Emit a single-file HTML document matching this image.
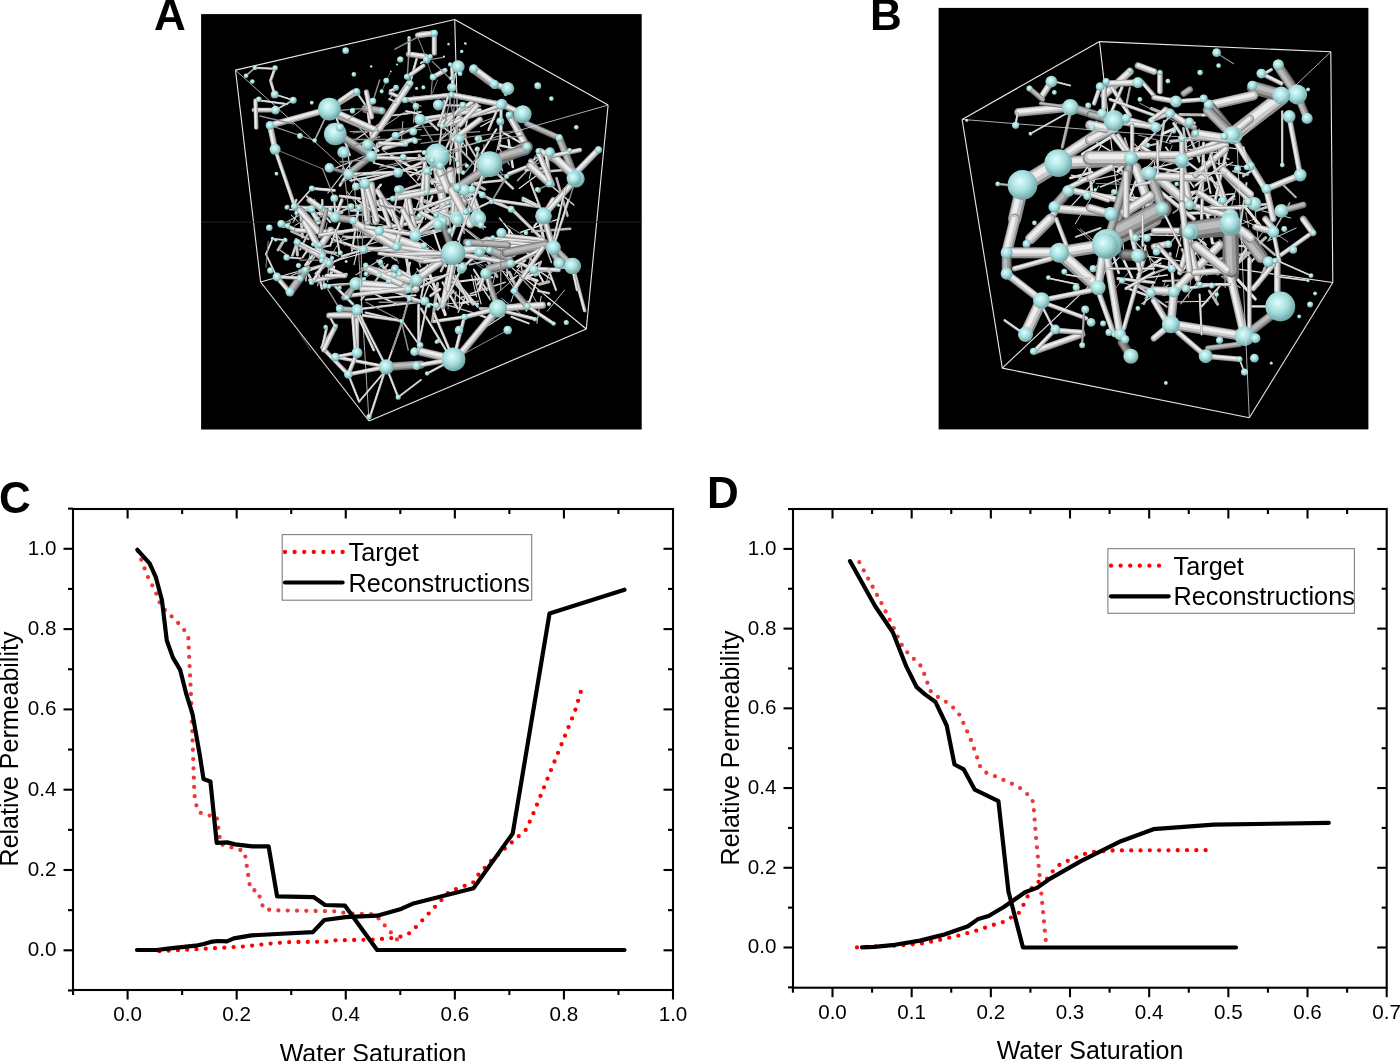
<!DOCTYPE html>
<html><head><meta charset="utf-8"><style>
html,body{margin:0;padding:0;background:#fff;}
svg{display:block;will-change:transform;}
text{font-family:"Liberation Sans", sans-serif;fill:#000;}
</style></head><body>
<svg width="1400" height="1061" viewBox="0 0 1400 1061">
<defs>
<radialGradient id="sg" cx="0.42" cy="0.38" r="0.62"><stop offset="0" stop-color="#dcffff"/><stop offset="0.55" stop-color="#a6dcdc"/><stop offset="1" stop-color="#6fa3a3"/></radialGradient>
<clipPath id="clipA"><rect x="201.1" y="14.1" width="440.6" height="415.4"/></clipPath>
<clipPath id="clipB"><rect x="938.6" y="7.9" width="429.8" height="421.5"/></clipPath>
</defs>
<rect width="1400" height="1061" fill="#fff"/>
<rect x="201.1" y="14.1" width="440.6" height="415.4" fill="#000"/>
<rect x="938.6" y="7.9" width="429.8" height="421.5" fill="#000"/>
<line x1="235.5" y1="70.1" x2="454.7" y2="19.5" stroke="#e8e8e8" stroke-width="1.1"/>
<line x1="454.7" y1="19.5" x2="608.1" y2="105.1" stroke="#e8e8e8" stroke-width="1.1"/>
<line x1="608.1" y1="105.1" x2="586.3" y2="329" stroke="#e8e8e8" stroke-width="1.1"/>
<line x1="586.3" y1="329" x2="369" y2="421" stroke="#e8e8e8" stroke-width="1.1"/>
<line x1="369" y1="421" x2="260.6" y2="282" stroke="#e8e8e8" stroke-width="1.1"/>
<line x1="260.6" y1="282" x2="235.5" y2="70.1" stroke="#e8e8e8" stroke-width="1.1"/>
<line x1="460.5" y1="225.5" x2="454.7" y2="19.5" stroke="#e8e8e8" stroke-width="1.1"/>
<line x1="460.5" y1="225.5" x2="586.3" y2="329" stroke="#e8e8e8" stroke-width="1.1"/>
<line x1="460.5" y1="225.5" x2="260.6" y2="282" stroke="#e8e8e8" stroke-width="1.1"/>
<line x1="962.1" y1="119.4" x2="1099.5" y2="41.6" stroke="#e8e8e8" stroke-width="1.1"/>
<line x1="1099.5" y1="41.6" x2="1330.8" y2="51.8" stroke="#e8e8e8" stroke-width="1.1"/>
<line x1="1330.8" y1="51.8" x2="1332.8" y2="282.5" stroke="#e8e8e8" stroke-width="1.1"/>
<line x1="1332.8" y1="282.5" x2="1249.3" y2="417.7" stroke="#e8e8e8" stroke-width="1.1"/>
<line x1="1249.3" y1="417.7" x2="1002.3" y2="368.1" stroke="#e8e8e8" stroke-width="1.1"/>
<line x1="1002.3" y1="368.1" x2="962.1" y2="119.4" stroke="#e8e8e8" stroke-width="1.1"/>
<line x1="1124" y1="253" x2="1099.5" y2="41.6" stroke="#e8e8e8" stroke-width="1.1"/>
<line x1="1124" y1="253" x2="1332.8" y2="282.5" stroke="#e8e8e8" stroke-width="1.1"/>
<line x1="1124" y1="253" x2="1002.3" y2="368.1" stroke="#e8e8e8" stroke-width="1.1"/>
<g clip-path="url(#clipA)">
<line x1="508.5" y1="140.1" x2="512.8" y2="167.1" stroke="#e2e2e2" stroke-width="2.5" stroke-linecap="round"/>
<line x1="521.2" y1="117.0" x2="511.6" y2="122.4" stroke="#c8c8c8" stroke-width="1.5" stroke-linecap="round"/>
<line x1="500.4" y1="137.7" x2="489.7" y2="174.2" stroke="#b8b8b8" stroke-width="0.8" stroke-linecap="round"/>
<line x1="450.5" y1="289.9" x2="468.6" y2="304.6" stroke="#c8c8c8" stroke-width="1.5" stroke-linecap="round"/>
<line x1="459.9" y1="239.2" x2="452.8" y2="281.5" stroke="#d6d6d6" stroke-width="1.2" stroke-linecap="round"/>
<line x1="511.8" y1="254.8" x2="469.6" y2="264.8" stroke="#c8c8c8" stroke-width="1.5" stroke-linecap="round"/>
<line x1="428.6" y1="248.1" x2="394.4" y2="255.0" stroke="#d6d6d6" stroke-width="1.5" stroke-linecap="round"/>
<line x1="422.9" y1="213.9" x2="386.7" y2="232.9" stroke="#e2e2e2" stroke-width="2.0" stroke-linecap="round"/>
<line x1="477.9" y1="101.8" x2="463.0" y2="112.7" stroke="#d6d6d6" stroke-width="1.5" stroke-linecap="round"/>
<line x1="432.1" y1="271.8" x2="406.8" y2="299.0" stroke="#e2e2e2" stroke-width="0.8" stroke-linecap="round"/>
<line x1="494.6" y1="118.9" x2="480.8" y2="126.5" stroke="#e2e2e2" stroke-width="1.2" stroke-linecap="round"/>
<line x1="409.8" y1="262.9" x2="402.1" y2="293.4" stroke="#d6d6d6" stroke-width="2.5" stroke-linecap="round"/>
<line x1="369.6" y1="144.6" x2="378.0" y2="150.7" stroke="#d6d6d6" stroke-width="3.0" stroke-linecap="round"/>
<line x1="419.2" y1="154.4" x2="436.8" y2="190.0" stroke="#c8c8c8" stroke-width="1.2" stroke-linecap="round"/>
<line x1="444.6" y1="275.8" x2="401.9" y2="284.1" stroke="#d6d6d6" stroke-width="2.0" stroke-linecap="round"/>
<line x1="442.0" y1="215.7" x2="466.6" y2="220.1" stroke="#b8b8b8" stroke-width="3.0" stroke-linecap="round"/>
<line x1="465.4" y1="128.1" x2="466.8" y2="155.8" stroke="#e2e2e2" stroke-width="1.2" stroke-linecap="round"/>
<line x1="420.1" y1="198.2" x2="409.1" y2="228.0" stroke="#c8c8c8" stroke-width="1.5" stroke-linecap="round"/>
<line x1="507.7" y1="225.6" x2="532.4" y2="241.3" stroke="#b8b8b8" stroke-width="0.8" stroke-linecap="round"/>
<line x1="432.6" y1="251.0" x2="445.8" y2="265.8" stroke="#d6d6d6" stroke-width="3.0" stroke-linecap="round"/>
<line x1="414.9" y1="106.8" x2="413.5" y2="122.4" stroke="#b8b8b8" stroke-width="1.0" stroke-linecap="round"/>
<line x1="483.9" y1="144.5" x2="484.3" y2="179.1" stroke="#c8c8c8" stroke-width="0.8" stroke-linecap="round"/>
<line x1="393.7" y1="158.4" x2="419.8" y2="185.8" stroke="#d6d6d6" stroke-width="1.2" stroke-linecap="round"/>
<line x1="540.3" y1="176.3" x2="573.8" y2="205.0" stroke="#d6d6d6" stroke-width="1.5" stroke-linecap="round"/>
<line x1="448.3" y1="200.1" x2="426.7" y2="212.6" stroke="#e2e2e2" stroke-width="2.5" stroke-linecap="round"/>
<line x1="389.1" y1="224.6" x2="383.5" y2="247.8" stroke="#e2e2e2" stroke-width="1.2" stroke-linecap="round"/>
<line x1="368.8" y1="154.3" x2="328.2" y2="171.1" stroke="#c8c8c8" stroke-width="1.2" stroke-linecap="round"/>
<line x1="547.3" y1="149.7" x2="517.6" y2="180.6" stroke="#b8b8b8" stroke-width="1.5" stroke-linecap="round"/>
<line x1="370.6" y1="198.7" x2="359.4" y2="236.8" stroke="#e2e2e2" stroke-width="1.0" stroke-linecap="round"/>
<line x1="387.6" y1="264.6" x2="361.3" y2="299.9" stroke="#c8c8c8" stroke-width="2.0" stroke-linecap="round"/>
<line x1="426.4" y1="165.5" x2="417.5" y2="180.2" stroke="#d6d6d6" stroke-width="1.5" stroke-linecap="round"/>
<line x1="448.4" y1="285.1" x2="448.1" y2="308.8" stroke="#b8b8b8" stroke-width="0.8" stroke-linecap="round"/>
<line x1="467.0" y1="179.8" x2="484.5" y2="189.2" stroke="#b8b8b8" stroke-width="3.0" stroke-linecap="round"/>
<line x1="356.9" y1="187.3" x2="375.3" y2="193.0" stroke="#b8b8b8" stroke-width="1.5" stroke-linecap="round"/>
<line x1="443.9" y1="258.4" x2="471.9" y2="264.2" stroke="#c8c8c8" stroke-width="0.8" stroke-linecap="round"/>
<line x1="356.0" y1="124.2" x2="375.2" y2="145.7" stroke="#b8b8b8" stroke-width="1.2" stroke-linecap="round"/>
<line x1="428.9" y1="167.4" x2="410.4" y2="175.5" stroke="#e2e2e2" stroke-width="2.0" stroke-linecap="round"/>
<line x1="359.4" y1="214.9" x2="372.9" y2="216.6" stroke="#e2e2e2" stroke-width="0.8" stroke-linecap="round"/>
<line x1="524.9" y1="248.4" x2="543.6" y2="282.6" stroke="#e2e2e2" stroke-width="2.0" stroke-linecap="round"/>
<line x1="367.4" y1="213.3" x2="337.9" y2="217.8" stroke="#b8b8b8" stroke-width="1.2" stroke-linecap="round"/>
<line x1="456.4" y1="284.3" x2="473.2" y2="304.2" stroke="#c8c8c8" stroke-width="3.0" stroke-linecap="round"/>
<line x1="495.8" y1="116.8" x2="482.6" y2="121.7" stroke="#d6d6d6" stroke-width="0.8" stroke-linecap="round"/>
<line x1="426.1" y1="118.8" x2="437.6" y2="129.7" stroke="#c8c8c8" stroke-width="2.5" stroke-linecap="round"/>
<line x1="437.6" y1="283.6" x2="432.5" y2="321.5" stroke="#b8b8b8" stroke-width="3.0" stroke-linecap="round"/>
<line x1="453.2" y1="243.1" x2="469.9" y2="255.8" stroke="#c8c8c8" stroke-width="1.2" stroke-linecap="round"/>
<line x1="544.3" y1="242.6" x2="551.4" y2="262.6" stroke="#c8c8c8" stroke-width="1.5" stroke-linecap="round"/>
<line x1="347.6" y1="151.3" x2="351.9" y2="182.0" stroke="#d6d6d6" stroke-width="1.2" stroke-linecap="round"/>
<line x1="534.4" y1="255.0" x2="496.7" y2="271.7" stroke="#b8b8b8" stroke-width="1.5" stroke-linecap="round"/>
<line x1="387.2" y1="206.5" x2="402.0" y2="221.0" stroke="#b8b8b8" stroke-width="0.8" stroke-linecap="round"/>
<line x1="357.1" y1="251.8" x2="354.0" y2="264.6" stroke="#d6d6d6" stroke-width="1.2" stroke-linecap="round"/>
<line x1="419.0" y1="155.4" x2="430.7" y2="173.4" stroke="#b8b8b8" stroke-width="3.0" stroke-linecap="round"/>
<line x1="404.5" y1="112.3" x2="378.6" y2="130.1" stroke="#d6d6d6" stroke-width="0.8" stroke-linecap="round"/>
<line x1="377.6" y1="260.8" x2="393.6" y2="278.7" stroke="#c8c8c8" stroke-width="3.0" stroke-linecap="round"/>
<line x1="398.6" y1="192.2" x2="436.6" y2="204.7" stroke="#b8b8b8" stroke-width="3.0" stroke-linecap="round"/>
<line x1="393.7" y1="251.2" x2="356.0" y2="274.8" stroke="#b8b8b8" stroke-width="1.2" stroke-linecap="round"/>
<line x1="346.8" y1="191.2" x2="372.3" y2="224.8" stroke="#d6d6d6" stroke-width="1.0" stroke-linecap="round"/>
<line x1="476.2" y1="241.8" x2="444.7" y2="261.7" stroke="#d6d6d6" stroke-width="2.0" stroke-linecap="round"/>
<line x1="380.8" y1="184.8" x2="371.1" y2="196.9" stroke="#d6d6d6" stroke-width="2.5" stroke-linecap="round"/>
<line x1="458.4" y1="194.0" x2="464.2" y2="233.4" stroke="#b8b8b8" stroke-width="1.5" stroke-linecap="round"/>
<line x1="392.9" y1="198.0" x2="356.0" y2="206.0" stroke="#c8c8c8" stroke-width="2.0" stroke-linecap="round"/>
<line x1="342.5" y1="171.7" x2="356.2" y2="177.4" stroke="#b8b8b8" stroke-width="1.2" stroke-linecap="round"/>
<line x1="414.8" y1="173.7" x2="438.2" y2="194.8" stroke="#d6d6d6" stroke-width="0.8" stroke-linecap="round"/>
<line x1="453.5" y1="189.1" x2="459.8" y2="221.2" stroke="#d6d6d6" stroke-width="2.5" stroke-linecap="round"/>
<line x1="379.7" y1="195.3" x2="400.0" y2="212.7" stroke="#b8b8b8" stroke-width="1.5" stroke-linecap="round"/>
<line x1="450.2" y1="274.4" x2="477.6" y2="306.5" stroke="#d6d6d6" stroke-width="2.5" stroke-linecap="round"/>
<line x1="458.5" y1="279.0" x2="446.9" y2="289.5" stroke="#b8b8b8" stroke-width="1.0" stroke-linecap="round"/>
<line x1="391.0" y1="155.6" x2="416.4" y2="170.2" stroke="#e2e2e2" stroke-width="2.5" stroke-linecap="round"/>
<line x1="492.3" y1="277.2" x2="451.2" y2="282.4" stroke="#e2e2e2" stroke-width="2.0" stroke-linecap="round"/>
<line x1="377.5" y1="144.0" x2="373.6" y2="161.2" stroke="#c8c8c8" stroke-width="3.0" stroke-linecap="round"/>
<line x1="443.1" y1="167.6" x2="454.6" y2="197.7" stroke="#d6d6d6" stroke-width="3.0" stroke-linecap="round"/>
<line x1="446.6" y1="304.8" x2="473.8" y2="312.8" stroke="#c8c8c8" stroke-width="1.2" stroke-linecap="round"/>
<line x1="376.8" y1="282.5" x2="416.3" y2="300.9" stroke="#c8c8c8" stroke-width="3.0" stroke-linecap="round"/>
<line x1="429.4" y1="273.6" x2="445.3" y2="314.6" stroke="#e2e2e2" stroke-width="3.0" stroke-linecap="round"/>
<line x1="431.1" y1="279.4" x2="421.6" y2="302.9" stroke="#d6d6d6" stroke-width="1.5" stroke-linecap="round"/>
<line x1="351.1" y1="221.7" x2="373.7" y2="230.5" stroke="#b8b8b8" stroke-width="1.2" stroke-linecap="round"/>
<line x1="387.9" y1="254.6" x2="396.3" y2="260.3" stroke="#c8c8c8" stroke-width="1.5" stroke-linecap="round"/>
<line x1="383.5" y1="151.1" x2="397.9" y2="158.3" stroke="#b8b8b8" stroke-width="1.0" stroke-linecap="round"/>
<line x1="403.3" y1="239.8" x2="409.8" y2="278.3" stroke="#d6d6d6" stroke-width="3.0" stroke-linecap="round"/>
<line x1="475.4" y1="189.8" x2="445.5" y2="216.3" stroke="#e2e2e2" stroke-width="2.0" stroke-linecap="round"/>
<line x1="361.3" y1="268.6" x2="402.9" y2="271.8" stroke="#c8c8c8" stroke-width="2.0" stroke-linecap="round"/>
<line x1="478.7" y1="301.1" x2="442.2" y2="304.2" stroke="#c8c8c8" stroke-width="1.0" stroke-linecap="round"/>
<line x1="450.2" y1="209.8" x2="450.0" y2="230.7" stroke="#b8b8b8" stroke-width="1.2" stroke-linecap="round"/>
<line x1="447.7" y1="156.5" x2="429.1" y2="171.6" stroke="#e2e2e2" stroke-width="2.5" stroke-linecap="round"/>
<line x1="432.2" y1="196.5" x2="413.7" y2="237.4" stroke="#d6d6d6" stroke-width="2.5" stroke-linecap="round"/>
<line x1="556.5" y1="178.1" x2="567.5" y2="215.7" stroke="#b8b8b8" stroke-width="2.5" stroke-linecap="round"/>
<line x1="496.4" y1="129.4" x2="481.3" y2="153.5" stroke="#e2e2e2" stroke-width="2.0" stroke-linecap="round"/>
<line x1="574.0" y1="169.3" x2="542.3" y2="171.8" stroke="#c8c8c8" stroke-width="2.5" stroke-linecap="round"/>
<line x1="455.6" y1="242.1" x2="441.0" y2="271.1" stroke="#c8c8c8" stroke-width="2.5" stroke-linecap="round"/>
<line x1="444.4" y1="229.0" x2="412.8" y2="235.3" stroke="#b8b8b8" stroke-width="3.0" stroke-linecap="round"/>
<line x1="535.9" y1="243.0" x2="523.4" y2="279.4" stroke="#b8b8b8" stroke-width="1.2" stroke-linecap="round"/>
<line x1="483.6" y1="154.2" x2="501.5" y2="173.3" stroke="#e2e2e2" stroke-width="1.0" stroke-linecap="round"/>
<line x1="454.3" y1="150.4" x2="450.5" y2="163.3" stroke="#b8b8b8" stroke-width="0.8" stroke-linecap="round"/>
<line x1="355.2" y1="186.7" x2="345.6" y2="199.1" stroke="#c8c8c8" stroke-width="1.0" stroke-linecap="round"/>
<line x1="415.1" y1="235.2" x2="439.8" y2="254.2" stroke="#d6d6d6" stroke-width="1.0" stroke-linecap="round"/>
<line x1="544.2" y1="153.3" x2="533.3" y2="159.7" stroke="#b8b8b8" stroke-width="2.0" stroke-linecap="round"/>
<line x1="439.1" y1="212.4" x2="446.1" y2="221.8" stroke="#b8b8b8" stroke-width="2.5" stroke-linecap="round"/>
<line x1="413.2" y1="244.1" x2="420.5" y2="266.7" stroke="#b8b8b8" stroke-width="1.5" stroke-linecap="round"/>
<line x1="543.2" y1="168.2" x2="525.5" y2="170.2" stroke="#d6d6d6" stroke-width="2.5" stroke-linecap="round"/>
<line x1="539.6" y1="220.4" x2="544.1" y2="241.0" stroke="#d6d6d6" stroke-width="3.0" stroke-linecap="round"/>
<line x1="501.8" y1="131.9" x2="529.5" y2="147.8" stroke="#e2e2e2" stroke-width="2.0" stroke-linecap="round"/>
<line x1="476.2" y1="294.6" x2="461.2" y2="297.2" stroke="#d6d6d6" stroke-width="1.5" stroke-linecap="round"/>
<line x1="486.4" y1="163.4" x2="512.8" y2="188.3" stroke="#d6d6d6" stroke-width="2.5" stroke-linecap="round"/>
<line x1="498.1" y1="157.6" x2="502.4" y2="170.7" stroke="#c8c8c8" stroke-width="1.5" stroke-linecap="round"/>
<line x1="509.3" y1="229.9" x2="506.8" y2="257.1" stroke="#e2e2e2" stroke-width="2.5" stroke-linecap="round"/>
<line x1="417.8" y1="270.1" x2="409.7" y2="281.8" stroke="#d6d6d6" stroke-width="0.8" stroke-linecap="round"/>
<line x1="416.9" y1="198.1" x2="437.0" y2="209.8" stroke="#d6d6d6" stroke-width="1.0" stroke-linecap="round"/>
<line x1="459.5" y1="129.4" x2="477.3" y2="159.6" stroke="#c8c8c8" stroke-width="2.0" stroke-linecap="round"/>
<line x1="535.2" y1="155.8" x2="529.3" y2="178.4" stroke="#e2e2e2" stroke-width="1.0" stroke-linecap="round"/>
<line x1="384.8" y1="263.2" x2="358.8" y2="282.9" stroke="#c8c8c8" stroke-width="0.8" stroke-linecap="round"/>
<line x1="427.0" y1="269.8" x2="421.1" y2="298.2" stroke="#d6d6d6" stroke-width="1.2" stroke-linecap="round"/>
<line x1="343.0" y1="236.5" x2="363.6" y2="237.4" stroke="#c8c8c8" stroke-width="2.0" stroke-linecap="round"/>
<line x1="472.2" y1="113.5" x2="439.3" y2="140.6" stroke="#c8c8c8" stroke-width="1.5" stroke-linecap="round"/>
<line x1="374.1" y1="199.3" x2="383.4" y2="210.5" stroke="#d6d6d6" stroke-width="3.0" stroke-linecap="round"/>
<line x1="503.5" y1="180.3" x2="471.5" y2="183.4" stroke="#d6d6d6" stroke-width="2.5" stroke-linecap="round"/>
<line x1="375.4" y1="213.6" x2="407.5" y2="233.3" stroke="#c8c8c8" stroke-width="1.5" stroke-linecap="round"/>
<line x1="552.1" y1="203.5" x2="534.3" y2="226.2" stroke="#e2e2e2" stroke-width="2.0" stroke-linecap="round"/>
<line x1="375.0" y1="223.3" x2="417.9" y2="233.2" stroke="#c8c8c8" stroke-width="1.0" stroke-linecap="round"/>
<line x1="525.9" y1="277.3" x2="537.2" y2="280.6" stroke="#e2e2e2" stroke-width="3.0" stroke-linecap="round"/>
<line x1="440.6" y1="116.8" x2="459.9" y2="124.9" stroke="#e2e2e2" stroke-width="0.8" stroke-linecap="round"/>
<line x1="505.2" y1="282.3" x2="470.3" y2="293.8" stroke="#c8c8c8" stroke-width="1.5" stroke-linecap="round"/>
<line x1="499.5" y1="148.7" x2="509.3" y2="164.7" stroke="#c8c8c8" stroke-width="1.2" stroke-linecap="round"/>
<line x1="391.5" y1="245.5" x2="398.5" y2="263.3" stroke="#b8b8b8" stroke-width="0.8" stroke-linecap="round"/>
<line x1="451.2" y1="122.0" x2="450.0" y2="164.3" stroke="#e2e2e2" stroke-width="1.5" stroke-linecap="round"/>
<line x1="371.9" y1="236.6" x2="346.2" y2="237.5" stroke="#c8c8c8" stroke-width="2.5" stroke-linecap="round"/>
<line x1="402.8" y1="121.5" x2="401.2" y2="144.4" stroke="#e2e2e2" stroke-width="0.8" stroke-linecap="round"/>
<line x1="419.3" y1="217.6" x2="409.6" y2="223.9" stroke="#b8b8b8" stroke-width="2.5" stroke-linecap="round"/>
<line x1="437.9" y1="160.0" x2="424.2" y2="173.9" stroke="#c8c8c8" stroke-width="2.0" stroke-linecap="round"/>
<line x1="445.1" y1="113.3" x2="467.0" y2="149.2" stroke="#c8c8c8" stroke-width="1.2" stroke-linecap="round"/>
<line x1="433.6" y1="146.9" x2="444.3" y2="170.5" stroke="#e2e2e2" stroke-width="2.5" stroke-linecap="round"/>
<line x1="381.0" y1="209.6" x2="350.9" y2="210.3" stroke="#d6d6d6" stroke-width="3.0" stroke-linecap="round"/>
<line x1="507.8" y1="254.8" x2="485.5" y2="258.8" stroke="#b8b8b8" stroke-width="2.5" stroke-linecap="round"/>
<line x1="429.8" y1="175.5" x2="425.4" y2="219.6" stroke="#c8c8c8" stroke-width="1.0" stroke-linecap="round"/>
<line x1="383.3" y1="240.0" x2="354.9" y2="248.6" stroke="#e2e2e2" stroke-width="1.0" stroke-linecap="round"/>
<line x1="570.2" y1="228.8" x2="531.9" y2="231.4" stroke="#b8b8b8" stroke-width="2.5" stroke-linecap="round"/>
<line x1="500.7" y1="136.9" x2="498.0" y2="148.9" stroke="#c8c8c8" stroke-width="2.5" stroke-linecap="round"/>
<line x1="539.4" y1="262.5" x2="524.0" y2="271.1" stroke="#e2e2e2" stroke-width="2.0" stroke-linecap="round"/>
<line x1="352.2" y1="161.6" x2="327.9" y2="193.0" stroke="#d6d6d6" stroke-width="1.2" stroke-linecap="round"/>
<line x1="559.0" y1="218.9" x2="521.0" y2="232.3" stroke="#e2e2e2" stroke-width="1.5" stroke-linecap="round"/>
<line x1="486.4" y1="254.7" x2="517.5" y2="287.2" stroke="#c8c8c8" stroke-width="1.0" stroke-linecap="round"/>
<line x1="506.2" y1="247.8" x2="507.3" y2="275.8" stroke="#e2e2e2" stroke-width="1.5" stroke-linecap="round"/>
<line x1="446.2" y1="131.4" x2="434.7" y2="148.3" stroke="#c8c8c8" stroke-width="0.8" stroke-linecap="round"/>
<line x1="499.5" y1="218.1" x2="527.7" y2="252.8" stroke="#e2e2e2" stroke-width="1.5" stroke-linecap="round"/>
<line x1="461.8" y1="216.9" x2="485.5" y2="227.2" stroke="#d6d6d6" stroke-width="1.5" stroke-linecap="round"/>
<line x1="464.8" y1="297.9" x2="458.2" y2="312.2" stroke="#c8c8c8" stroke-width="1.5" stroke-linecap="round"/>
<line x1="440.0" y1="177.5" x2="399.5" y2="191.4" stroke="#c8c8c8" stroke-width="2.5" stroke-linecap="round"/>
<line x1="540.2" y1="172.7" x2="519.1" y2="188.4" stroke="#e2e2e2" stroke-width="1.2" stroke-linecap="round"/>
<line x1="387.0" y1="118.8" x2="349.6" y2="143.5" stroke="#d6d6d6" stroke-width="1.2" stroke-linecap="round"/>
<line x1="455.1" y1="144.0" x2="486.1" y2="176.6" stroke="#b8b8b8" stroke-width="2.0" stroke-linecap="round"/>
<line x1="514.7" y1="237.1" x2="495.5" y2="253.3" stroke="#d6d6d6" stroke-width="1.5" stroke-linecap="round"/>
<line x1="453.1" y1="290.8" x2="437.6" y2="309.1" stroke="#c8c8c8" stroke-width="3.0" stroke-linecap="round"/>
<line x1="359.0" y1="206.3" x2="352.0" y2="250.7" stroke="#e2e2e2" stroke-width="2.0" stroke-linecap="round"/>
<line x1="393.9" y1="291.7" x2="435.6" y2="305.7" stroke="#e2e2e2" stroke-width="2.0" stroke-linecap="round"/>
<line x1="539.3" y1="236.9" x2="514.7" y2="274.4" stroke="#e2e2e2" stroke-width="1.0" stroke-linecap="round"/>
<line x1="515.6" y1="244.2" x2="524.7" y2="251.5" stroke="#c8c8c8" stroke-width="2.5" stroke-linecap="round"/>
<line x1="433.4" y1="230.3" x2="442.4" y2="256.2" stroke="#e2e2e2" stroke-width="2.0" stroke-linecap="round"/>
<line x1="342.5" y1="168.8" x2="376.2" y2="193.5" stroke="#b8b8b8" stroke-width="2.0" stroke-linecap="round"/>
<line x1="417.0" y1="268.9" x2="444.6" y2="304.1" stroke="#d6d6d6" stroke-width="1.5" stroke-linecap="round"/>
<line x1="519.6" y1="249.2" x2="498.9" y2="257.1" stroke="#b8b8b8" stroke-width="2.5" stroke-linecap="round"/>
<line x1="357.8" y1="228.3" x2="338.2" y2="234.4" stroke="#d6d6d6" stroke-width="0.8" stroke-linecap="round"/>
<line x1="443.5" y1="152.6" x2="460.2" y2="161.0" stroke="#d6d6d6" stroke-width="1.2" stroke-linecap="round"/>
</g>
<g clip-path="url(#clipB)">
<line x1="1249.3" y1="238.4" x2="1268.3" y2="266.0" stroke="#d6d6d6" stroke-width="2.0" stroke-linecap="round"/>
<line x1="1206.8" y1="213.7" x2="1210.2" y2="228.8" stroke="#b8b8b8" stroke-width="1.5" stroke-linecap="round"/>
<line x1="1185.1" y1="192.9" x2="1204.4" y2="195.1" stroke="#b8b8b8" stroke-width="0.8" stroke-linecap="round"/>
<line x1="1188.3" y1="164.8" x2="1166.3" y2="172.6" stroke="#d6d6d6" stroke-width="2.0" stroke-linecap="round"/>
<line x1="1195.5" y1="147.6" x2="1201.1" y2="156.8" stroke="#b8b8b8" stroke-width="1.0" stroke-linecap="round"/>
<line x1="1265.6" y1="237.7" x2="1234.9" y2="266.0" stroke="#b8b8b8" stroke-width="3.0" stroke-linecap="round"/>
<line x1="1167.3" y1="275.0" x2="1141.9" y2="278.6" stroke="#e2e2e2" stroke-width="1.5" stroke-linecap="round"/>
<line x1="1219.0" y1="145.1" x2="1219.1" y2="164.9" stroke="#b8b8b8" stroke-width="2.0" stroke-linecap="round"/>
<line x1="1211.2" y1="177.4" x2="1230.0" y2="214.5" stroke="#e2e2e2" stroke-width="2.5" stroke-linecap="round"/>
<line x1="1188.3" y1="140.7" x2="1175.8" y2="158.0" stroke="#b8b8b8" stroke-width="1.0" stroke-linecap="round"/>
<line x1="1145.5" y1="245.7" x2="1137.9" y2="284.0" stroke="#e2e2e2" stroke-width="2.0" stroke-linecap="round"/>
<line x1="1157.3" y1="143.7" x2="1129.9" y2="149.4" stroke="#c8c8c8" stroke-width="2.0" stroke-linecap="round"/>
<line x1="1251.8" y1="170.5" x2="1243.2" y2="176.1" stroke="#c8c8c8" stroke-width="2.5" stroke-linecap="round"/>
<line x1="1080.5" y1="229.2" x2="1095.3" y2="242.0" stroke="#d6d6d6" stroke-width="0.8" stroke-linecap="round"/>
<line x1="1129.1" y1="271.5" x2="1113.5" y2="290.7" stroke="#c8c8c8" stroke-width="0.8" stroke-linecap="round"/>
<line x1="1138.5" y1="135.1" x2="1170.9" y2="143.7" stroke="#c8c8c8" stroke-width="0.8" stroke-linecap="round"/>
<line x1="1171.5" y1="114.7" x2="1142.7" y2="146.4" stroke="#c8c8c8" stroke-width="2.0" stroke-linecap="round"/>
<line x1="1140.0" y1="103.4" x2="1179.7" y2="123.9" stroke="#c8c8c8" stroke-width="0.8" stroke-linecap="round"/>
<line x1="1133.9" y1="221.8" x2="1167.6" y2="234.3" stroke="#e2e2e2" stroke-width="1.2" stroke-linecap="round"/>
<line x1="1094.4" y1="181.3" x2="1069.2" y2="208.1" stroke="#e2e2e2" stroke-width="1.2" stroke-linecap="round"/>
<line x1="1254.7" y1="237.4" x2="1274.8" y2="254.7" stroke="#b8b8b8" stroke-width="2.5" stroke-linecap="round"/>
<line x1="1182.1" y1="249.6" x2="1196.0" y2="272.8" stroke="#b8b8b8" stroke-width="3.0" stroke-linecap="round"/>
<line x1="1119.7" y1="225.5" x2="1144.3" y2="226.9" stroke="#d6d6d6" stroke-width="2.0" stroke-linecap="round"/>
<line x1="1216.2" y1="151.9" x2="1228.8" y2="159.3" stroke="#d6d6d6" stroke-width="1.5" stroke-linecap="round"/>
<line x1="1208.2" y1="301.3" x2="1165.5" y2="302.1" stroke="#e2e2e2" stroke-width="1.0" stroke-linecap="round"/>
<line x1="1118.4" y1="248.9" x2="1132.0" y2="277.7" stroke="#e2e2e2" stroke-width="2.5" stroke-linecap="round"/>
<line x1="1133.6" y1="248.0" x2="1139.0" y2="262.3" stroke="#c8c8c8" stroke-width="1.0" stroke-linecap="round"/>
<line x1="1180.9" y1="122.1" x2="1194.4" y2="123.0" stroke="#d6d6d6" stroke-width="3.0" stroke-linecap="round"/>
<line x1="1217.0" y1="182.4" x2="1227.6" y2="209.1" stroke="#d6d6d6" stroke-width="2.5" stroke-linecap="round"/>
<line x1="1238.9" y1="178.2" x2="1231.8" y2="205.2" stroke="#e2e2e2" stroke-width="0.8" stroke-linecap="round"/>
<line x1="1289.7" y1="202.9" x2="1269.0" y2="239.7" stroke="#b8b8b8" stroke-width="1.5" stroke-linecap="round"/>
<line x1="1117.8" y1="174.7" x2="1084.4" y2="181.9" stroke="#c8c8c8" stroke-width="1.2" stroke-linecap="round"/>
<line x1="1113.9" y1="135.0" x2="1082.3" y2="154.4" stroke="#e2e2e2" stroke-width="3.0" stroke-linecap="round"/>
<line x1="1100.5" y1="228.0" x2="1075.9" y2="236.9" stroke="#c8c8c8" stroke-width="2.0" stroke-linecap="round"/>
<line x1="1142.0" y1="240.9" x2="1142.5" y2="258.5" stroke="#b8b8b8" stroke-width="0.8" stroke-linecap="round"/>
<line x1="1155.3" y1="180.4" x2="1167.1" y2="214.9" stroke="#b8b8b8" stroke-width="0.8" stroke-linecap="round"/>
<line x1="1274.4" y1="215.3" x2="1249.6" y2="251.1" stroke="#e2e2e2" stroke-width="0.8" stroke-linecap="round"/>
<line x1="1240.1" y1="237.3" x2="1251.9" y2="262.1" stroke="#d6d6d6" stroke-width="1.5" stroke-linecap="round"/>
<line x1="1208.5" y1="188.0" x2="1173.1" y2="213.0" stroke="#b8b8b8" stroke-width="1.5" stroke-linecap="round"/>
<line x1="1164.2" y1="121.0" x2="1159.5" y2="151.5" stroke="#c8c8c8" stroke-width="2.5" stroke-linecap="round"/>
<line x1="1201.0" y1="262.6" x2="1206.8" y2="274.6" stroke="#d6d6d6" stroke-width="2.0" stroke-linecap="round"/>
<line x1="1230.5" y1="266.5" x2="1219.3" y2="267.4" stroke="#d6d6d6" stroke-width="1.5" stroke-linecap="round"/>
<line x1="1221.6" y1="276.5" x2="1240.1" y2="287.6" stroke="#c8c8c8" stroke-width="1.2" stroke-linecap="round"/>
<line x1="1280.5" y1="182.2" x2="1295.8" y2="197.3" stroke="#b8b8b8" stroke-width="2.0" stroke-linecap="round"/>
<line x1="1096.3" y1="122.0" x2="1128.3" y2="151.0" stroke="#b8b8b8" stroke-width="3.0" stroke-linecap="round"/>
<line x1="1245.8" y1="212.3" x2="1248.6" y2="227.1" stroke="#e2e2e2" stroke-width="0.8" stroke-linecap="round"/>
<line x1="1194.7" y1="192.0" x2="1179.8" y2="211.0" stroke="#e2e2e2" stroke-width="1.5" stroke-linecap="round"/>
<line x1="1171.0" y1="209.7" x2="1137.4" y2="219.3" stroke="#d6d6d6" stroke-width="0.8" stroke-linecap="round"/>
<line x1="1185.3" y1="124.6" x2="1199.2" y2="160.6" stroke="#c8c8c8" stroke-width="2.5" stroke-linecap="round"/>
<line x1="1141.6" y1="189.0" x2="1146.1" y2="230.5" stroke="#c8c8c8" stroke-width="1.0" stroke-linecap="round"/>
<line x1="1255.0" y1="218.9" x2="1216.0" y2="233.7" stroke="#e2e2e2" stroke-width="0.8" stroke-linecap="round"/>
<line x1="1260.3" y1="252.3" x2="1248.5" y2="264.5" stroke="#d6d6d6" stroke-width="2.0" stroke-linecap="round"/>
<line x1="1185.5" y1="223.0" x2="1180.0" y2="231.7" stroke="#b8b8b8" stroke-width="1.5" stroke-linecap="round"/>
<line x1="1205.4" y1="138.2" x2="1170.6" y2="141.2" stroke="#c8c8c8" stroke-width="3.0" stroke-linecap="round"/>
<line x1="1159.3" y1="273.8" x2="1144.8" y2="298.5" stroke="#e2e2e2" stroke-width="0.8" stroke-linecap="round"/>
<line x1="1189.1" y1="280.0" x2="1163.0" y2="281.0" stroke="#b8b8b8" stroke-width="2.0" stroke-linecap="round"/>
<line x1="1107.7" y1="237.2" x2="1118.7" y2="272.9" stroke="#d6d6d6" stroke-width="2.5" stroke-linecap="round"/>
<line x1="1098.6" y1="185.9" x2="1075.2" y2="223.9" stroke="#c8c8c8" stroke-width="1.0" stroke-linecap="round"/>
<line x1="1132.2" y1="197.9" x2="1142.2" y2="199.0" stroke="#e2e2e2" stroke-width="3.0" stroke-linecap="round"/>
<line x1="1199.1" y1="129.0" x2="1199.2" y2="162.7" stroke="#e2e2e2" stroke-width="1.0" stroke-linecap="round"/>
<line x1="1219.6" y1="239.8" x2="1233.8" y2="254.7" stroke="#b8b8b8" stroke-width="1.2" stroke-linecap="round"/>
<line x1="1153.0" y1="285.3" x2="1143.9" y2="304.1" stroke="#c8c8c8" stroke-width="2.0" stroke-linecap="round"/>
<line x1="1200.6" y1="140.0" x2="1173.2" y2="154.2" stroke="#c8c8c8" stroke-width="1.0" stroke-linecap="round"/>
<line x1="1133.1" y1="142.9" x2="1152.5" y2="160.2" stroke="#c8c8c8" stroke-width="1.2" stroke-linecap="round"/>
<line x1="1154.4" y1="162.4" x2="1156.1" y2="175.0" stroke="#e2e2e2" stroke-width="1.0" stroke-linecap="round"/>
<line x1="1192.3" y1="158.4" x2="1152.2" y2="168.4" stroke="#d6d6d6" stroke-width="1.5" stroke-linecap="round"/>
<line x1="1101.3" y1="145.5" x2="1092.5" y2="159.6" stroke="#d6d6d6" stroke-width="1.2" stroke-linecap="round"/>
<line x1="1160.8" y1="258.9" x2="1145.9" y2="269.2" stroke="#e2e2e2" stroke-width="2.5" stroke-linecap="round"/>
<line x1="1173.3" y1="265.6" x2="1152.9" y2="273.8" stroke="#b8b8b8" stroke-width="2.0" stroke-linecap="round"/>
<line x1="1258.2" y1="251.1" x2="1218.6" y2="259.3" stroke="#b8b8b8" stroke-width="3.0" stroke-linecap="round"/>
<line x1="1188.5" y1="227.2" x2="1195.6" y2="237.6" stroke="#d6d6d6" stroke-width="1.5" stroke-linecap="round"/>
<line x1="1119.5" y1="281.8" x2="1144.0" y2="288.7" stroke="#b8b8b8" stroke-width="1.0" stroke-linecap="round"/>
<line x1="1092.1" y1="172.3" x2="1070.3" y2="178.0" stroke="#e2e2e2" stroke-width="2.5" stroke-linecap="round"/>
<line x1="1255.1" y1="209.5" x2="1257.9" y2="238.3" stroke="#b8b8b8" stroke-width="1.0" stroke-linecap="round"/>
<line x1="1138.6" y1="287.4" x2="1150.6" y2="293.1" stroke="#b8b8b8" stroke-width="1.0" stroke-linecap="round"/>
<line x1="1125.8" y1="180.8" x2="1134.7" y2="197.3" stroke="#d6d6d6" stroke-width="1.0" stroke-linecap="round"/>
<line x1="1296.1" y1="228.0" x2="1267.6" y2="241.2" stroke="#c8c8c8" stroke-width="1.0" stroke-linecap="round"/>
<line x1="1170.1" y1="253.5" x2="1169.0" y2="268.1" stroke="#c8c8c8" stroke-width="3.0" stroke-linecap="round"/>
<line x1="1144.3" y1="243.8" x2="1154.5" y2="273.5" stroke="#e2e2e2" stroke-width="0.8" stroke-linecap="round"/>
<line x1="1246.5" y1="182.9" x2="1240.8" y2="223.0" stroke="#c8c8c8" stroke-width="2.0" stroke-linecap="round"/>
<line x1="1226.6" y1="211.9" x2="1182.1" y2="213.5" stroke="#e2e2e2" stroke-width="3.0" stroke-linecap="round"/>
<line x1="1124.3" y1="177.4" x2="1100.3" y2="187.0" stroke="#d6d6d6" stroke-width="1.5" stroke-linecap="round"/>
<line x1="1183.4" y1="128.3" x2="1186.6" y2="151.8" stroke="#c8c8c8" stroke-width="2.5" stroke-linecap="round"/>
<line x1="1121.8" y1="238.0" x2="1139.5" y2="239.4" stroke="#c8c8c8" stroke-width="1.5" stroke-linecap="round"/>
<line x1="1160.8" y1="263.3" x2="1137.1" y2="274.6" stroke="#d6d6d6" stroke-width="1.5" stroke-linecap="round"/>
<line x1="1179.7" y1="114.4" x2="1208.8" y2="115.0" stroke="#b8b8b8" stroke-width="3.0" stroke-linecap="round"/>
<line x1="1224.8" y1="272.7" x2="1225.2" y2="287.5" stroke="#c8c8c8" stroke-width="1.0" stroke-linecap="round"/>
<line x1="1136.0" y1="180.6" x2="1122.5" y2="216.0" stroke="#e2e2e2" stroke-width="2.5" stroke-linecap="round"/>
<line x1="1160.7" y1="232.1" x2="1137.4" y2="236.9" stroke="#d6d6d6" stroke-width="2.0" stroke-linecap="round"/>
<line x1="1195.0" y1="270.6" x2="1179.8" y2="272.7" stroke="#e2e2e2" stroke-width="1.0" stroke-linecap="round"/>
<line x1="1112.5" y1="170.1" x2="1126.3" y2="176.1" stroke="#b8b8b8" stroke-width="1.2" stroke-linecap="round"/>
<line x1="1245.2" y1="207.1" x2="1261.8" y2="227.8" stroke="#e2e2e2" stroke-width="3.0" stroke-linecap="round"/>
<line x1="1213.2" y1="243.2" x2="1246.1" y2="246.4" stroke="#d6d6d6" stroke-width="2.0" stroke-linecap="round"/>
<line x1="1116.6" y1="180.9" x2="1126.9" y2="185.7" stroke="#b8b8b8" stroke-width="0.8" stroke-linecap="round"/>
<line x1="1234.0" y1="196.2" x2="1225.2" y2="203.9" stroke="#d6d6d6" stroke-width="3.0" stroke-linecap="round"/>
<line x1="1254.2" y1="221.3" x2="1263.4" y2="227.9" stroke="#d6d6d6" stroke-width="0.8" stroke-linecap="round"/>
<line x1="1223.1" y1="212.7" x2="1206.7" y2="215.0" stroke="#e2e2e2" stroke-width="2.5" stroke-linecap="round"/>
<line x1="1209.4" y1="291.0" x2="1217.6" y2="304.2" stroke="#b8b8b8" stroke-width="3.0" stroke-linecap="round"/>
<line x1="1267.8" y1="206.7" x2="1256.1" y2="210.6" stroke="#c8c8c8" stroke-width="2.5" stroke-linecap="round"/>
<line x1="1179.4" y1="231.1" x2="1170.9" y2="242.6" stroke="#c8c8c8" stroke-width="1.2" stroke-linecap="round"/>
<line x1="1117.4" y1="158.0" x2="1126.9" y2="185.2" stroke="#d6d6d6" stroke-width="2.0" stroke-linecap="round"/>
<line x1="1176.9" y1="127.7" x2="1162.2" y2="133.8" stroke="#e2e2e2" stroke-width="3.0" stroke-linecap="round"/>
<line x1="1207.2" y1="213.1" x2="1212.4" y2="243.0" stroke="#e2e2e2" stroke-width="3.0" stroke-linecap="round"/>
<line x1="1089.1" y1="163.0" x2="1092.0" y2="194.8" stroke="#d6d6d6" stroke-width="3.0" stroke-linecap="round"/>
<line x1="1232.6" y1="162.3" x2="1217.6" y2="170.8" stroke="#c8c8c8" stroke-width="1.2" stroke-linecap="round"/>
<line x1="1111.2" y1="160.0" x2="1125.9" y2="175.2" stroke="#b8b8b8" stroke-width="2.5" stroke-linecap="round"/>
<line x1="1180.8" y1="237.7" x2="1176.2" y2="257.0" stroke="#d6d6d6" stroke-width="1.0" stroke-linecap="round"/>
<line x1="1117.9" y1="243.1" x2="1103.5" y2="275.3" stroke="#b8b8b8" stroke-width="1.5" stroke-linecap="round"/>
<line x1="1235.3" y1="199.1" x2="1198.6" y2="209.1" stroke="#b8b8b8" stroke-width="1.0" stroke-linecap="round"/>
<line x1="1265.0" y1="267.9" x2="1258.5" y2="284.6" stroke="#b8b8b8" stroke-width="3.0" stroke-linecap="round"/>
<line x1="1194.6" y1="235.9" x2="1215.6" y2="255.0" stroke="#c8c8c8" stroke-width="1.0" stroke-linecap="round"/>
<line x1="1146.9" y1="138.8" x2="1118.2" y2="170.9" stroke="#e2e2e2" stroke-width="3.0" stroke-linecap="round"/>
<line x1="1113.1" y1="194.7" x2="1089.4" y2="197.6" stroke="#d6d6d6" stroke-width="1.2" stroke-linecap="round"/>
<line x1="1192.6" y1="266.8" x2="1188.4" y2="297.6" stroke="#c8c8c8" stroke-width="0.8" stroke-linecap="round"/>
<line x1="1154.3" y1="184.3" x2="1166.1" y2="198.0" stroke="#b8b8b8" stroke-width="1.2" stroke-linecap="round"/>
<line x1="1198.5" y1="249.4" x2="1180.3" y2="273.6" stroke="#d6d6d6" stroke-width="2.5" stroke-linecap="round"/>
<line x1="1077.9" y1="228.9" x2="1090.4" y2="240.7" stroke="#d6d6d6" stroke-width="0.8" stroke-linecap="round"/>
<line x1="1218.4" y1="286.9" x2="1216.0" y2="300.2" stroke="#d6d6d6" stroke-width="0.8" stroke-linecap="round"/>
<line x1="1176.3" y1="123.9" x2="1166.2" y2="142.2" stroke="#c8c8c8" stroke-width="1.5" stroke-linecap="round"/>
<line x1="1135.1" y1="284.4" x2="1164.5" y2="294.7" stroke="#b8b8b8" stroke-width="3.0" stroke-linecap="round"/>
<line x1="1168.1" y1="285.2" x2="1141.8" y2="303.8" stroke="#d6d6d6" stroke-width="1.2" stroke-linecap="round"/>
<line x1="1233.2" y1="271.1" x2="1231.6" y2="283.7" stroke="#e2e2e2" stroke-width="2.0" stroke-linecap="round"/>
<line x1="1172.2" y1="145.3" x2="1166.4" y2="160.6" stroke="#b8b8b8" stroke-width="0.8" stroke-linecap="round"/>
<line x1="1202.4" y1="161.3" x2="1243.8" y2="166.6" stroke="#d6d6d6" stroke-width="1.0" stroke-linecap="round"/>
<line x1="1165.7" y1="280.2" x2="1161.5" y2="293.5" stroke="#d6d6d6" stroke-width="0.8" stroke-linecap="round"/>
<line x1="1124.8" y1="138.1" x2="1127.8" y2="147.9" stroke="#b8b8b8" stroke-width="2.0" stroke-linecap="round"/>
<line x1="1217.2" y1="149.1" x2="1188.8" y2="149.4" stroke="#e2e2e2" stroke-width="1.5" stroke-linecap="round"/>
<line x1="1180.4" y1="196.0" x2="1157.4" y2="197.9" stroke="#d6d6d6" stroke-width="2.0" stroke-linecap="round"/>
<line x1="1201.1" y1="191.1" x2="1176.1" y2="194.9" stroke="#e2e2e2" stroke-width="3.0" stroke-linecap="round"/>
<line x1="1107.5" y1="217.4" x2="1114.0" y2="230.4" stroke="#b8b8b8" stroke-width="0.8" stroke-linecap="round"/>
<line x1="1213.6" y1="209.7" x2="1217.0" y2="228.2" stroke="#d6d6d6" stroke-width="1.5" stroke-linecap="round"/>
<line x1="1174.3" y1="152.6" x2="1161.8" y2="165.1" stroke="#e2e2e2" stroke-width="0.8" stroke-linecap="round"/>
<line x1="1220.8" y1="105.6" x2="1202.7" y2="115.5" stroke="#e2e2e2" stroke-width="2.0" stroke-linecap="round"/>
<line x1="1205.9" y1="234.9" x2="1194.4" y2="249.6" stroke="#e2e2e2" stroke-width="1.2" stroke-linecap="round"/>
<line x1="1127.7" y1="288.4" x2="1149.0" y2="296.0" stroke="#d6d6d6" stroke-width="2.5" stroke-linecap="round"/>
<line x1="1219.0" y1="227.8" x2="1259.7" y2="243.5" stroke="#e2e2e2" stroke-width="2.0" stroke-linecap="round"/>
<line x1="1234.1" y1="193.7" x2="1190.6" y2="198.2" stroke="#e2e2e2" stroke-width="1.5" stroke-linecap="round"/>
<line x1="1203.4" y1="242.5" x2="1217.8" y2="273.8" stroke="#b8b8b8" stroke-width="3.0" stroke-linecap="round"/>
<line x1="1093.8" y1="140.9" x2="1129.1" y2="162.4" stroke="#e2e2e2" stroke-width="1.5" stroke-linecap="round"/>
<line x1="1225.4" y1="243.5" x2="1236.2" y2="255.3" stroke="#e2e2e2" stroke-width="1.2" stroke-linecap="round"/>
<line x1="1126.0" y1="231.6" x2="1155.6" y2="264.1" stroke="#c8c8c8" stroke-width="1.2" stroke-linecap="round"/>
<line x1="1151.1" y1="108.5" x2="1175.3" y2="117.6" stroke="#b8b8b8" stroke-width="3.0" stroke-linecap="round"/>
<line x1="1154.5" y1="159.7" x2="1137.5" y2="177.0" stroke="#c8c8c8" stroke-width="1.2" stroke-linecap="round"/>
<line x1="1179.2" y1="190.4" x2="1202.6" y2="211.7" stroke="#c8c8c8" stroke-width="0.8" stroke-linecap="round"/>
<line x1="1155.3" y1="159.7" x2="1146.3" y2="171.5" stroke="#b8b8b8" stroke-width="0.8" stroke-linecap="round"/>
<line x1="1148.5" y1="235.0" x2="1180.0" y2="235.5" stroke="#d6d6d6" stroke-width="1.5" stroke-linecap="round"/>
<line x1="1119.5" y1="221.0" x2="1128.6" y2="233.9" stroke="#e2e2e2" stroke-width="3.0" stroke-linecap="round"/>
<line x1="1191.6" y1="240.1" x2="1208.4" y2="260.4" stroke="#d6d6d6" stroke-width="2.0" stroke-linecap="round"/>
<line x1="1220.9" y1="152.2" x2="1181.3" y2="154.5" stroke="#d6d6d6" stroke-width="1.0" stroke-linecap="round"/>
<line x1="1181.0" y1="225.0" x2="1206.2" y2="244.5" stroke="#d6d6d6" stroke-width="1.5" stroke-linecap="round"/>
<line x1="1170.3" y1="154.6" x2="1154.8" y2="161.7" stroke="#e2e2e2" stroke-width="0.8" stroke-linecap="round"/>
<line x1="1252.4" y1="239.0" x2="1235.1" y2="266.8" stroke="#d6d6d6" stroke-width="2.5" stroke-linecap="round"/>
<line x1="1243.5" y1="220.4" x2="1277.9" y2="235.7" stroke="#d6d6d6" stroke-width="1.0" stroke-linecap="round"/>
<line x1="1096.0" y1="183.4" x2="1135.3" y2="184.7" stroke="#b8b8b8" stroke-width="0.8" stroke-linecap="round"/>
<line x1="1071.5" y1="175.2" x2="1094.2" y2="180.8" stroke="#d6d6d6" stroke-width="1.5" stroke-linecap="round"/>
<line x1="1233.6" y1="275.0" x2="1255.3" y2="299.1" stroke="#e2e2e2" stroke-width="3.0" stroke-linecap="round"/>
<line x1="1205.9" y1="270.9" x2="1180.8" y2="303.8" stroke="#b8b8b8" stroke-width="1.2" stroke-linecap="round"/>
<line x1="1262.1" y1="210.8" x2="1290.8" y2="218.0" stroke="#d6d6d6" stroke-width="1.0" stroke-linecap="round"/>
<line x1="1195.7" y1="196.7" x2="1212.5" y2="198.8" stroke="#e2e2e2" stroke-width="1.2" stroke-linecap="round"/>
<line x1="1138.4" y1="219.4" x2="1112.1" y2="238.0" stroke="#c8c8c8" stroke-width="2.5" stroke-linecap="round"/>
<line x1="1266.6" y1="204.3" x2="1224.4" y2="207.6" stroke="#d6d6d6" stroke-width="2.5" stroke-linecap="round"/>
<line x1="1137.7" y1="286.1" x2="1166.8" y2="306.7" stroke="#c8c8c8" stroke-width="2.0" stroke-linecap="round"/>
<line x1="1233.1" y1="171.3" x2="1247.9" y2="174.8" stroke="#c8c8c8" stroke-width="2.0" stroke-linecap="round"/>
<line x1="1116.8" y1="233.8" x2="1093.4" y2="271.4" stroke="#b8b8b8" stroke-width="1.5" stroke-linecap="round"/>
<line x1="1145.6" y1="277.5" x2="1135.1" y2="288.7" stroke="#c8c8c8" stroke-width="0.8" stroke-linecap="round"/>
<line x1="1143.4" y1="198.0" x2="1138.9" y2="238.6" stroke="#d6d6d6" stroke-width="0.8" stroke-linecap="round"/>
<line x1="1196.3" y1="252.9" x2="1205.2" y2="268.6" stroke="#d6d6d6" stroke-width="0.8" stroke-linecap="round"/>
<line x1="1205.6" y1="145.1" x2="1238.1" y2="148.9" stroke="#e2e2e2" stroke-width="1.2" stroke-linecap="round"/>
<line x1="1269.4" y1="229.6" x2="1287.8" y2="241.7" stroke="#c8c8c8" stroke-width="0.8" stroke-linecap="round"/>
<line x1="1114.2" y1="241.8" x2="1099.6" y2="274.5" stroke="#c8c8c8" stroke-width="2.0" stroke-linecap="round"/>
</g>
<g clip-path="url(#clipA)">
<line x1="297.1" y1="241.6" x2="292.4" y2="255.5" stroke="#c8c8c8" stroke-width="2.5" stroke-linecap="round"/>
<line x1="320.3" y1="269.6" x2="317.7" y2="285.8" stroke="#e2e2e2" stroke-width="1.0" stroke-linecap="round"/>
<line x1="321.6" y1="245.8" x2="307.8" y2="252.2" stroke="#d6d6d6" stroke-width="1.0" stroke-linecap="round"/>
<line x1="341.8" y1="237.7" x2="330.8" y2="256.0" stroke="#d6d6d6" stroke-width="0.8" stroke-linecap="round"/>
<line x1="322.4" y1="251.6" x2="335.7" y2="252.9" stroke="#b8b8b8" stroke-width="3.0" stroke-linecap="round"/>
<line x1="317.6" y1="253.2" x2="302.8" y2="271.8" stroke="#e2e2e2" stroke-width="1.5" stroke-linecap="round"/>
<line x1="315.5" y1="246.0" x2="338.6" y2="256.3" stroke="#c8c8c8" stroke-width="1.2" stroke-linecap="round"/>
<line x1="284.6" y1="239.2" x2="278.1" y2="250.0" stroke="#b8b8b8" stroke-width="3.0" stroke-linecap="round"/>
<line x1="307.8" y1="262.6" x2="305.8" y2="280.8" stroke="#d6d6d6" stroke-width="1.5" stroke-linecap="round"/>
<line x1="349.8" y1="254.2" x2="327.6" y2="264.9" stroke="#d6d6d6" stroke-width="2.0" stroke-linecap="round"/>
<line x1="327.1" y1="222.5" x2="323.1" y2="239.8" stroke="#d6d6d6" stroke-width="0.8" stroke-linecap="round"/>
<line x1="300.1" y1="207.4" x2="293.1" y2="222.5" stroke="#c8c8c8" stroke-width="1.5" stroke-linecap="round"/>
<line x1="289.7" y1="209.6" x2="313.8" y2="211.1" stroke="#e2e2e2" stroke-width="1.5" stroke-linecap="round"/>
<line x1="314.3" y1="199.6" x2="324.9" y2="217.6" stroke="#d6d6d6" stroke-width="1.2" stroke-linecap="round"/>
<line x1="280.6" y1="250.5" x2="287.6" y2="255.5" stroke="#b8b8b8" stroke-width="1.5" stroke-linecap="round"/>
<line x1="323.3" y1="215.7" x2="315.3" y2="219.3" stroke="#b8b8b8" stroke-width="1.2" stroke-linecap="round"/>
<line x1="307.7" y1="234.0" x2="300.1" y2="249.6" stroke="#c8c8c8" stroke-width="2.0" stroke-linecap="round"/>
<line x1="318.1" y1="271.9" x2="321.8" y2="288.6" stroke="#d6d6d6" stroke-width="2.5" stroke-linecap="round"/>
<line x1="337.1" y1="234.8" x2="344.5" y2="245.1" stroke="#c8c8c8" stroke-width="1.2" stroke-linecap="round"/>
<line x1="291.3" y1="231.3" x2="308.3" y2="238.9" stroke="#b8b8b8" stroke-width="2.5" stroke-linecap="round"/>
<line x1="314.1" y1="253.6" x2="305.4" y2="265.1" stroke="#e2e2e2" stroke-width="2.5" stroke-linecap="round"/>
<line x1="322.8" y1="275.9" x2="324.5" y2="288.3" stroke="#b8b8b8" stroke-width="2.0" stroke-linecap="round"/>
<line x1="300.3" y1="214.7" x2="281.2" y2="224.9" stroke="#b8b8b8" stroke-width="1.2" stroke-linecap="round"/>
<line x1="342.2" y1="212.4" x2="319.7" y2="214.4" stroke="#d6d6d6" stroke-width="2.5" stroke-linecap="round"/>
<line x1="291.2" y1="215.1" x2="307.7" y2="230.5" stroke="#e2e2e2" stroke-width="1.0" stroke-linecap="round"/>
<line x1="331.2" y1="211.3" x2="312.6" y2="214.3" stroke="#d6d6d6" stroke-width="2.5" stroke-linecap="round"/>
<line x1="305.2" y1="268.6" x2="310.6" y2="278.3" stroke="#d6d6d6" stroke-width="2.5" stroke-linecap="round"/>
<line x1="331.8" y1="238.9" x2="343.0" y2="243.3" stroke="#d6d6d6" stroke-width="2.0" stroke-linecap="round"/>
<line x1="308.1" y1="268.1" x2="291.5" y2="275.7" stroke="#c8c8c8" stroke-width="1.2" stroke-linecap="round"/>
<line x1="329.1" y1="228.5" x2="335.4" y2="236.7" stroke="#b8b8b8" stroke-width="3.0" stroke-linecap="round"/>
<line x1="311.1" y1="249.3" x2="308.3" y2="262.2" stroke="#e2e2e2" stroke-width="0.8" stroke-linecap="round"/>
<line x1="356.4" y1="236.9" x2="331.9" y2="242.6" stroke="#c8c8c8" stroke-width="1.0" stroke-linecap="round"/>
<line x1="328.8" y1="262.0" x2="327.6" y2="281.9" stroke="#b8b8b8" stroke-width="1.2" stroke-linecap="round"/>
<line x1="290.4" y1="222.1" x2="283.4" y2="227.1" stroke="#d6d6d6" stroke-width="2.0" stroke-linecap="round"/>
<line x1="307.9" y1="200.5" x2="326.3" y2="211.6" stroke="#d6d6d6" stroke-width="1.2" stroke-linecap="round"/>
<line x1="330.3" y1="245.5" x2="315.2" y2="248.5" stroke="#c8c8c8" stroke-width="2.0" stroke-linecap="round"/>
<line x1="300.7" y1="213.5" x2="302.4" y2="236.9" stroke="#c8c8c8" stroke-width="3.0" stroke-linecap="round"/>
<line x1="309.6" y1="216.0" x2="294.8" y2="225.6" stroke="#d6d6d6" stroke-width="1.0" stroke-linecap="round"/>
<line x1="333.8" y1="267.1" x2="330.6" y2="274.6" stroke="#e2e2e2" stroke-width="3.0" stroke-linecap="round"/>
<line x1="296.1" y1="239.4" x2="297.4" y2="255.0" stroke="#c8c8c8" stroke-width="3.0" stroke-linecap="round"/>
</g>
<g clip-path="url(#clipA)">
<line x1="468.6" y1="258.3" x2="483.4" y2="266.1" stroke="#c8c8c8" stroke-width="0.8" stroke-linecap="round"/>
<line x1="503.7" y1="310.6" x2="484.7" y2="327.9" stroke="#b8b8b8" stroke-width="1.0" stroke-linecap="round"/>
<line x1="476.4" y1="263.9" x2="484.5" y2="270.3" stroke="#b8b8b8" stroke-width="0.8" stroke-linecap="round"/>
<line x1="540.9" y1="261.7" x2="535.2" y2="275.4" stroke="#b8b8b8" stroke-width="2.5" stroke-linecap="round"/>
<line x1="459.8" y1="286.0" x2="459.3" y2="308.8" stroke="#d6d6d6" stroke-width="1.0" stroke-linecap="round"/>
<line x1="515.1" y1="255.4" x2="489.1" y2="267.1" stroke="#b8b8b8" stroke-width="2.0" stroke-linecap="round"/>
<line x1="517.4" y1="269.7" x2="537.7" y2="284.0" stroke="#b8b8b8" stroke-width="1.5" stroke-linecap="round"/>
<line x1="503.5" y1="262.2" x2="491.3" y2="270.4" stroke="#c8c8c8" stroke-width="0.8" stroke-linecap="round"/>
<line x1="455.9" y1="291.8" x2="454.3" y2="305.9" stroke="#b8b8b8" stroke-width="1.5" stroke-linecap="round"/>
<line x1="470.5" y1="300.9" x2="461.4" y2="303.4" stroke="#e2e2e2" stroke-width="2.5" stroke-linecap="round"/>
<line x1="473.9" y1="269.6" x2="486.9" y2="290.2" stroke="#d6d6d6" stroke-width="2.0" stroke-linecap="round"/>
<line x1="530.8" y1="292.4" x2="537.5" y2="303.8" stroke="#b8b8b8" stroke-width="1.0" stroke-linecap="round"/>
<line x1="511.5" y1="254.2" x2="489.4" y2="261.7" stroke="#b8b8b8" stroke-width="1.2" stroke-linecap="round"/>
<line x1="504.2" y1="315.2" x2="486.0" y2="326.9" stroke="#d6d6d6" stroke-width="1.2" stroke-linecap="round"/>
<line x1="550.4" y1="269.0" x2="546.3" y2="281.9" stroke="#b8b8b8" stroke-width="1.0" stroke-linecap="round"/>
<line x1="509.3" y1="272.2" x2="516.7" y2="288.6" stroke="#b8b8b8" stroke-width="3.0" stroke-linecap="round"/>
<line x1="485.1" y1="264.6" x2="511.5" y2="274.4" stroke="#c8c8c8" stroke-width="0.8" stroke-linecap="round"/>
<line x1="535.9" y1="282.8" x2="526.3" y2="310.6" stroke="#e2e2e2" stroke-width="2.0" stroke-linecap="round"/>
<line x1="517.9" y1="275.3" x2="510.3" y2="279.7" stroke="#e2e2e2" stroke-width="1.2" stroke-linecap="round"/>
<line x1="520.5" y1="262.9" x2="522.9" y2="275.1" stroke="#c8c8c8" stroke-width="1.5" stroke-linecap="round"/>
<line x1="471.6" y1="275.2" x2="476.6" y2="296.9" stroke="#e2e2e2" stroke-width="1.0" stroke-linecap="round"/>
<line x1="474.7" y1="279.7" x2="481.1" y2="303.9" stroke="#d6d6d6" stroke-width="1.2" stroke-linecap="round"/>
<line x1="478.8" y1="314.7" x2="492.7" y2="320.0" stroke="#e2e2e2" stroke-width="2.0" stroke-linecap="round"/>
<line x1="564.5" y1="290.2" x2="547.3" y2="311.2" stroke="#e2e2e2" stroke-width="0.8" stroke-linecap="round"/>
<line x1="495.8" y1="271.2" x2="489.4" y2="299.0" stroke="#b8b8b8" stroke-width="1.0" stroke-linecap="round"/>
<line x1="474.9" y1="276.4" x2="490.2" y2="299.6" stroke="#d6d6d6" stroke-width="1.5" stroke-linecap="round"/>
<line x1="528.8" y1="301.3" x2="515.3" y2="304.7" stroke="#c8c8c8" stroke-width="1.5" stroke-linecap="round"/>
<line x1="535.5" y1="268.4" x2="553.4" y2="280.8" stroke="#d6d6d6" stroke-width="1.5" stroke-linecap="round"/>
<line x1="546.7" y1="268.5" x2="522.0" y2="279.2" stroke="#e2e2e2" stroke-width="2.5" stroke-linecap="round"/>
<line x1="501.6" y1="298.3" x2="523.6" y2="316.3" stroke="#d6d6d6" stroke-width="0.8" stroke-linecap="round"/>
<line x1="541.2" y1="296.3" x2="536.9" y2="323.3" stroke="#d6d6d6" stroke-width="1.0" stroke-linecap="round"/>
<line x1="534.3" y1="269.1" x2="513.4" y2="287.2" stroke="#e2e2e2" stroke-width="1.5" stroke-linecap="round"/>
<line x1="519.9" y1="276.5" x2="510.9" y2="302.0" stroke="#c8c8c8" stroke-width="1.0" stroke-linecap="round"/>
<line x1="480.1" y1="308.4" x2="499.6" y2="309.1" stroke="#b8b8b8" stroke-width="3.0" stroke-linecap="round"/>
<line x1="502.7" y1="271.2" x2="516.8" y2="292.2" stroke="#e2e2e2" stroke-width="1.0" stroke-linecap="round"/>
<line x1="548.8" y1="281.7" x2="539.4" y2="284.3" stroke="#b8b8b8" stroke-width="3.0" stroke-linecap="round"/>
<line x1="516.6" y1="276.7" x2="496.1" y2="294.1" stroke="#d6d6d6" stroke-width="0.8" stroke-linecap="round"/>
<line x1="511.4" y1="316.7" x2="528.7" y2="323.4" stroke="#d6d6d6" stroke-width="2.0" stroke-linecap="round"/>
<line x1="484.8" y1="256.3" x2="497.0" y2="276.5" stroke="#b8b8b8" stroke-width="3.0" stroke-linecap="round"/>
<line x1="525.4" y1="260.2" x2="517.2" y2="266.7" stroke="#e2e2e2" stroke-width="2.0" stroke-linecap="round"/>
</g>
<line x1="201" y1="222.1" x2="642" y2="222.1" stroke="#262626" stroke-width="1"/>
<g clip-path="url(#clipA)">
<line x1="270.0" y1="125.4" x2="329.4" y2="109.1" stroke="#8e8e8e" stroke-width="6.47" stroke-linecap="round"/>
<line x1="269.9" y1="125.0" x2="329.3" y2="108.7" stroke="#c6c6c6" stroke-width="4.79" stroke-linecap="round"/>
<line x1="269.8" y1="124.6" x2="329.2" y2="108.3" stroke="#ededed" stroke-width="2.33" stroke-linecap="round"/>
<line x1="329.4" y1="109.1" x2="356.9" y2="92.4" stroke="#8e8e8e" stroke-width="4.75" stroke-linecap="round"/>
<line x1="329.3" y1="108.9" x2="356.7" y2="92.2" stroke="#c6c6c6" stroke-width="3.51" stroke-linecap="round"/>
<line x1="329.1" y1="108.6" x2="356.6" y2="91.9" stroke="#ededed" stroke-width="1.71" stroke-linecap="round"/>
<line x1="338.3" y1="116.0" x2="375.5" y2="131.6" stroke="#8e8e8e" stroke-width="6.47" stroke-linecap="round"/>
<line x1="338.4" y1="115.6" x2="375.7" y2="131.3" stroke="#c6c6c6" stroke-width="4.79" stroke-linecap="round"/>
<line x1="338.6" y1="115.2" x2="375.8" y2="130.9" stroke="#ededed" stroke-width="2.33" stroke-linecap="round"/>
<line x1="335.3" y1="134.0" x2="371.6" y2="156.2" stroke="#4e4e4e" stroke-width="8.20" stroke-linecap="round"/>
<line x1="335.6" y1="133.6" x2="371.8" y2="155.7" stroke="#767676" stroke-width="6.07" stroke-linecap="round"/>
<line x1="335.8" y1="133.2" x2="372.1" y2="155.3" stroke="#949494" stroke-width="2.95" stroke-linecap="round"/>
<line x1="371.6" y1="156.2" x2="349.0" y2="173.8" stroke="#6a6a6a" stroke-width="6.47" stroke-linecap="round"/>
<line x1="371.3" y1="155.9" x2="348.8" y2="173.5" stroke="#9c9c9c" stroke-width="4.79" stroke-linecap="round"/>
<line x1="371.1" y1="155.5" x2="348.6" y2="173.2" stroke="#bdbdbd" stroke-width="2.33" stroke-linecap="round"/>
<line x1="270.0" y1="125.4" x2="275.1" y2="149.3" stroke="#8e8e8e" stroke-width="6.04" stroke-linecap="round"/>
<line x1="269.7" y1="125.4" x2="274.8" y2="149.4" stroke="#c6c6c6" stroke-width="4.47" stroke-linecap="round"/>
<line x1="269.3" y1="125.5" x2="274.4" y2="149.4" stroke="#ededed" stroke-width="2.17" stroke-linecap="round"/>
<line x1="275.1" y1="149.3" x2="295.1" y2="207.1" stroke="#8e8e8e" stroke-width="3.88" stroke-linecap="round"/>
<line x1="274.9" y1="149.4" x2="294.9" y2="207.2" stroke="#c6c6c6" stroke-width="2.87" stroke-linecap="round"/>
<line x1="274.7" y1="149.4" x2="294.7" y2="207.3" stroke="#ededed" stroke-width="1.40" stroke-linecap="round"/>
<line x1="253.9" y1="110.1" x2="275.5" y2="110.1" stroke="#8e8e8e" stroke-width="4.75" stroke-linecap="round"/>
<line x1="253.9" y1="109.8" x2="275.5" y2="109.8" stroke="#c6c6c6" stroke-width="3.51" stroke-linecap="round"/>
<line x1="253.9" y1="109.5" x2="275.5" y2="109.5" stroke="#ededed" stroke-width="1.71" stroke-linecap="round"/>
<line x1="255.5" y1="100.3" x2="256.3" y2="127.7" stroke="#8e8e8e" stroke-width="4.31" stroke-linecap="round"/>
<line x1="255.3" y1="100.3" x2="256.0" y2="127.7" stroke="#c6c6c6" stroke-width="3.19" stroke-linecap="round"/>
<line x1="255.0" y1="100.3" x2="255.8" y2="127.7" stroke="#ededed" stroke-width="1.55" stroke-linecap="round"/>
<line x1="257.9" y1="100.3" x2="287.3" y2="104.2" stroke="#8e8e8e" stroke-width="2.16" stroke-linecap="round"/>
<line x1="257.9" y1="100.1" x2="287.3" y2="104.1" stroke="#c6c6c6" stroke-width="1.60" stroke-linecap="round"/>
<line x1="257.9" y1="100.0" x2="287.3" y2="103.9" stroke="#ededed" stroke-width="0.78" stroke-linecap="round"/>
<line x1="274.7" y1="94.4" x2="270.6" y2="80.7" stroke="#8e8e8e" stroke-width="3.02" stroke-linecap="round"/>
<line x1="274.6" y1="94.4" x2="270.4" y2="80.7" stroke="#c6c6c6" stroke-width="2.23" stroke-linecap="round"/>
<line x1="274.4" y1="94.5" x2="270.3" y2="80.8" stroke="#ededed" stroke-width="1.09" stroke-linecap="round"/>
<line x1="270.6" y1="80.7" x2="275.1" y2="67.9" stroke="#8e8e8e" stroke-width="3.02" stroke-linecap="round"/>
<line x1="270.4" y1="80.6" x2="274.9" y2="67.9" stroke="#c6c6c6" stroke-width="2.23" stroke-linecap="round"/>
<line x1="270.3" y1="80.5" x2="274.8" y2="67.8" stroke="#ededed" stroke-width="1.09" stroke-linecap="round"/>
<line x1="254.9" y1="67.9" x2="275.1" y2="68.9" stroke="#8e8e8e" stroke-width="2.16" stroke-linecap="round"/>
<line x1="254.9" y1="67.8" x2="275.1" y2="68.8" stroke="#c6c6c6" stroke-width="1.60" stroke-linecap="round"/>
<line x1="254.9" y1="67.7" x2="275.1" y2="68.6" stroke="#ededed" stroke-width="0.78" stroke-linecap="round"/>
<line x1="246.1" y1="75.8" x2="254.9" y2="67.9" stroke="#6a6a6a" stroke-width="1.73" stroke-linecap="round"/>
<line x1="246.0" y1="75.7" x2="254.9" y2="67.8" stroke="#9c9c9c" stroke-width="1.28" stroke-linecap="round"/>
<line x1="246.0" y1="75.6" x2="254.8" y2="67.8" stroke="#bdbdbd" stroke-width="0.62" stroke-linecap="round"/>
<line x1="371.6" y1="139.5" x2="409.8" y2="83.6" stroke="#8e8e8e" stroke-width="5.39" stroke-linecap="round"/>
<line x1="371.3" y1="139.3" x2="409.6" y2="83.4" stroke="#c6c6c6" stroke-width="3.99" stroke-linecap="round"/>
<line x1="371.1" y1="139.1" x2="409.3" y2="83.2" stroke="#ededed" stroke-width="1.94" stroke-linecap="round"/>
<line x1="365.7" y1="110.1" x2="381.4" y2="110.1" stroke="#6a6a6a" stroke-width="6.47" stroke-linecap="round"/>
<line x1="365.7" y1="109.7" x2="381.4" y2="109.7" stroke="#9c9c9c" stroke-width="4.79" stroke-linecap="round"/>
<line x1="365.7" y1="109.3" x2="381.4" y2="109.3" stroke="#bdbdbd" stroke-width="2.33" stroke-linecap="round"/>
<line x1="350.0" y1="131.6" x2="421.0" y2="129.7" stroke="#8e8e8e" stroke-width="1.29" stroke-linecap="round"/>
<line x1="350.0" y1="139.5" x2="421.0" y2="139.5" stroke="#8e8e8e" stroke-width="1.29" stroke-linecap="round"/>
<line x1="275.5" y1="149.3" x2="322.6" y2="168.9" stroke="#8e8e8e" stroke-width="0.86" stroke-linecap="round"/>
<line x1="355.9" y1="174.8" x2="397.1" y2="172.8" stroke="#8e8e8e" stroke-width="2.59" stroke-linecap="round"/>
<line x1="355.9" y1="174.6" x2="397.1" y2="172.7" stroke="#c6c6c6" stroke-width="1.92" stroke-linecap="round"/>
<line x1="355.9" y1="174.5" x2="397.1" y2="172.5" stroke="#ededed" stroke-width="0.93" stroke-linecap="round"/>
<line x1="364.7" y1="183.6" x2="367.7" y2="222.0" stroke="#8e8e8e" stroke-width="6.47" stroke-linecap="round"/>
<line x1="364.3" y1="183.6" x2="367.3" y2="222.1" stroke="#c6c6c6" stroke-width="4.79" stroke-linecap="round"/>
<line x1="364.0" y1="183.7" x2="366.9" y2="222.1" stroke="#ededed" stroke-width="2.33" stroke-linecap="round"/>
<line x1="371.6" y1="184.6" x2="375.5" y2="222.0" stroke="#8e8e8e" stroke-width="6.47" stroke-linecap="round"/>
<line x1="371.2" y1="184.6" x2="375.1" y2="222.1" stroke="#c6c6c6" stroke-width="4.79" stroke-linecap="round"/>
<line x1="370.8" y1="184.7" x2="374.7" y2="222.1" stroke="#ededed" stroke-width="2.33" stroke-linecap="round"/>
<line x1="377.5" y1="190.5" x2="397.1" y2="222.0" stroke="#8e8e8e" stroke-width="5.39" stroke-linecap="round"/>
<line x1="377.2" y1="190.6" x2="396.8" y2="222.2" stroke="#c6c6c6" stroke-width="3.99" stroke-linecap="round"/>
<line x1="376.9" y1="190.8" x2="396.5" y2="222.4" stroke="#ededed" stroke-width="1.94" stroke-linecap="round"/>
<line x1="397.1" y1="194.4" x2="421.0" y2="190.5" stroke="#8e8e8e" stroke-width="4.31" stroke-linecap="round"/>
<line x1="397.0" y1="194.1" x2="421.0" y2="190.2" stroke="#c6c6c6" stroke-width="3.19" stroke-linecap="round"/>
<line x1="397.0" y1="193.9" x2="420.9" y2="190.0" stroke="#ededed" stroke-width="1.55" stroke-linecap="round"/>
<line x1="310.8" y1="188.5" x2="334.3" y2="190.5" stroke="#8e8e8e" stroke-width="3.24" stroke-linecap="round"/>
<line x1="310.8" y1="188.3" x2="334.3" y2="190.3" stroke="#c6c6c6" stroke-width="2.39" stroke-linecap="round"/>
<line x1="310.8" y1="188.1" x2="334.4" y2="190.1" stroke="#ededed" stroke-width="1.16" stroke-linecap="round"/>
<line x1="295.1" y1="207.1" x2="352.0" y2="207.1" stroke="#8e8e8e" stroke-width="2.59" stroke-linecap="round"/>
<line x1="295.1" y1="207.0" x2="352.0" y2="207.0" stroke="#c6c6c6" stroke-width="1.92" stroke-linecap="round"/>
<line x1="295.1" y1="206.8" x2="352.0" y2="206.8" stroke="#ededed" stroke-width="0.93" stroke-linecap="round"/>
<line x1="311.8" y1="210.1" x2="318.6" y2="222.0" stroke="#8e8e8e" stroke-width="5.39" stroke-linecap="round"/>
<line x1="311.5" y1="210.2" x2="318.4" y2="222.2" stroke="#c6c6c6" stroke-width="3.99" stroke-linecap="round"/>
<line x1="311.2" y1="210.4" x2="318.1" y2="222.4" stroke="#ededed" stroke-width="1.94" stroke-linecap="round"/>
<line x1="329.4" y1="167.9" x2="349.0" y2="173.8" stroke="#4e4e4e" stroke-width="3.88" stroke-linecap="round"/>
<line x1="329.5" y1="167.7" x2="349.1" y2="173.6" stroke="#767676" stroke-width="2.87" stroke-linecap="round"/>
<line x1="329.6" y1="167.5" x2="349.2" y2="173.4" stroke="#949494" stroke-width="1.40" stroke-linecap="round"/>
<line x1="356.9" y1="92.4" x2="367.7" y2="108.1" stroke="#8e8e8e" stroke-width="2.16" stroke-linecap="round"/>
<line x1="356.8" y1="92.5" x2="367.6" y2="108.2" stroke="#c6c6c6" stroke-width="1.60" stroke-linecap="round"/>
<line x1="356.7" y1="92.6" x2="367.5" y2="108.3" stroke="#ededed" stroke-width="0.78" stroke-linecap="round"/>
<line x1="367.7" y1="108.1" x2="371.6" y2="139.5" stroke="#8e8e8e" stroke-width="3.02" stroke-linecap="round"/>
<line x1="367.5" y1="108.1" x2="371.4" y2="139.5" stroke="#c6c6c6" stroke-width="2.23" stroke-linecap="round"/>
<line x1="367.3" y1="108.2" x2="371.2" y2="139.5" stroke="#ededed" stroke-width="1.09" stroke-linecap="round"/>
<line x1="404.9" y1="100.3" x2="421.0" y2="98.3" stroke="#8e8e8e" stroke-width="2.59" stroke-linecap="round"/>
<line x1="404.9" y1="100.1" x2="421.0" y2="98.2" stroke="#c6c6c6" stroke-width="1.92" stroke-linecap="round"/>
<line x1="404.9" y1="100.0" x2="421.0" y2="98.0" stroke="#ededed" stroke-width="0.93" stroke-linecap="round"/>
<line x1="409.8" y1="83.6" x2="416.7" y2="59.1" stroke="#8e8e8e" stroke-width="2.59" stroke-linecap="round"/>
<line x1="409.7" y1="83.6" x2="416.5" y2="59.1" stroke="#c6c6c6" stroke-width="1.92" stroke-linecap="round"/>
<line x1="409.5" y1="83.5" x2="416.4" y2="59.0" stroke="#ededed" stroke-width="0.93" stroke-linecap="round"/>
<line x1="398.1" y1="172.8" x2="421.0" y2="163.0" stroke="#8e8e8e" stroke-width="3.02" stroke-linecap="round"/>
<line x1="398.0" y1="172.7" x2="420.9" y2="162.9" stroke="#c6c6c6" stroke-width="2.23" stroke-linecap="round"/>
<line x1="397.9" y1="172.5" x2="420.9" y2="162.7" stroke="#ededed" stroke-width="1.09" stroke-linecap="round"/>
<line x1="270.0" y1="125.4" x2="314.7" y2="140.5" stroke="#8e8e8e" stroke-width="1.29" stroke-linecap="round"/>
<line x1="329.4" y1="109.1" x2="314.7" y2="140.5" stroke="#6a6a6a" stroke-width="1.73" stroke-linecap="round"/>
<line x1="329.3" y1="109.1" x2="314.6" y2="140.4" stroke="#9c9c9c" stroke-width="1.28" stroke-linecap="round"/>
<line x1="329.2" y1="109.0" x2="314.5" y2="140.4" stroke="#bdbdbd" stroke-width="0.62" stroke-linecap="round"/>
<line x1="334.3" y1="112.0" x2="350.0" y2="155.2" stroke="#8e8e8e" stroke-width="2.16" stroke-linecap="round"/>
<line x1="334.2" y1="112.1" x2="349.9" y2="155.2" stroke="#c6c6c6" stroke-width="1.60" stroke-linecap="round"/>
<line x1="334.1" y1="112.1" x2="349.8" y2="155.3" stroke="#ededed" stroke-width="0.78" stroke-linecap="round"/>
<line x1="342.2" y1="155.2" x2="350.0" y2="222.0" stroke="#8e8e8e" stroke-width="1.29" stroke-linecap="round"/>
<line x1="322.6" y1="168.9" x2="334.3" y2="198.3" stroke="#8e8e8e" stroke-width="1.29" stroke-linecap="round"/>
<line x1="334.3" y1="198.3" x2="335.3" y2="216.0" stroke="#8e8e8e" stroke-width="2.16" stroke-linecap="round"/>
<line x1="334.2" y1="198.3" x2="335.2" y2="216.0" stroke="#c6c6c6" stroke-width="1.60" stroke-linecap="round"/>
<line x1="334.1" y1="198.3" x2="335.1" y2="216.0" stroke="#ededed" stroke-width="0.78" stroke-linecap="round"/>
<line x1="311.8" y1="188.5" x2="295.1" y2="207.1" stroke="#8e8e8e" stroke-width="1.73" stroke-linecap="round"/>
<line x1="311.7" y1="188.4" x2="295.0" y2="207.1" stroke="#c6c6c6" stroke-width="1.28" stroke-linecap="round"/>
<line x1="311.6" y1="188.4" x2="295.0" y2="207.0" stroke="#ededed" stroke-width="0.62" stroke-linecap="round"/>
<line x1="306.9" y1="196.4" x2="330.4" y2="222.0" stroke="#8e8e8e" stroke-width="2.16" stroke-linecap="round"/>
<line x1="306.8" y1="196.4" x2="330.3" y2="222.1" stroke="#c6c6c6" stroke-width="1.60" stroke-linecap="round"/>
<line x1="306.7" y1="196.5" x2="330.2" y2="222.2" stroke="#ededed" stroke-width="0.78" stroke-linecap="round"/>
<line x1="350.0" y1="180.7" x2="421.0" y2="166.9" stroke="#8e8e8e" stroke-width="1.73" stroke-linecap="round"/>
<line x1="350.0" y1="180.6" x2="421.0" y2="166.8" stroke="#c6c6c6" stroke-width="1.28" stroke-linecap="round"/>
<line x1="350.0" y1="180.5" x2="421.0" y2="166.7" stroke="#ededed" stroke-width="0.62" stroke-linecap="round"/>
<line x1="375.5" y1="155.2" x2="421.0" y2="151.3" stroke="#8e8e8e" stroke-width="2.16" stroke-linecap="round"/>
<line x1="375.5" y1="155.0" x2="421.0" y2="151.1" stroke="#c6c6c6" stroke-width="1.60" stroke-linecap="round"/>
<line x1="375.5" y1="154.9" x2="421.0" y2="151.0" stroke="#ededed" stroke-width="0.78" stroke-linecap="round"/>
<line x1="373.5" y1="163.0" x2="421.0" y2="174.8" stroke="#8e8e8e" stroke-width="1.73" stroke-linecap="round"/>
<line x1="373.6" y1="162.9" x2="421.0" y2="174.7" stroke="#c6c6c6" stroke-width="1.28" stroke-linecap="round"/>
<line x1="373.6" y1="162.8" x2="421.0" y2="174.6" stroke="#ededed" stroke-width="0.62" stroke-linecap="round"/>
<line x1="389.2" y1="116.0" x2="421.0" y2="112.0" stroke="#8e8e8e" stroke-width="1.73" stroke-linecap="round"/>
<line x1="389.2" y1="115.9" x2="421.0" y2="111.9" stroke="#c6c6c6" stroke-width="1.28" stroke-linecap="round"/>
<line x1="389.2" y1="115.8" x2="421.0" y2="111.8" stroke="#ededed" stroke-width="0.62" stroke-linecap="round"/>
<line x1="293.2" y1="100.3" x2="275.5" y2="110.1" stroke="#8e8e8e" stroke-width="1.73" stroke-linecap="round"/>
<line x1="293.1" y1="100.2" x2="275.5" y2="110.0" stroke="#c6c6c6" stroke-width="1.28" stroke-linecap="round"/>
<line x1="293.1" y1="100.1" x2="275.4" y2="109.9" stroke="#ededed" stroke-width="0.62" stroke-linecap="round"/>
<line x1="274.7" y1="94.4" x2="293.2" y2="100.3" stroke="#8e8e8e" stroke-width="1.73" stroke-linecap="round"/>
<line x1="274.8" y1="94.3" x2="293.2" y2="100.2" stroke="#c6c6c6" stroke-width="1.28" stroke-linecap="round"/>
<line x1="274.8" y1="94.2" x2="293.2" y2="100.1" stroke="#ededed" stroke-width="0.62" stroke-linecap="round"/>
<line x1="259.8" y1="116.0" x2="293.2" y2="123.8" stroke="#8e8e8e" stroke-width="1.29" stroke-linecap="round"/>
<line x1="377.5" y1="147.3" x2="421.0" y2="123.8" stroke="#8e8e8e" stroke-width="2.16" stroke-linecap="round"/>
<line x1="377.4" y1="147.2" x2="420.9" y2="123.7" stroke="#c6c6c6" stroke-width="1.60" stroke-linecap="round"/>
<line x1="377.3" y1="147.1" x2="420.9" y2="123.6" stroke="#ededed" stroke-width="0.78" stroke-linecap="round"/>
<line x1="387.3" y1="206.2" x2="421.0" y2="210.1" stroke="#8e8e8e" stroke-width="2.59" stroke-linecap="round"/>
<line x1="387.3" y1="206.0" x2="421.0" y2="209.9" stroke="#c6c6c6" stroke-width="1.92" stroke-linecap="round"/>
<line x1="387.3" y1="205.8" x2="421.0" y2="209.8" stroke="#ededed" stroke-width="0.93" stroke-linecap="round"/>
<line x1="357.9" y1="200.3" x2="387.3" y2="222.0" stroke="#8e8e8e" stroke-width="2.16" stroke-linecap="round"/>
<line x1="357.9" y1="200.2" x2="387.4" y2="221.9" stroke="#c6c6c6" stroke-width="1.60" stroke-linecap="round"/>
<line x1="358.0" y1="200.1" x2="387.4" y2="221.8" stroke="#ededed" stroke-width="0.78" stroke-linecap="round"/>
<line x1="386.3" y1="80.7" x2="381.4" y2="92.4" stroke="#8e8e8e" stroke-width="0.86" stroke-linecap="round"/>
<line x1="396.1" y1="87.5" x2="389.2" y2="100.3" stroke="#8e8e8e" stroke-width="1.29" stroke-linecap="round"/>
<line x1="397.1" y1="96.4" x2="421.0" y2="106.2" stroke="#8e8e8e" stroke-width="1.29" stroke-linecap="round"/>
<line x1="473.5" y1="69.3" x2="494.5" y2="84.6" stroke="#8e8e8e" stroke-width="8.20" stroke-linecap="round"/>
<line x1="473.8" y1="68.9" x2="494.8" y2="84.2" stroke="#c6c6c6" stroke-width="6.07" stroke-linecap="round"/>
<line x1="474.1" y1="68.5" x2="495.1" y2="83.8" stroke="#ededed" stroke-width="2.95" stroke-linecap="round"/>
<line x1="494.5" y1="84.6" x2="507.3" y2="88.5" stroke="#6a6a6a" stroke-width="6.47" stroke-linecap="round"/>
<line x1="494.6" y1="84.2" x2="507.4" y2="88.1" stroke="#9c9c9c" stroke-width="4.79" stroke-linecap="round"/>
<line x1="494.8" y1="83.8" x2="507.5" y2="87.8" stroke="#bdbdbd" stroke-width="2.33" stroke-linecap="round"/>
<line x1="421.0" y1="34.6" x2="434.3" y2="33.6" stroke="#8e8e8e" stroke-width="6.04" stroke-linecap="round"/>
<line x1="421.0" y1="34.2" x2="434.3" y2="33.2" stroke="#c6c6c6" stroke-width="4.47" stroke-linecap="round"/>
<line x1="420.9" y1="33.9" x2="434.3" y2="32.9" stroke="#ededed" stroke-width="2.17" stroke-linecap="round"/>
<line x1="434.3" y1="33.6" x2="434.3" y2="53.2" stroke="#8e8e8e" stroke-width="4.75" stroke-linecap="round"/>
<line x1="434.0" y1="33.6" x2="434.0" y2="53.2" stroke="#c6c6c6" stroke-width="3.51" stroke-linecap="round"/>
<line x1="433.8" y1="33.6" x2="433.8" y2="53.2" stroke="#ededed" stroke-width="1.71" stroke-linecap="round"/>
<line x1="432.8" y1="77.1" x2="444.5" y2="70.9" stroke="#8e8e8e" stroke-width="4.31" stroke-linecap="round"/>
<line x1="432.6" y1="76.9" x2="444.4" y2="70.6" stroke="#c6c6c6" stroke-width="3.19" stroke-linecap="round"/>
<line x1="432.5" y1="76.7" x2="444.3" y2="70.4" stroke="#ededed" stroke-width="1.55" stroke-linecap="round"/>
<line x1="451.4" y1="94.4" x2="501.8" y2="104.2" stroke="#8e8e8e" stroke-width="4.75" stroke-linecap="round"/>
<line x1="451.4" y1="94.1" x2="501.8" y2="103.9" stroke="#c6c6c6" stroke-width="3.51" stroke-linecap="round"/>
<line x1="451.5" y1="93.8" x2="501.9" y2="103.6" stroke="#ededed" stroke-width="1.71" stroke-linecap="round"/>
<line x1="421.0" y1="98.3" x2="451.4" y2="94.4" stroke="#8e8e8e" stroke-width="3.02" stroke-linecap="round"/>
<line x1="421.0" y1="98.1" x2="451.4" y2="94.2" stroke="#c6c6c6" stroke-width="2.23" stroke-linecap="round"/>
<line x1="421.0" y1="98.0" x2="451.3" y2="94.0" stroke="#ededed" stroke-width="1.09" stroke-linecap="round"/>
<line x1="501.8" y1="104.2" x2="522.6" y2="114.4" stroke="#8e8e8e" stroke-width="6.47" stroke-linecap="round"/>
<line x1="502.0" y1="103.8" x2="522.7" y2="114.0" stroke="#c6c6c6" stroke-width="4.79" stroke-linecap="round"/>
<line x1="502.1" y1="103.5" x2="522.9" y2="113.7" stroke="#ededed" stroke-width="2.33" stroke-linecap="round"/>
<line x1="509.6" y1="115.6" x2="526.9" y2="146.9" stroke="#8e8e8e" stroke-width="7.55" stroke-linecap="round"/>
<line x1="509.2" y1="115.8" x2="526.5" y2="147.2" stroke="#c6c6c6" stroke-width="5.59" stroke-linecap="round"/>
<line x1="508.8" y1="116.0" x2="526.1" y2="147.4" stroke="#ededed" stroke-width="2.72" stroke-linecap="round"/>
<line x1="489.6" y1="164.0" x2="526.9" y2="146.9" stroke="#6a6a6a" stroke-width="11.86" stroke-linecap="round"/>
<line x1="489.3" y1="163.4" x2="526.6" y2="146.3" stroke="#9c9c9c" stroke-width="8.78" stroke-linecap="round"/>
<line x1="489.0" y1="162.7" x2="526.3" y2="145.6" stroke="#bdbdbd" stroke-width="4.27" stroke-linecap="round"/>
<line x1="489.6" y1="164.0" x2="457.3" y2="188.1" stroke="#6a6a6a" stroke-width="7.55" stroke-linecap="round"/>
<line x1="489.4" y1="163.6" x2="457.0" y2="187.8" stroke="#9c9c9c" stroke-width="5.59" stroke-linecap="round"/>
<line x1="489.1" y1="163.3" x2="456.7" y2="187.4" stroke="#bdbdbd" stroke-width="2.72" stroke-linecap="round"/>
<line x1="421.0" y1="191.5" x2="457.3" y2="188.1" stroke="#8e8e8e" stroke-width="4.75" stroke-linecap="round"/>
<line x1="421.0" y1="191.2" x2="457.2" y2="187.8" stroke="#c6c6c6" stroke-width="3.51" stroke-linecap="round"/>
<line x1="420.9" y1="190.9" x2="457.2" y2="187.6" stroke="#ededed" stroke-width="1.71" stroke-linecap="round"/>
<line x1="526.9" y1="123.8" x2="559.2" y2="137.9" stroke="#6a6a6a" stroke-width="6.04" stroke-linecap="round"/>
<line x1="527.0" y1="123.5" x2="559.4" y2="137.6" stroke="#9c9c9c" stroke-width="4.47" stroke-linecap="round"/>
<line x1="527.2" y1="123.1" x2="559.5" y2="137.3" stroke="#bdbdbd" stroke-width="2.17" stroke-linecap="round"/>
<line x1="559.2" y1="137.9" x2="575.9" y2="178.7" stroke="#6a6a6a" stroke-width="7.55" stroke-linecap="round"/>
<line x1="558.8" y1="138.1" x2="575.5" y2="178.9" stroke="#9c9c9c" stroke-width="5.59" stroke-linecap="round"/>
<line x1="558.4" y1="138.3" x2="575.1" y2="179.0" stroke="#bdbdbd" stroke-width="2.72" stroke-linecap="round"/>
<line x1="540.6" y1="151.3" x2="575.9" y2="172.8" stroke="#8e8e8e" stroke-width="6.47" stroke-linecap="round"/>
<line x1="540.8" y1="150.9" x2="576.1" y2="172.5" stroke="#c6c6c6" stroke-width="4.79" stroke-linecap="round"/>
<line x1="541.0" y1="150.6" x2="576.3" y2="172.2" stroke="#ededed" stroke-width="2.33" stroke-linecap="round"/>
<line x1="575.9" y1="172.8" x2="598.5" y2="149.7" stroke="#8e8e8e" stroke-width="6.47" stroke-linecap="round"/>
<line x1="575.6" y1="172.6" x2="598.2" y2="149.4" stroke="#c6c6c6" stroke-width="4.79" stroke-linecap="round"/>
<line x1="575.3" y1="172.3" x2="597.9" y2="149.1" stroke="#ededed" stroke-width="2.33" stroke-linecap="round"/>
<line x1="575.9" y1="178.7" x2="543.5" y2="215.0" stroke="#8e8e8e" stroke-width="6.04" stroke-linecap="round"/>
<line x1="575.6" y1="178.5" x2="543.3" y2="214.7" stroke="#c6c6c6" stroke-width="4.47" stroke-linecap="round"/>
<line x1="575.4" y1="178.2" x2="543.0" y2="214.5" stroke="#ededed" stroke-width="2.17" stroke-linecap="round"/>
<line x1="575.9" y1="178.7" x2="562.2" y2="222.0" stroke="#8e8e8e" stroke-width="1.29" stroke-linecap="round"/>
<line x1="530.8" y1="161.1" x2="548.5" y2="184.6" stroke="#8e8e8e" stroke-width="5.39" stroke-linecap="round"/>
<line x1="530.5" y1="161.3" x2="548.2" y2="184.8" stroke="#c6c6c6" stroke-width="3.99" stroke-linecap="round"/>
<line x1="530.3" y1="161.4" x2="547.9" y2="185.0" stroke="#ededed" stroke-width="1.94" stroke-linecap="round"/>
<line x1="546.5" y1="155.2" x2="550.4" y2="184.6" stroke="#8e8e8e" stroke-width="3.88" stroke-linecap="round"/>
<line x1="546.3" y1="155.2" x2="550.2" y2="184.6" stroke="#c6c6c6" stroke-width="2.87" stroke-linecap="round"/>
<line x1="546.0" y1="155.2" x2="549.9" y2="184.6" stroke="#ededed" stroke-width="1.40" stroke-linecap="round"/>
<line x1="438.6" y1="105.2" x2="479.8" y2="106.2" stroke="#8e8e8e" stroke-width="2.16" stroke-linecap="round"/>
<line x1="438.7" y1="105.0" x2="479.8" y2="106.0" stroke="#c6c6c6" stroke-width="1.60" stroke-linecap="round"/>
<line x1="438.7" y1="104.9" x2="479.8" y2="105.9" stroke="#ededed" stroke-width="0.78" stroke-linecap="round"/>
<line x1="438.6" y1="123.8" x2="499.4" y2="110.1" stroke="#8e8e8e" stroke-width="3.02" stroke-linecap="round"/>
<line x1="438.6" y1="123.6" x2="499.4" y2="109.9" stroke="#c6c6c6" stroke-width="2.23" stroke-linecap="round"/>
<line x1="438.6" y1="123.5" x2="499.4" y2="109.7" stroke="#ededed" stroke-width="1.09" stroke-linecap="round"/>
<line x1="450.4" y1="170.9" x2="456.3" y2="222.0" stroke="#8e8e8e" stroke-width="8.63" stroke-linecap="round"/>
<line x1="449.9" y1="170.9" x2="455.8" y2="222.1" stroke="#c6c6c6" stroke-width="6.38" stroke-linecap="round"/>
<line x1="449.4" y1="171.0" x2="455.3" y2="222.2" stroke="#ededed" stroke-width="3.11" stroke-linecap="round"/>
<line x1="436.7" y1="166.9" x2="446.5" y2="222.0" stroke="#8e8e8e" stroke-width="8.63" stroke-linecap="round"/>
<line x1="436.2" y1="167.0" x2="446.0" y2="222.1" stroke="#c6c6c6" stroke-width="6.38" stroke-linecap="round"/>
<line x1="435.7" y1="167.1" x2="445.5" y2="222.2" stroke="#ededed" stroke-width="3.11" stroke-linecap="round"/>
<line x1="426.9" y1="170.9" x2="426.9" y2="191.5" stroke="#8e8e8e" stroke-width="5.39" stroke-linecap="round"/>
<line x1="426.6" y1="170.9" x2="426.6" y2="191.5" stroke="#c6c6c6" stroke-width="3.99" stroke-linecap="round"/>
<line x1="426.2" y1="170.9" x2="426.2" y2="191.5" stroke="#ededed" stroke-width="1.94" stroke-linecap="round"/>
<line x1="482.8" y1="195.4" x2="511.2" y2="209.1" stroke="#8e8e8e" stroke-width="2.59" stroke-linecap="round"/>
<line x1="482.8" y1="195.2" x2="511.3" y2="209.0" stroke="#c6c6c6" stroke-width="1.92" stroke-linecap="round"/>
<line x1="482.9" y1="195.1" x2="511.3" y2="208.8" stroke="#ededed" stroke-width="0.93" stroke-linecap="round"/>
<line x1="479.8" y1="174.8" x2="507.3" y2="174.8" stroke="#8e8e8e" stroke-width="1.29" stroke-linecap="round"/>
<line x1="491.6" y1="201.8" x2="507.3" y2="176.7" stroke="#8e8e8e" stroke-width="1.29" stroke-linecap="round"/>
<line x1="506.9" y1="176.4" x2="538.6" y2="163.0" stroke="#8e8e8e" stroke-width="1.29" stroke-linecap="round"/>
<line x1="523.0" y1="198.3" x2="538.6" y2="206.2" stroke="#8e8e8e" stroke-width="3.24" stroke-linecap="round"/>
<line x1="523.0" y1="198.1" x2="538.7" y2="206.0" stroke="#c6c6c6" stroke-width="2.39" stroke-linecap="round"/>
<line x1="523.1" y1="198.0" x2="538.8" y2="205.8" stroke="#ededed" stroke-width="1.16" stroke-linecap="round"/>
<line x1="530.8" y1="182.6" x2="540.6" y2="208.1" stroke="#8e8e8e" stroke-width="2.16" stroke-linecap="round"/>
<line x1="530.7" y1="182.7" x2="540.5" y2="208.2" stroke="#c6c6c6" stroke-width="1.60" stroke-linecap="round"/>
<line x1="530.6" y1="182.7" x2="540.4" y2="208.2" stroke="#ededed" stroke-width="0.78" stroke-linecap="round"/>
<line x1="421.0" y1="135.6" x2="479.8" y2="131.6" stroke="#8e8e8e" stroke-width="1.08" stroke-linecap="round"/>
<line x1="421.0" y1="143.4" x2="523.0" y2="129.7" stroke="#8e8e8e" stroke-width="1.08" stroke-linecap="round"/>
<line x1="454.3" y1="123.8" x2="466.1" y2="106.2" stroke="#8e8e8e" stroke-width="4.31" stroke-linecap="round"/>
<line x1="454.1" y1="123.7" x2="465.9" y2="106.0" stroke="#c6c6c6" stroke-width="3.19" stroke-linecap="round"/>
<line x1="453.9" y1="123.5" x2="465.7" y2="105.9" stroke="#ededed" stroke-width="1.55" stroke-linecap="round"/>
<line x1="460.2" y1="119.9" x2="438.6" y2="163.0" stroke="#8e8e8e" stroke-width="2.16" stroke-linecap="round"/>
<line x1="460.1" y1="119.8" x2="438.5" y2="163.0" stroke="#c6c6c6" stroke-width="1.60" stroke-linecap="round"/>
<line x1="460.0" y1="119.8" x2="438.4" y2="162.9" stroke="#ededed" stroke-width="0.78" stroke-linecap="round"/>
<line x1="460.2" y1="116.0" x2="450.4" y2="151.3" stroke="#8e8e8e" stroke-width="1.73" stroke-linecap="round"/>
<line x1="460.1" y1="115.9" x2="450.3" y2="151.2" stroke="#c6c6c6" stroke-width="1.28" stroke-linecap="round"/>
<line x1="460.0" y1="115.9" x2="450.2" y2="151.2" stroke="#ededed" stroke-width="0.62" stroke-linecap="round"/>
<line x1="421.0" y1="123.8" x2="472.0" y2="108.1" stroke="#8e8e8e" stroke-width="2.59" stroke-linecap="round"/>
<line x1="421.0" y1="123.7" x2="471.9" y2="108.0" stroke="#c6c6c6" stroke-width="1.92" stroke-linecap="round"/>
<line x1="420.9" y1="123.5" x2="471.9" y2="107.8" stroke="#ededed" stroke-width="0.93" stroke-linecap="round"/>
<line x1="451.4" y1="94.4" x2="451.4" y2="87.5" stroke="#8e8e8e" stroke-width="2.16" stroke-linecap="round"/>
<line x1="451.3" y1="94.4" x2="451.3" y2="87.5" stroke="#c6c6c6" stroke-width="1.60" stroke-linecap="round"/>
<line x1="451.1" y1="94.4" x2="451.1" y2="87.5" stroke="#ededed" stroke-width="0.78" stroke-linecap="round"/>
<line x1="451.4" y1="87.5" x2="457.9" y2="66.5" stroke="#8e8e8e" stroke-width="2.16" stroke-linecap="round"/>
<line x1="451.3" y1="87.5" x2="457.7" y2="66.5" stroke="#c6c6c6" stroke-width="1.60" stroke-linecap="round"/>
<line x1="451.1" y1="87.5" x2="457.6" y2="66.5" stroke="#ededed" stroke-width="0.78" stroke-linecap="round"/>
<line x1="426.9" y1="60.1" x2="444.5" y2="57.1" stroke="#8e8e8e" stroke-width="1.29" stroke-linecap="round"/>
<line x1="421.0" y1="63.0" x2="426.9" y2="60.1" stroke="#8e8e8e" stroke-width="2.16" stroke-linecap="round"/>
<line x1="420.9" y1="62.9" x2="426.8" y2="60.0" stroke="#c6c6c6" stroke-width="1.60" stroke-linecap="round"/>
<line x1="420.9" y1="62.8" x2="426.8" y2="59.8" stroke="#ededed" stroke-width="0.78" stroke-linecap="round"/>
<line x1="442.6" y1="126.7" x2="458.3" y2="138.5" stroke="#8e8e8e" stroke-width="1.73" stroke-linecap="round"/>
<line x1="442.6" y1="126.7" x2="458.3" y2="138.4" stroke="#c6c6c6" stroke-width="1.28" stroke-linecap="round"/>
<line x1="442.7" y1="126.6" x2="458.4" y2="138.3" stroke="#ededed" stroke-width="0.62" stroke-linecap="round"/>
<line x1="458.3" y1="138.5" x2="460.2" y2="170.9" stroke="#8e8e8e" stroke-width="4.75" stroke-linecap="round"/>
<line x1="458.0" y1="138.5" x2="459.9" y2="170.9" stroke="#c6c6c6" stroke-width="3.51" stroke-linecap="round"/>
<line x1="457.7" y1="138.5" x2="459.6" y2="170.9" stroke="#ededed" stroke-width="1.71" stroke-linecap="round"/>
<line x1="444.5" y1="100.3" x2="438.6" y2="155.2" stroke="#8e8e8e" stroke-width="1.73" stroke-linecap="round"/>
<line x1="444.4" y1="100.3" x2="438.5" y2="155.2" stroke="#c6c6c6" stroke-width="1.28" stroke-linecap="round"/>
<line x1="444.3" y1="100.3" x2="438.4" y2="155.2" stroke="#ededed" stroke-width="0.62" stroke-linecap="round"/>
<line x1="470.0" y1="108.1" x2="444.5" y2="222.0" stroke="#8e8e8e" stroke-width="1.73" stroke-linecap="round"/>
<line x1="469.9" y1="108.1" x2="444.4" y2="222.0" stroke="#c6c6c6" stroke-width="1.28" stroke-linecap="round"/>
<line x1="469.8" y1="108.1" x2="444.3" y2="222.0" stroke="#ededed" stroke-width="0.62" stroke-linecap="round"/>
<line x1="477.9" y1="151.3" x2="466.1" y2="222.0" stroke="#8e8e8e" stroke-width="2.16" stroke-linecap="round"/>
<line x1="477.7" y1="151.2" x2="466.0" y2="222.0" stroke="#c6c6c6" stroke-width="1.60" stroke-linecap="round"/>
<line x1="477.6" y1="151.2" x2="465.8" y2="222.0" stroke="#ededed" stroke-width="0.78" stroke-linecap="round"/>
<line x1="479.8" y1="141.5" x2="523.0" y2="135.6" stroke="#8e8e8e" stroke-width="1.29" stroke-linecap="round"/>
<line x1="483.7" y1="174.8" x2="464.1" y2="222.0" stroke="#8e8e8e" stroke-width="3.02" stroke-linecap="round"/>
<line x1="483.6" y1="174.7" x2="464.0" y2="222.0" stroke="#c6c6c6" stroke-width="2.23" stroke-linecap="round"/>
<line x1="483.4" y1="174.6" x2="463.8" y2="221.9" stroke="#ededed" stroke-width="1.09" stroke-linecap="round"/>
<line x1="421.0" y1="208.1" x2="456.3" y2="217.9" stroke="#8e8e8e" stroke-width="2.59" stroke-linecap="round"/>
<line x1="421.0" y1="208.0" x2="456.3" y2="217.8" stroke="#c6c6c6" stroke-width="1.92" stroke-linecap="round"/>
<line x1="421.1" y1="207.8" x2="456.4" y2="217.6" stroke="#ededed" stroke-width="0.93" stroke-linecap="round"/>
<line x1="500.4" y1="121.5" x2="500.4" y2="141.5" stroke="#8e8e8e" stroke-width="1.73" stroke-linecap="round"/>
<line x1="500.3" y1="121.5" x2="500.3" y2="141.5" stroke="#c6c6c6" stroke-width="1.28" stroke-linecap="round"/>
<line x1="500.2" y1="121.5" x2="500.2" y2="141.5" stroke="#ededed" stroke-width="0.62" stroke-linecap="round"/>
<line x1="499.4" y1="145.4" x2="526.9" y2="151.3" stroke="#8e8e8e" stroke-width="2.59" stroke-linecap="round"/>
<line x1="499.5" y1="145.2" x2="526.9" y2="151.1" stroke="#c6c6c6" stroke-width="1.92" stroke-linecap="round"/>
<line x1="499.5" y1="145.1" x2="526.9" y2="151.0" stroke="#ededed" stroke-width="0.93" stroke-linecap="round"/>
<line x1="424.9" y1="163.0" x2="421.0" y2="210.1" stroke="#8e8e8e" stroke-width="4.31" stroke-linecap="round"/>
<line x1="424.7" y1="163.0" x2="420.7" y2="210.1" stroke="#c6c6c6" stroke-width="3.19" stroke-linecap="round"/>
<line x1="424.4" y1="163.0" x2="420.5" y2="210.0" stroke="#ededed" stroke-width="1.55" stroke-linecap="round"/>
<line x1="386.3" y1="366.9" x2="421.0" y2="364.7" stroke="#6a6a6a" stroke-width="8.34" stroke-linecap="round"/>
<line x1="386.3" y1="366.4" x2="421.0" y2="364.2" stroke="#9c9c9c" stroke-width="6.17" stroke-linecap="round"/>
<line x1="386.2" y1="365.9" x2="420.9" y2="363.7" stroke="#bdbdbd" stroke-width="3.00" stroke-linecap="round"/>
<line x1="348.4" y1="374.5" x2="386.3" y2="366.9" stroke="#8e8e8e" stroke-width="4.29" stroke-linecap="round"/>
<line x1="348.3" y1="374.2" x2="386.3" y2="366.6" stroke="#c6c6c6" stroke-width="3.18" stroke-linecap="round"/>
<line x1="348.3" y1="374.0" x2="386.2" y2="366.4" stroke="#ededed" stroke-width="1.54" stroke-linecap="round"/>
<line x1="335.4" y1="357.1" x2="386.3" y2="366.9" stroke="#8e8e8e" stroke-width="3.58" stroke-linecap="round"/>
<line x1="335.4" y1="356.9" x2="386.3" y2="366.7" stroke="#c6c6c6" stroke-width="2.65" stroke-linecap="round"/>
<line x1="335.5" y1="356.7" x2="386.4" y2="366.5" stroke="#ededed" stroke-width="1.29" stroke-linecap="round"/>
<line x1="357.0" y1="352.8" x2="335.4" y2="357.1" stroke="#8e8e8e" stroke-width="3.58" stroke-linecap="round"/>
<line x1="357.0" y1="352.6" x2="335.3" y2="356.9" stroke="#c6c6c6" stroke-width="2.65" stroke-linecap="round"/>
<line x1="357.0" y1="352.4" x2="335.3" y2="356.7" stroke="#ededed" stroke-width="1.29" stroke-linecap="round"/>
<line x1="322.4" y1="347.4" x2="335.4" y2="326.8" stroke="#8e8e8e" stroke-width="4.29" stroke-linecap="round"/>
<line x1="322.2" y1="347.2" x2="335.2" y2="326.7" stroke="#c6c6c6" stroke-width="3.18" stroke-linecap="round"/>
<line x1="321.9" y1="347.1" x2="334.9" y2="326.5" stroke="#ededed" stroke-width="1.54" stroke-linecap="round"/>
<line x1="322.4" y1="347.4" x2="348.4" y2="374.5" stroke="#8e8e8e" stroke-width="4.29" stroke-linecap="round"/>
<line x1="322.2" y1="347.6" x2="348.2" y2="374.6" stroke="#c6c6c6" stroke-width="3.18" stroke-linecap="round"/>
<line x1="322.0" y1="347.7" x2="348.0" y2="374.8" stroke="#ededed" stroke-width="1.54" stroke-linecap="round"/>
<line x1="357.0" y1="352.8" x2="348.4" y2="374.5" stroke="#8e8e8e" stroke-width="4.29" stroke-linecap="round"/>
<line x1="356.8" y1="352.7" x2="348.1" y2="374.4" stroke="#c6c6c6" stroke-width="3.18" stroke-linecap="round"/>
<line x1="356.6" y1="352.6" x2="347.9" y2="374.3" stroke="#ededed" stroke-width="1.54" stroke-linecap="round"/>
<line x1="357.0" y1="309.4" x2="357.0" y2="352.8" stroke="#8e8e8e" stroke-width="4.29" stroke-linecap="round"/>
<line x1="356.8" y1="309.4" x2="356.8" y2="352.8" stroke="#c6c6c6" stroke-width="3.18" stroke-linecap="round"/>
<line x1="356.5" y1="309.4" x2="356.5" y2="352.8" stroke="#ededed" stroke-width="1.54" stroke-linecap="round"/>
<line x1="357.0" y1="309.4" x2="386.3" y2="366.9" stroke="#8e8e8e" stroke-width="2.38" stroke-linecap="round"/>
<line x1="356.9" y1="309.5" x2="386.2" y2="366.9" stroke="#c6c6c6" stroke-width="1.76" stroke-linecap="round"/>
<line x1="356.8" y1="309.6" x2="386.1" y2="367.0" stroke="#ededed" stroke-width="0.86" stroke-linecap="round"/>
<line x1="335.4" y1="326.8" x2="328.9" y2="314.9" stroke="#8e8e8e" stroke-width="2.38" stroke-linecap="round"/>
<line x1="335.2" y1="326.9" x2="328.7" y2="314.9" stroke="#c6c6c6" stroke-width="1.76" stroke-linecap="round"/>
<line x1="335.1" y1="326.9" x2="328.6" y2="315.0" stroke="#ededed" stroke-width="0.86" stroke-linecap="round"/>
<line x1="331.0" y1="314.9" x2="357.0" y2="312.7" stroke="#8e8e8e" stroke-width="4.29" stroke-linecap="round"/>
<line x1="331.0" y1="314.6" x2="357.0" y2="312.4" stroke="#c6c6c6" stroke-width="3.18" stroke-linecap="round"/>
<line x1="331.0" y1="314.4" x2="357.0" y2="312.2" stroke="#ededed" stroke-width="1.54" stroke-linecap="round"/>
<line x1="357.0" y1="309.4" x2="421.0" y2="301.9" stroke="#8e8e8e" stroke-width="2.38" stroke-linecap="round"/>
<line x1="357.0" y1="309.3" x2="421.0" y2="301.7" stroke="#c6c6c6" stroke-width="1.76" stroke-linecap="round"/>
<line x1="357.0" y1="309.2" x2="420.9" y2="301.6" stroke="#ededed" stroke-width="0.86" stroke-linecap="round"/>
<line x1="356.0" y1="283.4" x2="415.6" y2="288.9" stroke="#8e8e8e" stroke-width="8.34" stroke-linecap="round"/>
<line x1="356.0" y1="282.9" x2="415.6" y2="288.4" stroke="#c6c6c6" stroke-width="6.17" stroke-linecap="round"/>
<line x1="356.1" y1="282.4" x2="415.7" y2="287.9" stroke="#ededed" stroke-width="3.00" stroke-linecap="round"/>
<line x1="344.0" y1="297.5" x2="357.0" y2="283.4" stroke="#6a6a6a" stroke-width="5.96" stroke-linecap="round"/>
<line x1="343.8" y1="297.3" x2="356.8" y2="283.2" stroke="#9c9c9c" stroke-width="4.41" stroke-linecap="round"/>
<line x1="343.5" y1="297.0" x2="356.5" y2="283.0" stroke="#bdbdbd" stroke-width="2.15" stroke-linecap="round"/>
<line x1="386.3" y1="366.9" x2="398.2" y2="397.2" stroke="#8e8e8e" stroke-width="2.38" stroke-linecap="round"/>
<line x1="386.2" y1="366.9" x2="398.1" y2="397.3" stroke="#c6c6c6" stroke-width="1.76" stroke-linecap="round"/>
<line x1="386.0" y1="367.0" x2="398.0" y2="397.3" stroke="#ededed" stroke-width="0.86" stroke-linecap="round"/>
<line x1="386.3" y1="366.9" x2="370.1" y2="416.7" stroke="#8e8e8e" stroke-width="2.38" stroke-linecap="round"/>
<line x1="386.2" y1="366.8" x2="369.9" y2="416.7" stroke="#c6c6c6" stroke-width="1.76" stroke-linecap="round"/>
<line x1="386.0" y1="366.8" x2="369.8" y2="416.6" stroke="#ededed" stroke-width="0.86" stroke-linecap="round"/>
<line x1="348.4" y1="374.5" x2="359.2" y2="401.6" stroke="#8e8e8e" stroke-width="2.38" stroke-linecap="round"/>
<line x1="348.2" y1="374.5" x2="359.1" y2="401.6" stroke="#c6c6c6" stroke-width="1.76" stroke-linecap="round"/>
<line x1="348.1" y1="374.6" x2="358.9" y2="401.7" stroke="#ededed" stroke-width="0.86" stroke-linecap="round"/>
<line x1="359.2" y1="401.6" x2="385.2" y2="371.2" stroke="#8e8e8e" stroke-width="1.91" stroke-linecap="round"/>
<line x1="359.1" y1="401.5" x2="385.1" y2="371.1" stroke="#c6c6c6" stroke-width="1.41" stroke-linecap="round"/>
<line x1="359.0" y1="401.4" x2="385.0" y2="371.1" stroke="#ededed" stroke-width="0.69" stroke-linecap="round"/>
<line x1="398.2" y1="397.2" x2="421.0" y2="379.9" stroke="#8e8e8e" stroke-width="1.91" stroke-linecap="round"/>
<line x1="398.2" y1="397.1" x2="420.9" y2="379.8" stroke="#c6c6c6" stroke-width="1.41" stroke-linecap="round"/>
<line x1="398.1" y1="397.0" x2="420.8" y2="379.7" stroke="#ededed" stroke-width="0.69" stroke-linecap="round"/>
<line x1="386.3" y1="366.9" x2="402.6" y2="321.4" stroke="#8e8e8e" stroke-width="1.91" stroke-linecap="round"/>
<line x1="386.2" y1="366.8" x2="402.5" y2="321.3" stroke="#c6c6c6" stroke-width="1.41" stroke-linecap="round"/>
<line x1="386.1" y1="366.8" x2="402.3" y2="321.3" stroke="#ededed" stroke-width="0.69" stroke-linecap="round"/>
<line x1="402.6" y1="321.4" x2="421.0" y2="347.4" stroke="#8e8e8e" stroke-width="1.91" stroke-linecap="round"/>
<line x1="402.5" y1="321.4" x2="420.9" y2="347.4" stroke="#c6c6c6" stroke-width="1.41" stroke-linecap="round"/>
<line x1="402.4" y1="321.5" x2="420.8" y2="347.5" stroke="#ededed" stroke-width="0.69" stroke-linecap="round"/>
<line x1="402.6" y1="321.4" x2="409.1" y2="297.5" stroke="#8e8e8e" stroke-width="1.91" stroke-linecap="round"/>
<line x1="402.5" y1="321.3" x2="409.0" y2="297.5" stroke="#c6c6c6" stroke-width="1.41" stroke-linecap="round"/>
<line x1="402.3" y1="321.3" x2="408.8" y2="297.5" stroke="#ededed" stroke-width="0.69" stroke-linecap="round"/>
<line x1="289.9" y1="292.1" x2="305.0" y2="271.5" stroke="#6a6a6a" stroke-width="8.34" stroke-linecap="round"/>
<line x1="289.5" y1="291.8" x2="304.6" y2="271.2" stroke="#9c9c9c" stroke-width="6.17" stroke-linecap="round"/>
<line x1="289.1" y1="291.5" x2="304.2" y2="270.9" stroke="#bdbdbd" stroke-width="3.00" stroke-linecap="round"/>
<line x1="276.9" y1="276.9" x2="289.9" y2="292.1" stroke="#8e8e8e" stroke-width="4.77" stroke-linecap="round"/>
<line x1="276.6" y1="277.1" x2="289.6" y2="292.3" stroke="#c6c6c6" stroke-width="3.53" stroke-linecap="round"/>
<line x1="276.4" y1="277.3" x2="289.4" y2="292.5" stroke="#ededed" stroke-width="1.72" stroke-linecap="round"/>
<line x1="276.9" y1="276.9" x2="296.4" y2="278.0" stroke="#8e8e8e" stroke-width="3.58" stroke-linecap="round"/>
<line x1="276.9" y1="276.7" x2="296.4" y2="277.8" stroke="#c6c6c6" stroke-width="2.65" stroke-linecap="round"/>
<line x1="276.9" y1="276.5" x2="296.4" y2="277.6" stroke="#ededed" stroke-width="1.29" stroke-linecap="round"/>
<line x1="266.0" y1="254.2" x2="276.9" y2="276.9" stroke="#8e8e8e" stroke-width="1.91" stroke-linecap="round"/>
<line x1="265.9" y1="254.2" x2="276.8" y2="277.0" stroke="#c6c6c6" stroke-width="1.41" stroke-linecap="round"/>
<line x1="265.8" y1="254.3" x2="276.6" y2="277.0" stroke="#ededed" stroke-width="0.69" stroke-linecap="round"/>
<line x1="266.0" y1="254.2" x2="272.5" y2="239.0" stroke="#8e8e8e" stroke-width="1.91" stroke-linecap="round"/>
<line x1="265.9" y1="254.1" x2="272.4" y2="239.0" stroke="#c6c6c6" stroke-width="1.41" stroke-linecap="round"/>
<line x1="265.8" y1="254.1" x2="272.3" y2="238.9" stroke="#ededed" stroke-width="0.69" stroke-linecap="round"/>
<line x1="272.5" y1="239.0" x2="285.5" y2="240.1" stroke="#8e8e8e" stroke-width="1.91" stroke-linecap="round"/>
<line x1="272.5" y1="238.9" x2="285.5" y2="240.0" stroke="#c6c6c6" stroke-width="1.41" stroke-linecap="round"/>
<line x1="272.5" y1="238.8" x2="285.5" y2="239.9" stroke="#ededed" stroke-width="0.69" stroke-linecap="round"/>
<line x1="281.2" y1="223.8" x2="296.4" y2="230.3" stroke="#8e8e8e" stroke-width="4.29" stroke-linecap="round"/>
<line x1="281.3" y1="223.6" x2="296.5" y2="230.1" stroke="#c6c6c6" stroke-width="3.18" stroke-linecap="round"/>
<line x1="281.4" y1="223.4" x2="296.6" y2="229.9" stroke="#ededed" stroke-width="1.54" stroke-linecap="round"/>
<line x1="296.4" y1="230.3" x2="341.9" y2="232.5" stroke="#8e8e8e" stroke-width="4.77" stroke-linecap="round"/>
<line x1="296.4" y1="230.1" x2="341.9" y2="232.2" stroke="#c6c6c6" stroke-width="3.53" stroke-linecap="round"/>
<line x1="296.4" y1="229.8" x2="341.9" y2="231.9" stroke="#ededed" stroke-width="1.72" stroke-linecap="round"/>
<line x1="296.4" y1="242.3" x2="331.0" y2="262.9" stroke="#8e8e8e" stroke-width="5.96" stroke-linecap="round"/>
<line x1="296.5" y1="242.0" x2="331.2" y2="262.5" stroke="#c6c6c6" stroke-width="4.41" stroke-linecap="round"/>
<line x1="296.7" y1="241.6" x2="331.4" y2="262.2" stroke="#ededed" stroke-width="2.15" stroke-linecap="round"/>
<line x1="305.0" y1="221.7" x2="322.4" y2="254.2" stroke="#8e8e8e" stroke-width="7.15" stroke-linecap="round"/>
<line x1="304.7" y1="221.9" x2="322.0" y2="254.4" stroke="#c6c6c6" stroke-width="5.29" stroke-linecap="round"/>
<line x1="304.3" y1="222.1" x2="321.6" y2="254.6" stroke="#ededed" stroke-width="2.57" stroke-linecap="round"/>
<line x1="331.0" y1="230.3" x2="322.4" y2="243.3" stroke="#8e8e8e" stroke-width="7.15" stroke-linecap="round"/>
<line x1="330.7" y1="230.1" x2="322.0" y2="243.1" stroke="#c6c6c6" stroke-width="5.29" stroke-linecap="round"/>
<line x1="330.3" y1="229.9" x2="321.7" y2="242.9" stroke="#ededed" stroke-width="2.57" stroke-linecap="round"/>
<line x1="357.0" y1="226.0" x2="421.0" y2="247.7" stroke="#8e8e8e" stroke-width="9.54" stroke-linecap="round"/>
<line x1="357.2" y1="225.5" x2="421.2" y2="247.1" stroke="#c6c6c6" stroke-width="7.06" stroke-linecap="round"/>
<line x1="357.4" y1="224.9" x2="421.4" y2="246.6" stroke="#ededed" stroke-width="3.43" stroke-linecap="round"/>
<line x1="365.7" y1="232.5" x2="421.0" y2="260.7" stroke="#8e8e8e" stroke-width="5.96" stroke-linecap="round"/>
<line x1="365.9" y1="232.2" x2="421.1" y2="260.4" stroke="#c6c6c6" stroke-width="4.41" stroke-linecap="round"/>
<line x1="366.0" y1="231.9" x2="421.3" y2="260.0" stroke="#ededed" stroke-width="2.15" stroke-linecap="round"/>
<line x1="380.9" y1="228.2" x2="421.0" y2="221.7" stroke="#8e8e8e" stroke-width="3.58" stroke-linecap="round"/>
<line x1="380.9" y1="228.0" x2="420.9" y2="221.5" stroke="#c6c6c6" stroke-width="2.65" stroke-linecap="round"/>
<line x1="380.8" y1="227.8" x2="420.9" y2="221.2" stroke="#ededed" stroke-width="1.29" stroke-linecap="round"/>
<line x1="352.7" y1="247.7" x2="421.0" y2="252.0" stroke="#8e8e8e" stroke-width="4.77" stroke-linecap="round"/>
<line x1="352.7" y1="247.4" x2="421.0" y2="251.7" stroke="#c6c6c6" stroke-width="3.53" stroke-linecap="round"/>
<line x1="352.7" y1="247.1" x2="421.0" y2="251.4" stroke="#ededed" stroke-width="1.72" stroke-linecap="round"/>
<line x1="367.9" y1="269.4" x2="417.7" y2="282.4" stroke="#8e8e8e" stroke-width="8.34" stroke-linecap="round"/>
<line x1="368.0" y1="268.9" x2="417.9" y2="281.9" stroke="#c6c6c6" stroke-width="6.17" stroke-linecap="round"/>
<line x1="368.1" y1="268.4" x2="418.0" y2="281.4" stroke="#ededed" stroke-width="3.00" stroke-linecap="round"/>
<line x1="361.4" y1="249.8" x2="361.4" y2="308.4" stroke="#8e8e8e" stroke-width="1.19" stroke-linecap="round"/>
<line x1="362.5" y1="200.0" x2="362.5" y2="249.8" stroke="#8e8e8e" stroke-width="1.19" stroke-linecap="round"/>
<line x1="309.4" y1="200.0" x2="331.0" y2="215.2" stroke="#8e8e8e" stroke-width="5.96" stroke-linecap="round"/>
<line x1="309.6" y1="199.7" x2="331.2" y2="214.9" stroke="#c6c6c6" stroke-width="4.41" stroke-linecap="round"/>
<line x1="309.8" y1="199.4" x2="331.4" y2="214.6" stroke="#ededed" stroke-width="2.15" stroke-linecap="round"/>
<line x1="294.2" y1="206.5" x2="311.5" y2="209.1" stroke="#8e8e8e" stroke-width="3.58" stroke-linecap="round"/>
<line x1="294.2" y1="206.3" x2="311.6" y2="208.9" stroke="#c6c6c6" stroke-width="2.65" stroke-linecap="round"/>
<line x1="294.3" y1="206.1" x2="311.6" y2="208.7" stroke="#ededed" stroke-width="1.29" stroke-linecap="round"/>
<line x1="335.4" y1="217.3" x2="352.7" y2="220.6" stroke="#6a6a6a" stroke-width="5.96" stroke-linecap="round"/>
<line x1="335.4" y1="217.0" x2="352.8" y2="220.2" stroke="#9c9c9c" stroke-width="4.41" stroke-linecap="round"/>
<line x1="335.5" y1="216.6" x2="352.8" y2="219.9" stroke="#bdbdbd" stroke-width="2.15" stroke-linecap="round"/>
<line x1="296.4" y1="200.0" x2="294.2" y2="206.5" stroke="#8e8e8e" stroke-width="2.38" stroke-linecap="round"/>
<line x1="296.2" y1="200.0" x2="294.1" y2="206.5" stroke="#c6c6c6" stroke-width="1.76" stroke-linecap="round"/>
<line x1="296.1" y1="199.9" x2="293.9" y2="206.4" stroke="#ededed" stroke-width="0.86" stroke-linecap="round"/>
<line x1="322.4" y1="200.0" x2="322.4" y2="208.7" stroke="#8e8e8e" stroke-width="2.38" stroke-linecap="round"/>
<line x1="322.2" y1="200.0" x2="322.2" y2="208.7" stroke="#c6c6c6" stroke-width="1.76" stroke-linecap="round"/>
<line x1="322.1" y1="200.0" x2="322.1" y2="208.7" stroke="#ededed" stroke-width="0.86" stroke-linecap="round"/>
<line x1="331.0" y1="269.4" x2="345.1" y2="275.9" stroke="#8e8e8e" stroke-width="4.29" stroke-linecap="round"/>
<line x1="331.1" y1="269.1" x2="345.2" y2="275.6" stroke="#c6c6c6" stroke-width="3.18" stroke-linecap="round"/>
<line x1="331.3" y1="268.9" x2="345.3" y2="275.4" stroke="#ededed" stroke-width="1.54" stroke-linecap="round"/>
<line x1="315.9" y1="273.7" x2="331.0" y2="260.7" stroke="#8e8e8e" stroke-width="2.86" stroke-linecap="round"/>
<line x1="315.8" y1="273.6" x2="330.9" y2="260.6" stroke="#c6c6c6" stroke-width="2.12" stroke-linecap="round"/>
<line x1="315.6" y1="273.4" x2="330.8" y2="260.4" stroke="#ededed" stroke-width="1.03" stroke-linecap="round"/>
<line x1="305.0" y1="271.5" x2="328.9" y2="263.9" stroke="#8e8e8e" stroke-width="2.86" stroke-linecap="round"/>
<line x1="305.0" y1="271.4" x2="328.8" y2="263.8" stroke="#c6c6c6" stroke-width="2.12" stroke-linecap="round"/>
<line x1="304.9" y1="271.2" x2="328.8" y2="263.6" stroke="#ededed" stroke-width="1.03" stroke-linecap="round"/>
<line x1="309.4" y1="280.2" x2="339.7" y2="275.9" stroke="#8e8e8e" stroke-width="2.86" stroke-linecap="round"/>
<line x1="309.3" y1="280.0" x2="339.7" y2="275.7" stroke="#c6c6c6" stroke-width="2.12" stroke-linecap="round"/>
<line x1="309.3" y1="279.9" x2="339.7" y2="275.5" stroke="#ededed" stroke-width="1.03" stroke-linecap="round"/>
<line x1="335.4" y1="286.7" x2="352.7" y2="304.0" stroke="#8e8e8e" stroke-width="2.86" stroke-linecap="round"/>
<line x1="335.5" y1="286.6" x2="352.8" y2="303.9" stroke="#c6c6c6" stroke-width="2.12" stroke-linecap="round"/>
<line x1="335.6" y1="286.4" x2="353.0" y2="303.8" stroke="#ededed" stroke-width="1.03" stroke-linecap="round"/>
<line x1="396.1" y1="247.7" x2="406.9" y2="200.0" stroke="#8e8e8e" stroke-width="4.77" stroke-linecap="round"/>
<line x1="395.8" y1="247.6" x2="406.6" y2="199.9" stroke="#c6c6c6" stroke-width="3.53" stroke-linecap="round"/>
<line x1="395.5" y1="247.6" x2="406.3" y2="199.9" stroke="#ededed" stroke-width="1.72" stroke-linecap="round"/>
<line x1="380.9" y1="200.0" x2="389.6" y2="226.0" stroke="#8e8e8e" stroke-width="4.77" stroke-linecap="round"/>
<line x1="380.6" y1="200.1" x2="389.3" y2="226.1" stroke="#c6c6c6" stroke-width="3.53" stroke-linecap="round"/>
<line x1="380.3" y1="200.2" x2="389.0" y2="226.2" stroke="#ededed" stroke-width="1.72" stroke-linecap="round"/>
<line x1="409.1" y1="200.0" x2="415.6" y2="230.3" stroke="#8e8e8e" stroke-width="4.77" stroke-linecap="round"/>
<line x1="408.8" y1="200.1" x2="415.3" y2="230.4" stroke="#c6c6c6" stroke-width="3.53" stroke-linecap="round"/>
<line x1="408.5" y1="200.1" x2="415.0" y2="230.5" stroke="#ededed" stroke-width="1.72" stroke-linecap="round"/>
<line x1="341.9" y1="200.0" x2="335.4" y2="217.3" stroke="#8e8e8e" stroke-width="3.58" stroke-linecap="round"/>
<line x1="341.7" y1="199.9" x2="335.2" y2="217.3" stroke="#c6c6c6" stroke-width="2.65" stroke-linecap="round"/>
<line x1="341.5" y1="199.8" x2="335.0" y2="217.2" stroke="#ededed" stroke-width="1.29" stroke-linecap="round"/>
<line x1="286.6" y1="257.4" x2="300.7" y2="258.5" stroke="#8e8e8e" stroke-width="1.91" stroke-linecap="round"/>
<line x1="286.6" y1="257.3" x2="300.7" y2="258.4" stroke="#c6c6c6" stroke-width="1.41" stroke-linecap="round"/>
<line x1="286.6" y1="257.2" x2="300.7" y2="258.3" stroke="#ededed" stroke-width="0.69" stroke-linecap="round"/>
<line x1="319.1" y1="245.5" x2="322.4" y2="255.3" stroke="#8e8e8e" stroke-width="2.38" stroke-linecap="round"/>
<line x1="319.0" y1="245.6" x2="322.2" y2="255.3" stroke="#c6c6c6" stroke-width="1.76" stroke-linecap="round"/>
<line x1="318.8" y1="245.6" x2="322.1" y2="255.4" stroke="#ededed" stroke-width="0.86" stroke-linecap="round"/>
<line x1="268.2" y1="241.2" x2="266.0" y2="267.2" stroke="#8e8e8e" stroke-width="0.95" stroke-linecap="round"/>
<line x1="365.7" y1="312.7" x2="402.6" y2="321.4" stroke="#8e8e8e" stroke-width="2.38" stroke-linecap="round"/>
<line x1="365.7" y1="312.6" x2="402.6" y2="321.2" stroke="#c6c6c6" stroke-width="1.76" stroke-linecap="round"/>
<line x1="365.8" y1="312.4" x2="402.6" y2="321.1" stroke="#ededed" stroke-width="0.86" stroke-linecap="round"/>
<line x1="326.7" y1="327.9" x2="322.4" y2="347.4" stroke="#8e8e8e" stroke-width="2.86" stroke-linecap="round"/>
<line x1="326.5" y1="327.8" x2="322.2" y2="347.3" stroke="#c6c6c6" stroke-width="2.12" stroke-linecap="round"/>
<line x1="326.4" y1="327.8" x2="322.0" y2="347.3" stroke="#ededed" stroke-width="1.03" stroke-linecap="round"/>
<line x1="363.5" y1="249.8" x2="397.1" y2="246.6" stroke="#8e8e8e" stroke-width="2.86" stroke-linecap="round"/>
<line x1="363.5" y1="249.7" x2="397.1" y2="246.4" stroke="#c6c6c6" stroke-width="2.12" stroke-linecap="round"/>
<line x1="363.5" y1="249.5" x2="397.1" y2="246.3" stroke="#ededed" stroke-width="1.03" stroke-linecap="round"/>
<line x1="395.0" y1="268.3" x2="415.6" y2="280.2" stroke="#8e8e8e" stroke-width="3.58" stroke-linecap="round"/>
<line x1="395.1" y1="268.1" x2="415.7" y2="280.0" stroke="#c6c6c6" stroke-width="2.65" stroke-linecap="round"/>
<line x1="395.2" y1="267.9" x2="415.8" y2="279.8" stroke="#ededed" stroke-width="1.29" stroke-linecap="round"/>
<line x1="341.9" y1="256.4" x2="363.5" y2="249.8" stroke="#8e8e8e" stroke-width="2.38" stroke-linecap="round"/>
<line x1="341.8" y1="256.2" x2="363.5" y2="249.7" stroke="#c6c6c6" stroke-width="1.76" stroke-linecap="round"/>
<line x1="341.8" y1="256.1" x2="363.5" y2="249.6" stroke="#ededed" stroke-width="0.86" stroke-linecap="round"/>
<line x1="378.7" y1="274.8" x2="395.0" y2="268.3" stroke="#8e8e8e" stroke-width="2.38" stroke-linecap="round"/>
<line x1="378.7" y1="274.6" x2="394.9" y2="268.1" stroke="#c6c6c6" stroke-width="1.76" stroke-linecap="round"/>
<line x1="378.6" y1="274.5" x2="394.9" y2="268.0" stroke="#ededed" stroke-width="0.86" stroke-linecap="round"/>
<line x1="339.7" y1="308.4" x2="357.0" y2="309.4" stroke="#8e8e8e" stroke-width="3.34" stroke-linecap="round"/>
<line x1="339.7" y1="308.2" x2="357.1" y2="309.2" stroke="#c6c6c6" stroke-width="2.47" stroke-linecap="round"/>
<line x1="339.7" y1="308.0" x2="357.1" y2="309.0" stroke="#ededed" stroke-width="1.20" stroke-linecap="round"/>
<line x1="324.5" y1="285.6" x2="356.0" y2="283.4" stroke="#8e8e8e" stroke-width="2.38" stroke-linecap="round"/>
<line x1="324.5" y1="285.5" x2="356.0" y2="283.3" stroke="#c6c6c6" stroke-width="1.76" stroke-linecap="round"/>
<line x1="324.5" y1="285.3" x2="355.9" y2="283.2" stroke="#ededed" stroke-width="0.86" stroke-linecap="round"/>
<line x1="367.9" y1="291.0" x2="396.1" y2="304.0" stroke="#8e8e8e" stroke-width="1.91" stroke-linecap="round"/>
<line x1="367.9" y1="290.9" x2="396.1" y2="303.9" stroke="#c6c6c6" stroke-width="1.41" stroke-linecap="round"/>
<line x1="368.0" y1="290.8" x2="396.2" y2="303.8" stroke="#ededed" stroke-width="0.69" stroke-linecap="round"/>
<line x1="365.7" y1="299.7" x2="415.6" y2="295.4" stroke="#8e8e8e" stroke-width="1.91" stroke-linecap="round"/>
<line x1="365.7" y1="299.6" x2="415.6" y2="295.2" stroke="#c6c6c6" stroke-width="1.41" stroke-linecap="round"/>
<line x1="365.7" y1="299.5" x2="415.5" y2="295.1" stroke="#ededed" stroke-width="0.69" stroke-linecap="round"/>
<line x1="421.0" y1="256.4" x2="453.1" y2="253.1" stroke="#8e8e8e" stroke-width="7.16" stroke-linecap="round"/>
<line x1="421.0" y1="256.0" x2="453.1" y2="252.7" stroke="#c6c6c6" stroke-width="5.30" stroke-linecap="round"/>
<line x1="420.9" y1="255.5" x2="453.0" y2="252.3" stroke="#ededed" stroke-width="2.58" stroke-linecap="round"/>
<line x1="453.1" y1="253.1" x2="511.0" y2="263.3" stroke="#8e8e8e" stroke-width="5.25" stroke-linecap="round"/>
<line x1="453.2" y1="252.8" x2="511.1" y2="263.0" stroke="#c6c6c6" stroke-width="3.88" stroke-linecap="round"/>
<line x1="453.2" y1="252.5" x2="511.1" y2="262.7" stroke="#ededed" stroke-width="1.89" stroke-linecap="round"/>
<line x1="465.5" y1="249.9" x2="544.6" y2="243.4" stroke="#8e8e8e" stroke-width="8.35" stroke-linecap="round"/>
<line x1="465.4" y1="249.4" x2="544.6" y2="242.9" stroke="#c6c6c6" stroke-width="6.18" stroke-linecap="round"/>
<line x1="465.4" y1="248.9" x2="544.5" y2="242.4" stroke="#ededed" stroke-width="3.01" stroke-linecap="round"/>
<line x1="486.1" y1="239.0" x2="544.6" y2="241.2" stroke="#8e8e8e" stroke-width="4.77" stroke-linecap="round"/>
<line x1="486.1" y1="238.8" x2="544.6" y2="240.9" stroke="#c6c6c6" stroke-width="3.53" stroke-linecap="round"/>
<line x1="486.1" y1="238.5" x2="544.6" y2="240.6" stroke="#ededed" stroke-width="1.72" stroke-linecap="round"/>
<line x1="543.5" y1="216.3" x2="553.3" y2="247.7" stroke="#8e8e8e" stroke-width="5.96" stroke-linecap="round"/>
<line x1="543.2" y1="216.4" x2="553.0" y2="247.8" stroke="#c6c6c6" stroke-width="4.41" stroke-linecap="round"/>
<line x1="542.8" y1="216.5" x2="552.6" y2="247.9" stroke="#ededed" stroke-width="2.15" stroke-linecap="round"/>
<line x1="553.3" y1="247.7" x2="572.8" y2="266.1" stroke="#6a6a6a" stroke-width="5.96" stroke-linecap="round"/>
<line x1="553.5" y1="247.5" x2="573.1" y2="265.9" stroke="#9c9c9c" stroke-width="4.41" stroke-linecap="round"/>
<line x1="553.8" y1="247.2" x2="573.3" y2="265.6" stroke="#bdbdbd" stroke-width="2.15" stroke-linecap="round"/>
<line x1="553.3" y1="200.0" x2="543.5" y2="216.3" stroke="#8e8e8e" stroke-width="5.96" stroke-linecap="round"/>
<line x1="553.0" y1="199.8" x2="543.2" y2="216.1" stroke="#c6c6c6" stroke-width="4.41" stroke-linecap="round"/>
<line x1="552.7" y1="199.6" x2="542.9" y2="215.9" stroke="#ededed" stroke-width="2.15" stroke-linecap="round"/>
<line x1="492.6" y1="200.0" x2="538.1" y2="206.5" stroke="#8e8e8e" stroke-width="3.58" stroke-linecap="round"/>
<line x1="492.6" y1="199.8" x2="538.1" y2="206.3" stroke="#c6c6c6" stroke-width="2.65" stroke-linecap="round"/>
<line x1="492.6" y1="199.6" x2="538.2" y2="206.1" stroke="#ededed" stroke-width="1.29" stroke-linecap="round"/>
<line x1="512.1" y1="209.1" x2="542.4" y2="239.0" stroke="#8e8e8e" stroke-width="2.86" stroke-linecap="round"/>
<line x1="512.2" y1="209.0" x2="542.6" y2="238.9" stroke="#c6c6c6" stroke-width="2.12" stroke-linecap="round"/>
<line x1="512.3" y1="208.9" x2="542.7" y2="238.8" stroke="#ededed" stroke-width="1.03" stroke-linecap="round"/>
<line x1="572.8" y1="266.1" x2="584.7" y2="310.6" stroke="#8e8e8e" stroke-width="3.58" stroke-linecap="round"/>
<line x1="572.6" y1="266.2" x2="584.5" y2="310.7" stroke="#c6c6c6" stroke-width="2.65" stroke-linecap="round"/>
<line x1="572.4" y1="266.3" x2="584.3" y2="310.7" stroke="#ededed" stroke-width="1.29" stroke-linecap="round"/>
<line x1="553.3" y1="247.7" x2="568.5" y2="200.0" stroke="#8e8e8e" stroke-width="2.39" stroke-linecap="round"/>
<line x1="553.2" y1="247.7" x2="568.3" y2="200.0" stroke="#c6c6c6" stroke-width="1.77" stroke-linecap="round"/>
<line x1="553.0" y1="247.6" x2="568.2" y2="199.9" stroke="#ededed" stroke-width="0.86" stroke-linecap="round"/>
<line x1="453.1" y1="253.1" x2="442.7" y2="306.3" stroke="#8e8e8e" stroke-width="5.96" stroke-linecap="round"/>
<line x1="452.7" y1="253.1" x2="442.3" y2="306.2" stroke="#c6c6c6" stroke-width="4.41" stroke-linecap="round"/>
<line x1="452.4" y1="253.0" x2="442.0" y2="306.1" stroke="#ededed" stroke-width="2.15" stroke-linecap="round"/>
<line x1="453.1" y1="253.1" x2="421.0" y2="271.6" stroke="#8e8e8e" stroke-width="4.77" stroke-linecap="round"/>
<line x1="453.0" y1="252.9" x2="420.9" y2="271.3" stroke="#c6c6c6" stroke-width="3.53" stroke-linecap="round"/>
<line x1="452.8" y1="252.6" x2="420.7" y2="271.1" stroke="#ededed" stroke-width="1.72" stroke-linecap="round"/>
<line x1="486.1" y1="273.7" x2="498.0" y2="308.4" stroke="#6a6a6a" stroke-width="5.96" stroke-linecap="round"/>
<line x1="485.7" y1="273.9" x2="497.7" y2="308.6" stroke="#9c9c9c" stroke-width="4.41" stroke-linecap="round"/>
<line x1="485.4" y1="274.0" x2="497.3" y2="308.7" stroke="#bdbdbd" stroke-width="2.15" stroke-linecap="round"/>
<line x1="498.0" y1="308.4" x2="542.4" y2="305.2" stroke="#8e8e8e" stroke-width="7.16" stroke-linecap="round"/>
<line x1="498.0" y1="308.0" x2="542.4" y2="304.8" stroke="#c6c6c6" stroke-width="5.30" stroke-linecap="round"/>
<line x1="497.9" y1="307.6" x2="542.4" y2="304.3" stroke="#ededed" stroke-width="2.58" stroke-linecap="round"/>
<line x1="498.0" y1="308.4" x2="462.2" y2="351.8" stroke="#8e8e8e" stroke-width="7.16" stroke-linecap="round"/>
<line x1="497.7" y1="308.2" x2="461.9" y2="351.5" stroke="#c6c6c6" stroke-width="5.30" stroke-linecap="round"/>
<line x1="497.3" y1="307.9" x2="461.5" y2="351.3" stroke="#ededed" stroke-width="2.58" stroke-linecap="round"/>
<line x1="453.5" y1="359.4" x2="421.0" y2="351.8" stroke="#8e8e8e" stroke-width="8.35" stroke-linecap="round"/>
<line x1="453.6" y1="358.9" x2="421.1" y2="351.3" stroke="#c6c6c6" stroke-width="6.18" stroke-linecap="round"/>
<line x1="453.8" y1="358.4" x2="421.2" y2="350.8" stroke="#ededed" stroke-width="3.01" stroke-linecap="round"/>
<line x1="453.5" y1="359.4" x2="421.0" y2="364.8" stroke="#8e8e8e" stroke-width="4.77" stroke-linecap="round"/>
<line x1="453.5" y1="359.1" x2="421.0" y2="364.5" stroke="#c6c6c6" stroke-width="3.53" stroke-linecap="round"/>
<line x1="453.4" y1="358.8" x2="420.9" y2="364.3" stroke="#ededed" stroke-width="1.72" stroke-linecap="round"/>
<line x1="453.5" y1="359.4" x2="427.5" y2="373.5" stroke="#8e8e8e" stroke-width="2.39" stroke-linecap="round"/>
<line x1="453.5" y1="359.3" x2="427.4" y2="373.4" stroke="#c6c6c6" stroke-width="1.77" stroke-linecap="round"/>
<line x1="453.4" y1="359.1" x2="427.4" y2="373.2" stroke="#ededed" stroke-width="0.86" stroke-linecap="round"/>
<line x1="453.5" y1="359.4" x2="507.7" y2="330.1" stroke="#8e8e8e" stroke-width="0.95" stroke-linecap="round"/>
<line x1="498.0" y1="308.4" x2="464.4" y2="317.1" stroke="#8e8e8e" stroke-width="4.77" stroke-linecap="round"/>
<line x1="497.9" y1="308.2" x2="464.3" y2="316.8" stroke="#c6c6c6" stroke-width="3.53" stroke-linecap="round"/>
<line x1="497.8" y1="307.9" x2="464.2" y2="316.6" stroke="#ededed" stroke-width="1.72" stroke-linecap="round"/>
<line x1="464.4" y1="317.1" x2="434.0" y2="321.4" stroke="#8e8e8e" stroke-width="3.58" stroke-linecap="round"/>
<line x1="464.3" y1="316.9" x2="434.0" y2="321.2" stroke="#c6c6c6" stroke-width="2.65" stroke-linecap="round"/>
<line x1="464.3" y1="316.7" x2="434.0" y2="321.0" stroke="#ededed" stroke-width="1.29" stroke-linecap="round"/>
<line x1="514.3" y1="291.1" x2="527.3" y2="306.3" stroke="#6a6a6a" stroke-width="5.96" stroke-linecap="round"/>
<line x1="514.0" y1="291.3" x2="527.0" y2="306.5" stroke="#9c9c9c" stroke-width="4.41" stroke-linecap="round"/>
<line x1="513.7" y1="291.6" x2="526.7" y2="306.7" stroke="#bdbdbd" stroke-width="2.15" stroke-linecap="round"/>
<line x1="527.3" y1="306.3" x2="553.3" y2="323.6" stroke="#8e8e8e" stroke-width="3.58" stroke-linecap="round"/>
<line x1="527.4" y1="306.1" x2="553.4" y2="323.4" stroke="#c6c6c6" stroke-width="2.65" stroke-linecap="round"/>
<line x1="527.5" y1="305.9" x2="553.5" y2="323.3" stroke="#ededed" stroke-width="1.29" stroke-linecap="round"/>
<line x1="505.6" y1="311.7" x2="535.9" y2="319.3" stroke="#8e8e8e" stroke-width="3.58" stroke-linecap="round"/>
<line x1="505.6" y1="311.5" x2="536.0" y2="319.1" stroke="#c6c6c6" stroke-width="2.65" stroke-linecap="round"/>
<line x1="505.7" y1="311.3" x2="536.0" y2="318.9" stroke="#ededed" stroke-width="1.29" stroke-linecap="round"/>
<line x1="512.1" y1="291.1" x2="542.4" y2="249.9" stroke="#8e8e8e" stroke-width="3.58" stroke-linecap="round"/>
<line x1="511.9" y1="291.0" x2="542.3" y2="249.8" stroke="#c6c6c6" stroke-width="2.65" stroke-linecap="round"/>
<line x1="511.7" y1="290.8" x2="542.1" y2="249.6" stroke="#ededed" stroke-width="1.29" stroke-linecap="round"/>
<line x1="538.1" y1="291.1" x2="549.0" y2="293.3" stroke="#8e8e8e" stroke-width="2.39" stroke-linecap="round"/>
<line x1="538.1" y1="290.9" x2="549.0" y2="293.1" stroke="#c6c6c6" stroke-width="1.77" stroke-linecap="round"/>
<line x1="538.2" y1="290.8" x2="549.0" y2="293.0" stroke="#ededed" stroke-width="0.86" stroke-linecap="round"/>
<line x1="486.1" y1="273.7" x2="509.9" y2="263.3" stroke="#8e8e8e" stroke-width="5.96" stroke-linecap="round"/>
<line x1="485.9" y1="273.4" x2="509.8" y2="263.0" stroke="#c6c6c6" stroke-width="4.41" stroke-linecap="round"/>
<line x1="485.8" y1="273.1" x2="509.6" y2="262.7" stroke="#ededed" stroke-width="2.15" stroke-linecap="round"/>
<line x1="442.7" y1="223.9" x2="448.1" y2="241.2" stroke="#4e4e4e" stroke-width="4.77" stroke-linecap="round"/>
<line x1="442.4" y1="223.9" x2="447.8" y2="241.3" stroke="#767676" stroke-width="3.53" stroke-linecap="round"/>
<line x1="442.1" y1="224.0" x2="447.6" y2="241.4" stroke="#949494" stroke-width="1.72" stroke-linecap="round"/>
<line x1="421.0" y1="213.0" x2="440.5" y2="222.8" stroke="#8e8e8e" stroke-width="4.77" stroke-linecap="round"/>
<line x1="421.1" y1="212.8" x2="440.6" y2="222.5" stroke="#c6c6c6" stroke-width="3.53" stroke-linecap="round"/>
<line x1="421.3" y1="212.5" x2="440.8" y2="222.3" stroke="#ededed" stroke-width="1.72" stroke-linecap="round"/>
<line x1="457.9" y1="219.5" x2="464.4" y2="200.0" stroke="#8e8e8e" stroke-width="7.16" stroke-linecap="round"/>
<line x1="457.5" y1="219.4" x2="464.0" y2="199.9" stroke="#c6c6c6" stroke-width="5.30" stroke-linecap="round"/>
<line x1="457.1" y1="219.2" x2="463.6" y2="199.7" stroke="#ededed" stroke-width="2.58" stroke-linecap="round"/>
<line x1="473.0" y1="200.0" x2="477.4" y2="219.5" stroke="#8e8e8e" stroke-width="5.96" stroke-linecap="round"/>
<line x1="472.7" y1="200.1" x2="477.0" y2="219.6" stroke="#c6c6c6" stroke-width="4.41" stroke-linecap="round"/>
<line x1="472.4" y1="200.2" x2="476.7" y2="219.7" stroke="#ededed" stroke-width="2.15" stroke-linecap="round"/>
<line x1="464.4" y1="200.0" x2="449.2" y2="241.2" stroke="#8e8e8e" stroke-width="3.58" stroke-linecap="round"/>
<line x1="464.2" y1="199.9" x2="449.0" y2="241.1" stroke="#c6c6c6" stroke-width="2.65" stroke-linecap="round"/>
<line x1="464.0" y1="199.9" x2="448.8" y2="241.1" stroke="#ededed" stroke-width="1.29" stroke-linecap="round"/>
<line x1="421.0" y1="286.7" x2="453.5" y2="271.6" stroke="#8e8e8e" stroke-width="2.86" stroke-linecap="round"/>
<line x1="420.9" y1="286.6" x2="453.5" y2="271.4" stroke="#c6c6c6" stroke-width="2.12" stroke-linecap="round"/>
<line x1="420.9" y1="286.4" x2="453.4" y2="271.3" stroke="#ededed" stroke-width="1.03" stroke-linecap="round"/>
<line x1="442.7" y1="282.4" x2="457.9" y2="308.4" stroke="#8e8e8e" stroke-width="2.39" stroke-linecap="round"/>
<line x1="442.6" y1="282.5" x2="457.7" y2="308.5" stroke="#c6c6c6" stroke-width="1.77" stroke-linecap="round"/>
<line x1="442.4" y1="282.6" x2="457.6" y2="308.6" stroke="#ededed" stroke-width="0.86" stroke-linecap="round"/>
<line x1="455.7" y1="275.9" x2="468.7" y2="301.9" stroke="#8e8e8e" stroke-width="2.39" stroke-linecap="round"/>
<line x1="455.6" y1="276.0" x2="468.6" y2="302.0" stroke="#c6c6c6" stroke-width="1.77" stroke-linecap="round"/>
<line x1="455.4" y1="276.0" x2="468.5" y2="302.1" stroke="#ededed" stroke-width="0.86" stroke-linecap="round"/>
<line x1="421.0" y1="308.4" x2="447.0" y2="351.8" stroke="#8e8e8e" stroke-width="2.39" stroke-linecap="round"/>
<line x1="420.9" y1="308.5" x2="446.9" y2="351.9" stroke="#c6c6c6" stroke-width="1.77" stroke-linecap="round"/>
<line x1="420.8" y1="308.6" x2="446.8" y2="352.0" stroke="#ededed" stroke-width="0.86" stroke-linecap="round"/>
<line x1="434.0" y1="312.8" x2="453.5" y2="359.4" stroke="#8e8e8e" stroke-width="2.86" stroke-linecap="round"/>
<line x1="433.9" y1="312.8" x2="453.4" y2="359.5" stroke="#c6c6c6" stroke-width="2.12" stroke-linecap="round"/>
<line x1="433.7" y1="312.9" x2="453.2" y2="359.5" stroke="#ededed" stroke-width="1.03" stroke-linecap="round"/>
<line x1="464.4" y1="317.1" x2="453.5" y2="359.4" stroke="#8e8e8e" stroke-width="3.58" stroke-linecap="round"/>
<line x1="464.2" y1="317.1" x2="453.3" y2="359.3" stroke="#c6c6c6" stroke-width="2.65" stroke-linecap="round"/>
<line x1="464.0" y1="317.0" x2="453.1" y2="359.3" stroke="#ededed" stroke-width="1.29" stroke-linecap="round"/>
<line x1="477.4" y1="284.6" x2="486.1" y2="273.7" stroke="#8e8e8e" stroke-width="2.39" stroke-linecap="round"/>
<line x1="477.3" y1="284.5" x2="486.0" y2="273.6" stroke="#c6c6c6" stroke-width="1.77" stroke-linecap="round"/>
<line x1="477.2" y1="284.4" x2="485.8" y2="273.6" stroke="#ededed" stroke-width="0.86" stroke-linecap="round"/>
<line x1="533.8" y1="269.4" x2="551.1" y2="271.6" stroke="#8e8e8e" stroke-width="2.86" stroke-linecap="round"/>
<line x1="533.8" y1="269.2" x2="551.1" y2="271.4" stroke="#c6c6c6" stroke-width="2.12" stroke-linecap="round"/>
<line x1="533.8" y1="269.1" x2="551.2" y2="271.2" stroke="#ededed" stroke-width="1.03" stroke-linecap="round"/>
<line x1="533.8" y1="269.4" x2="518.6" y2="262.9" stroke="#8e8e8e" stroke-width="3.58" stroke-linecap="round"/>
<line x1="533.9" y1="269.2" x2="518.7" y2="262.7" stroke="#c6c6c6" stroke-width="2.65" stroke-linecap="round"/>
<line x1="533.9" y1="269.0" x2="518.8" y2="262.5" stroke="#ededed" stroke-width="1.29" stroke-linecap="round"/>
<line x1="572.8" y1="266.1" x2="551.1" y2="269.4" stroke="#8e8e8e" stroke-width="2.86" stroke-linecap="round"/>
<line x1="572.8" y1="266.0" x2="551.1" y2="269.2" stroke="#c6c6c6" stroke-width="2.12" stroke-linecap="round"/>
<line x1="572.8" y1="265.8" x2="551.1" y2="269.1" stroke="#ededed" stroke-width="1.03" stroke-linecap="round"/>
<line x1="421.0" y1="232.5" x2="440.5" y2="222.8" stroke="#8e8e8e" stroke-width="2.86" stroke-linecap="round"/>
<line x1="420.9" y1="232.4" x2="440.4" y2="222.6" stroke="#c6c6c6" stroke-width="2.12" stroke-linecap="round"/>
<line x1="420.8" y1="232.2" x2="440.4" y2="222.5" stroke="#ededed" stroke-width="1.03" stroke-linecap="round"/>
<line x1="421.0" y1="204.3" x2="436.2" y2="215.2" stroke="#8e8e8e" stroke-width="2.39" stroke-linecap="round"/>
<line x1="421.1" y1="204.2" x2="436.3" y2="215.1" stroke="#c6c6c6" stroke-width="1.77" stroke-linecap="round"/>
<line x1="421.2" y1="204.1" x2="436.3" y2="214.9" stroke="#ededed" stroke-width="0.86" stroke-linecap="round"/>
<line x1="427.5" y1="265.1" x2="421.0" y2="297.6" stroke="#8e8e8e" stroke-width="1.91" stroke-linecap="round"/>
<line x1="427.4" y1="265.0" x2="420.9" y2="297.6" stroke="#c6c6c6" stroke-width="1.41" stroke-linecap="round"/>
<line x1="427.3" y1="265.0" x2="420.8" y2="297.5" stroke="#ededed" stroke-width="0.69" stroke-linecap="round"/>
<line x1="468.7" y1="243.4" x2="486.1" y2="239.0" stroke="#8e8e8e" stroke-width="2.39" stroke-linecap="round"/>
<line x1="468.7" y1="243.2" x2="486.0" y2="238.9" stroke="#c6c6c6" stroke-width="1.77" stroke-linecap="round"/>
<line x1="468.6" y1="243.1" x2="486.0" y2="238.8" stroke="#ededed" stroke-width="0.86" stroke-linecap="round"/>
<line x1="479.6" y1="252.0" x2="461.1" y2="269.4" stroke="#8e8e8e" stroke-width="2.86" stroke-linecap="round"/>
<line x1="479.4" y1="251.9" x2="461.0" y2="269.3" stroke="#c6c6c6" stroke-width="2.12" stroke-linecap="round"/>
<line x1="479.3" y1="251.8" x2="460.9" y2="269.1" stroke="#ededed" stroke-width="1.03" stroke-linecap="round"/>
<line x1="461.1" y1="269.4" x2="442.7" y2="306.3" stroke="#8e8e8e" stroke-width="2.39" stroke-linecap="round"/>
<line x1="461.0" y1="269.3" x2="442.6" y2="306.2" stroke="#c6c6c6" stroke-width="1.77" stroke-linecap="round"/>
<line x1="460.9" y1="269.3" x2="442.4" y2="306.1" stroke="#ededed" stroke-width="0.86" stroke-linecap="round"/>
<line x1="340.0" y1="114.3" x2="375.6" y2="130.1" stroke="#8e8e8e" stroke-width="6.53" stroke-linecap="round"/>
<line x1="340.2" y1="113.9" x2="375.8" y2="129.8" stroke="#c6c6c6" stroke-width="4.83" stroke-linecap="round"/>
<line x1="340.3" y1="113.6" x2="375.9" y2="129.4" stroke="#ededed" stroke-width="2.35" stroke-linecap="round"/>
<line x1="340.0" y1="135.4" x2="371.7" y2="155.2" stroke="#6a6a6a" stroke-width="7.26" stroke-linecap="round"/>
<line x1="340.2" y1="135.0" x2="371.9" y2="154.8" stroke="#9c9c9c" stroke-width="5.37" stroke-linecap="round"/>
<line x1="340.5" y1="134.7" x2="372.1" y2="154.5" stroke="#bdbdbd" stroke-width="2.61" stroke-linecap="round"/>
<line x1="371.7" y1="155.2" x2="353.2" y2="169.7" stroke="#6a6a6a" stroke-width="6.53" stroke-linecap="round"/>
<line x1="371.4" y1="154.9" x2="353.0" y2="169.4" stroke="#9c9c9c" stroke-width="4.83" stroke-linecap="round"/>
<line x1="371.2" y1="154.6" x2="352.7" y2="169.1" stroke="#bdbdbd" stroke-width="2.35" stroke-linecap="round"/>
<line x1="373.0" y1="136.7" x2="408.6" y2="82.6" stroke="#8e8e8e" stroke-width="5.08" stroke-linecap="round"/>
<line x1="372.7" y1="136.6" x2="408.3" y2="82.5" stroke="#c6c6c6" stroke-width="3.76" stroke-linecap="round"/>
<line x1="372.5" y1="136.4" x2="408.1" y2="82.3" stroke="#ededed" stroke-width="1.83" stroke-linecap="round"/>
<line x1="406.0" y1="99.8" x2="450.8" y2="95.2" stroke="#8e8e8e" stroke-width="5.08" stroke-linecap="round"/>
<line x1="405.9" y1="99.5" x2="450.8" y2="94.9" stroke="#c6c6c6" stroke-width="3.76" stroke-linecap="round"/>
<line x1="405.9" y1="99.2" x2="450.8" y2="94.6" stroke="#ededed" stroke-width="1.83" stroke-linecap="round"/>
<line x1="450.8" y1="95.2" x2="480.0" y2="99.8" stroke="#8e8e8e" stroke-width="5.08" stroke-linecap="round"/>
<line x1="450.9" y1="94.9" x2="480.0" y2="99.5" stroke="#c6c6c6" stroke-width="3.76" stroke-linecap="round"/>
<line x1="450.9" y1="94.6" x2="480.1" y2="99.2" stroke="#ededed" stroke-width="1.83" stroke-linecap="round"/>
<line x1="353.2" y1="91.9" x2="340.0" y2="101.1" stroke="#8e8e8e" stroke-width="5.08" stroke-linecap="round"/>
<line x1="353.0" y1="91.6" x2="339.8" y2="100.9" stroke="#c6c6c6" stroke-width="3.76" stroke-linecap="round"/>
<line x1="352.8" y1="91.4" x2="339.7" y2="100.6" stroke="#ededed" stroke-width="1.83" stroke-linecap="round"/>
<line x1="365.1" y1="108.4" x2="382.2" y2="111.0" stroke="#6a6a6a" stroke-width="7.26" stroke-linecap="round"/>
<line x1="365.1" y1="107.9" x2="382.3" y2="110.6" stroke="#9c9c9c" stroke-width="5.37" stroke-linecap="round"/>
<line x1="365.2" y1="107.5" x2="382.3" y2="110.1" stroke="#bdbdbd" stroke-width="2.61" stroke-linecap="round"/>
<line x1="340.0" y1="110.3" x2="365.1" y2="108.4" stroke="#8e8e8e" stroke-width="1.45" stroke-linecap="round"/>
<line x1="376.9" y1="157.8" x2="432.3" y2="159.2" stroke="#8e8e8e" stroke-width="3.63" stroke-linecap="round"/>
<line x1="376.9" y1="157.6" x2="432.4" y2="158.9" stroke="#c6c6c6" stroke-width="2.68" stroke-linecap="round"/>
<line x1="376.9" y1="157.4" x2="432.4" y2="158.7" stroke="#ededed" stroke-width="1.31" stroke-linecap="round"/>
<line x1="353.2" y1="174.3" x2="398.0" y2="172.3" stroke="#8e8e8e" stroke-width="3.63" stroke-linecap="round"/>
<line x1="353.2" y1="174.1" x2="398.0" y2="172.1" stroke="#c6c6c6" stroke-width="2.68" stroke-linecap="round"/>
<line x1="353.2" y1="173.9" x2="398.0" y2="171.9" stroke="#ededed" stroke-width="1.31" stroke-linecap="round"/>
<line x1="361.1" y1="182.9" x2="398.0" y2="172.3" stroke="#8e8e8e" stroke-width="2.90" stroke-linecap="round"/>
<line x1="361.1" y1="182.7" x2="398.0" y2="172.2" stroke="#c6c6c6" stroke-width="2.15" stroke-linecap="round"/>
<line x1="361.0" y1="182.6" x2="398.0" y2="172.0" stroke="#ededed" stroke-width="1.04" stroke-linecap="round"/>
<line x1="392.8" y1="198.7" x2="456.1" y2="187.5" stroke="#8e8e8e" stroke-width="5.80" stroke-linecap="round"/>
<line x1="392.7" y1="198.4" x2="456.0" y2="187.2" stroke="#c6c6c6" stroke-width="4.30" stroke-linecap="round"/>
<line x1="392.6" y1="198.0" x2="456.0" y2="186.8" stroke="#ededed" stroke-width="2.09" stroke-linecap="round"/>
<line x1="456.1" y1="187.5" x2="480.0" y2="172.3" stroke="#8e8e8e" stroke-width="5.80" stroke-linecap="round"/>
<line x1="455.9" y1="187.2" x2="479.8" y2="172.1" stroke="#c6c6c6" stroke-width="4.30" stroke-linecap="round"/>
<line x1="455.7" y1="186.9" x2="479.6" y2="171.8" stroke="#ededed" stroke-width="2.09" stroke-linecap="round"/>
<line x1="427.1" y1="171.0" x2="427.1" y2="192.1" stroke="#8e8e8e" stroke-width="5.08" stroke-linecap="round"/>
<line x1="426.8" y1="171.0" x2="426.8" y2="192.1" stroke="#c6c6c6" stroke-width="3.76" stroke-linecap="round"/>
<line x1="426.5" y1="171.0" x2="426.5" y2="192.1" stroke="#ededed" stroke-width="1.83" stroke-linecap="round"/>
<line x1="432.3" y1="181.6" x2="456.1" y2="185.5" stroke="#8e8e8e" stroke-width="2.90" stroke-linecap="round"/>
<line x1="432.4" y1="181.4" x2="456.1" y2="185.4" stroke="#c6c6c6" stroke-width="2.15" stroke-linecap="round"/>
<line x1="432.4" y1="181.2" x2="456.2" y2="185.2" stroke="#ededed" stroke-width="1.04" stroke-linecap="round"/>
<line x1="438.9" y1="172.3" x2="448.2" y2="185.5" stroke="#8e8e8e" stroke-width="7.26" stroke-linecap="round"/>
<line x1="438.6" y1="172.6" x2="447.8" y2="185.8" stroke="#c6c6c6" stroke-width="5.37" stroke-linecap="round"/>
<line x1="438.2" y1="172.8" x2="447.5" y2="186.0" stroke="#ededed" stroke-width="2.61" stroke-linecap="round"/>
<line x1="366.4" y1="185.5" x2="376.9" y2="220.0" stroke="#8e8e8e" stroke-width="5.80" stroke-linecap="round"/>
<line x1="366.1" y1="185.6" x2="376.6" y2="220.1" stroke="#c6c6c6" stroke-width="4.30" stroke-linecap="round"/>
<line x1="365.7" y1="185.7" x2="376.3" y2="220.2" stroke="#ededed" stroke-width="2.09" stroke-linecap="round"/>
<line x1="362.4" y1="188.2" x2="366.4" y2="220.0" stroke="#8e8e8e" stroke-width="4.35" stroke-linecap="round"/>
<line x1="362.2" y1="188.2" x2="366.1" y2="220.0" stroke="#c6c6c6" stroke-width="3.22" stroke-linecap="round"/>
<line x1="361.9" y1="188.2" x2="365.9" y2="220.0" stroke="#ededed" stroke-width="1.57" stroke-linecap="round"/>
<line x1="383.5" y1="143.3" x2="403.3" y2="131.5" stroke="#8e8e8e" stroke-width="2.90" stroke-linecap="round"/>
<line x1="383.4" y1="143.2" x2="403.2" y2="131.3" stroke="#c6c6c6" stroke-width="2.15" stroke-linecap="round"/>
<line x1="383.4" y1="143.0" x2="403.1" y2="131.2" stroke="#ededed" stroke-width="1.04" stroke-linecap="round"/>
<line x1="383.5" y1="148.6" x2="413.9" y2="139.4" stroke="#8e8e8e" stroke-width="4.35" stroke-linecap="round"/>
<line x1="383.5" y1="148.4" x2="413.8" y2="139.1" stroke="#c6c6c6" stroke-width="3.22" stroke-linecap="round"/>
<line x1="383.4" y1="148.1" x2="413.7" y2="138.9" stroke="#ededed" stroke-width="1.57" stroke-linecap="round"/>
<line x1="379.6" y1="143.3" x2="406.0" y2="144.6" stroke="#8e8e8e" stroke-width="4.35" stroke-linecap="round"/>
<line x1="379.6" y1="143.1" x2="406.0" y2="144.4" stroke="#c6c6c6" stroke-width="3.22" stroke-linecap="round"/>
<line x1="379.6" y1="142.8" x2="406.0" y2="144.1" stroke="#ededed" stroke-width="1.57" stroke-linecap="round"/>
<line x1="425.8" y1="118.3" x2="480.0" y2="110.3" stroke="#8e8e8e" stroke-width="4.35" stroke-linecap="round"/>
<line x1="425.7" y1="118.0" x2="479.9" y2="110.1" stroke="#c6c6c6" stroke-width="3.22" stroke-linecap="round"/>
<line x1="425.7" y1="117.7" x2="479.9" y2="109.8" stroke="#ededed" stroke-width="1.57" stroke-linecap="round"/>
<line x1="438.9" y1="124.9" x2="471.9" y2="102.4" stroke="#8e8e8e" stroke-width="4.35" stroke-linecap="round"/>
<line x1="438.8" y1="124.6" x2="471.8" y2="102.2" stroke="#c6c6c6" stroke-width="3.22" stroke-linecap="round"/>
<line x1="438.7" y1="124.4" x2="471.6" y2="102.0" stroke="#ededed" stroke-width="1.57" stroke-linecap="round"/>
<line x1="453.5" y1="139.4" x2="480.0" y2="119.6" stroke="#8e8e8e" stroke-width="5.80" stroke-linecap="round"/>
<line x1="453.2" y1="139.1" x2="479.8" y2="119.3" stroke="#c6c6c6" stroke-width="4.30" stroke-linecap="round"/>
<line x1="453.0" y1="138.8" x2="479.6" y2="119.0" stroke="#ededed" stroke-width="2.09" stroke-linecap="round"/>
<line x1="456.1" y1="139.4" x2="458.7" y2="172.3" stroke="#8e8e8e" stroke-width="4.35" stroke-linecap="round"/>
<line x1="455.8" y1="139.4" x2="458.5" y2="172.4" stroke="#c6c6c6" stroke-width="3.22" stroke-linecap="round"/>
<line x1="455.6" y1="139.4" x2="458.2" y2="172.4" stroke="#ededed" stroke-width="1.57" stroke-linecap="round"/>
<line x1="390.1" y1="93.2" x2="406.0" y2="99.8" stroke="#8e8e8e" stroke-width="3.63" stroke-linecap="round"/>
<line x1="390.2" y1="93.0" x2="406.0" y2="99.6" stroke="#c6c6c6" stroke-width="2.68" stroke-linecap="round"/>
<line x1="390.3" y1="92.8" x2="406.1" y2="99.4" stroke="#ededed" stroke-width="1.31" stroke-linecap="round"/>
<line x1="366.4" y1="91.9" x2="371.7" y2="116.9" stroke="#8e8e8e" stroke-width="5.08" stroke-linecap="round"/>
<line x1="366.1" y1="91.9" x2="371.4" y2="117.0" stroke="#c6c6c6" stroke-width="3.76" stroke-linecap="round"/>
<line x1="365.8" y1="92.0" x2="371.1" y2="117.1" stroke="#ededed" stroke-width="1.83" stroke-linecap="round"/>
<line x1="419.2" y1="209.3" x2="458.7" y2="194.8" stroke="#8e8e8e" stroke-width="3.63" stroke-linecap="round"/>
<line x1="419.1" y1="209.1" x2="458.7" y2="194.6" stroke="#c6c6c6" stroke-width="2.68" stroke-linecap="round"/>
<line x1="419.0" y1="208.9" x2="458.6" y2="194.4" stroke="#ededed" stroke-width="1.31" stroke-linecap="round"/>
<line x1="340.0" y1="196.1" x2="359.8" y2="198.7" stroke="#8e8e8e" stroke-width="2.90" stroke-linecap="round"/>
<line x1="340.0" y1="195.9" x2="359.8" y2="198.6" stroke="#c6c6c6" stroke-width="2.15" stroke-linecap="round"/>
<line x1="340.0" y1="195.7" x2="359.8" y2="198.4" stroke="#ededed" stroke-width="1.04" stroke-linecap="round"/>
<line x1="432.3" y1="211.9" x2="471.9" y2="198.7" stroke="#8e8e8e" stroke-width="2.90" stroke-linecap="round"/>
<line x1="432.3" y1="211.8" x2="471.9" y2="198.6" stroke="#c6c6c6" stroke-width="2.15" stroke-linecap="round"/>
<line x1="432.2" y1="211.6" x2="471.8" y2="198.4" stroke="#ededed" stroke-width="1.04" stroke-linecap="round"/>
<line x1="452.1" y1="198.7" x2="480.0" y2="192.1" stroke="#8e8e8e" stroke-width="2.90" stroke-linecap="round"/>
<line x1="452.1" y1="198.6" x2="479.9" y2="192.0" stroke="#c6c6c6" stroke-width="2.15" stroke-linecap="round"/>
<line x1="452.1" y1="198.4" x2="479.9" y2="191.8" stroke="#ededed" stroke-width="1.04" stroke-linecap="round"/>
<line x1="346.6" y1="175.0" x2="340.0" y2="185.5" stroke="#8e8e8e" stroke-width="2.90" stroke-linecap="round"/>
<line x1="346.4" y1="174.9" x2="339.9" y2="185.4" stroke="#c6c6c6" stroke-width="2.15" stroke-linecap="round"/>
<line x1="346.3" y1="174.8" x2="339.7" y2="185.4" stroke="#ededed" stroke-width="1.04" stroke-linecap="round"/>
<line x1="340.0" y1="161.8" x2="376.9" y2="159.2" stroke="#8e8e8e" stroke-width="1.16" stroke-linecap="round"/>
<line x1="379.6" y1="167.1" x2="440.3" y2="153.9" stroke="#8e8e8e" stroke-width="1.16" stroke-linecap="round"/>
<line x1="353.2" y1="132.8" x2="432.3" y2="126.2" stroke="#8e8e8e" stroke-width="0.87" stroke-linecap="round"/>
<line x1="440.3" y1="153.9" x2="480.0" y2="142.0" stroke="#8e8e8e" stroke-width="1.16" stroke-linecap="round"/>
<line x1="419.2" y1="119.6" x2="432.3" y2="140.7" stroke="#8e8e8e" stroke-width="1.45" stroke-linecap="round"/>
<line x1="448.2" y1="93.2" x2="458.7" y2="139.4" stroke="#8e8e8e" stroke-width="1.16" stroke-linecap="round"/>
<line x1="442.9" y1="99.8" x2="450.8" y2="146.0" stroke="#8e8e8e" stroke-width="1.16" stroke-linecap="round"/>
<line x1="432.3" y1="80.0" x2="431.0" y2="95.8" stroke="#8e8e8e" stroke-width="1.16" stroke-linecap="round"/>
<line x1="437.6" y1="80.0" x2="432.3" y2="93.2" stroke="#8e8e8e" stroke-width="0.87" stroke-linecap="round"/>
<line x1="340.0" y1="182.9" x2="363.7" y2="172.3" stroke="#8e8e8e" stroke-width="1.16" stroke-linecap="round"/>
<line x1="379.6" y1="205.3" x2="419.2" y2="217.2" stroke="#8e8e8e" stroke-width="1.45" stroke-linecap="round"/>
<line x1="398.0" y1="189.5" x2="392.8" y2="220.0" stroke="#8e8e8e" stroke-width="2.03" stroke-linecap="round"/>
<line x1="397.9" y1="189.5" x2="392.7" y2="220.0" stroke="#c6c6c6" stroke-width="1.50" stroke-linecap="round"/>
<line x1="397.8" y1="189.5" x2="392.5" y2="219.9" stroke="#ededed" stroke-width="0.73" stroke-linecap="round"/>
<line x1="406.0" y1="198.7" x2="408.6" y2="220.0" stroke="#8e8e8e" stroke-width="2.90" stroke-linecap="round"/>
<line x1="405.8" y1="198.8" x2="408.4" y2="220.0" stroke="#c6c6c6" stroke-width="2.15" stroke-linecap="round"/>
<line x1="405.6" y1="198.8" x2="408.3" y2="220.0" stroke="#ededed" stroke-width="1.04" stroke-linecap="round"/>
<line x1="465.3" y1="172.3" x2="480.0" y2="153.9" stroke="#8e8e8e" stroke-width="1.45" stroke-linecap="round"/>
<line x1="471.9" y1="189.5" x2="480.0" y2="211.9" stroke="#8e8e8e" stroke-width="2.90" stroke-linecap="round"/>
<line x1="471.8" y1="189.6" x2="479.8" y2="212.0" stroke="#c6c6c6" stroke-width="2.15" stroke-linecap="round"/>
<line x1="471.6" y1="189.6" x2="479.6" y2="212.0" stroke="#ededed" stroke-width="1.04" stroke-linecap="round"/>
<line x1="454.8" y1="188.2" x2="452.1" y2="220.0" stroke="#8e8e8e" stroke-width="3.63" stroke-linecap="round"/>
<line x1="454.6" y1="188.2" x2="451.9" y2="220.0" stroke="#c6c6c6" stroke-width="2.68" stroke-linecap="round"/>
<line x1="454.3" y1="188.1" x2="451.7" y2="219.9" stroke="#ededed" stroke-width="1.31" stroke-linecap="round"/>
<line x1="340.0" y1="211.9" x2="351.9" y2="206.6" stroke="#8e8e8e" stroke-width="1.74" stroke-linecap="round"/>
<line x1="340.0" y1="211.8" x2="351.8" y2="206.6" stroke="#c6c6c6" stroke-width="1.29" stroke-linecap="round"/>
<line x1="339.9" y1="211.7" x2="351.8" y2="206.5" stroke="#ededed" stroke-width="0.63" stroke-linecap="round"/>
<line x1="373.0" y1="101.1" x2="379.6" y2="80.0" stroke="#8e8e8e" stroke-width="1.45" stroke-linecap="round"/>
<line x1="413.9" y1="95.8" x2="419.2" y2="119.6" stroke="#8e8e8e" stroke-width="1.16" stroke-linecap="round"/>
<line x1="395.4" y1="135.4" x2="413.9" y2="130.1" stroke="#8e8e8e" stroke-width="1.45" stroke-linecap="round"/>
<line x1="347.9" y1="119.6" x2="366.4" y2="106.4" stroke="#8e8e8e" stroke-width="1.16" stroke-linecap="round"/>
<line x1="353.2" y1="146.0" x2="379.6" y2="136.7" stroke="#8e8e8e" stroke-width="1.45" stroke-linecap="round"/>
<line x1="502.0" y1="156.6" x2="525.8" y2="150.0" stroke="#6a6a6a" stroke-width="10.16" stroke-linecap="round"/>
<line x1="501.8" y1="156.0" x2="525.6" y2="149.4" stroke="#9c9c9c" stroke-width="7.52" stroke-linecap="round"/>
<line x1="501.7" y1="155.4" x2="525.4" y2="148.8" stroke="#bdbdbd" stroke-width="3.66" stroke-linecap="round"/>
<line x1="457.2" y1="187.6" x2="483.5" y2="171.1" stroke="#6a6a6a" stroke-width="8.71" stroke-linecap="round"/>
<line x1="456.9" y1="187.2" x2="483.3" y2="170.7" stroke="#9c9c9c" stroke-width="6.44" stroke-linecap="round"/>
<line x1="456.6" y1="186.7" x2="483.0" y2="170.2" stroke="#bdbdbd" stroke-width="3.13" stroke-linecap="round"/>
<line x1="440.0" y1="188.3" x2="457.2" y2="187.6" stroke="#8e8e8e" stroke-width="6.53" stroke-linecap="round"/>
<line x1="440.0" y1="187.9" x2="457.1" y2="187.2" stroke="#c6c6c6" stroke-width="4.83" stroke-linecap="round"/>
<line x1="440.0" y1="187.5" x2="457.1" y2="186.8" stroke="#ededed" stroke-width="2.35" stroke-linecap="round"/>
<line x1="440.0" y1="169.8" x2="447.9" y2="189.6" stroke="#8e8e8e" stroke-width="8.71" stroke-linecap="round"/>
<line x1="439.5" y1="170.0" x2="447.4" y2="189.8" stroke="#c6c6c6" stroke-width="6.44" stroke-linecap="round"/>
<line x1="439.0" y1="170.2" x2="446.9" y2="190.0" stroke="#ededed" stroke-width="3.13" stroke-linecap="round"/>
<line x1="451.9" y1="189.6" x2="470.3" y2="223.9" stroke="#8e8e8e" stroke-width="8.71" stroke-linecap="round"/>
<line x1="451.4" y1="189.8" x2="469.9" y2="224.1" stroke="#c6c6c6" stroke-width="6.44" stroke-linecap="round"/>
<line x1="451.0" y1="190.1" x2="469.4" y2="224.4" stroke="#ededed" stroke-width="3.13" stroke-linecap="round"/>
<line x1="508.6" y1="173.7" x2="529.7" y2="165.8" stroke="#8e8e8e" stroke-width="3.63" stroke-linecap="round"/>
<line x1="508.5" y1="173.5" x2="529.6" y2="165.6" stroke="#c6c6c6" stroke-width="2.68" stroke-linecap="round"/>
<line x1="508.4" y1="173.3" x2="529.6" y2="165.4" stroke="#ededed" stroke-width="1.31" stroke-linecap="round"/>
<line x1="529.7" y1="165.8" x2="545.5" y2="180.3" stroke="#8e8e8e" stroke-width="7.26" stroke-linecap="round"/>
<line x1="530.0" y1="165.5" x2="545.8" y2="180.0" stroke="#c6c6c6" stroke-width="5.37" stroke-linecap="round"/>
<line x1="530.3" y1="165.2" x2="546.1" y2="179.7" stroke="#ededed" stroke-width="2.61" stroke-linecap="round"/>
<line x1="538.9" y1="154.0" x2="552.1" y2="184.3" stroke="#8e8e8e" stroke-width="5.80" stroke-linecap="round"/>
<line x1="538.6" y1="154.1" x2="551.8" y2="184.4" stroke="#c6c6c6" stroke-width="4.30" stroke-linecap="round"/>
<line x1="538.3" y1="154.2" x2="551.5" y2="184.6" stroke="#ededed" stroke-width="2.09" stroke-linecap="round"/>
<line x1="553.5" y1="156.6" x2="571.9" y2="173.7" stroke="#8e8e8e" stroke-width="8.71" stroke-linecap="round"/>
<line x1="553.8" y1="156.2" x2="572.3" y2="173.4" stroke="#c6c6c6" stroke-width="6.44" stroke-linecap="round"/>
<line x1="554.2" y1="155.8" x2="572.6" y2="173.0" stroke="#ededed" stroke-width="3.13" stroke-linecap="round"/>
<line x1="549.5" y1="156.6" x2="580.0" y2="150.0" stroke="#8e8e8e" stroke-width="4.35" stroke-linecap="round"/>
<line x1="549.4" y1="156.3" x2="579.9" y2="149.7" stroke="#c6c6c6" stroke-width="3.22" stroke-linecap="round"/>
<line x1="549.4" y1="156.1" x2="579.9" y2="149.5" stroke="#ededed" stroke-width="1.57" stroke-linecap="round"/>
<line x1="548.2" y1="210.7" x2="571.9" y2="184.3" stroke="#8e8e8e" stroke-width="5.80" stroke-linecap="round"/>
<line x1="547.9" y1="210.5" x2="571.7" y2="184.1" stroke="#c6c6c6" stroke-width="4.30" stroke-linecap="round"/>
<line x1="547.7" y1="210.2" x2="571.4" y2="183.8" stroke="#ededed" stroke-width="2.09" stroke-linecap="round"/>
<line x1="565.3" y1="188.3" x2="553.5" y2="241.0" stroke="#8e8e8e" stroke-width="2.18" stroke-linecap="round"/>
<line x1="565.2" y1="188.2" x2="553.3" y2="241.0" stroke="#c6c6c6" stroke-width="1.61" stroke-linecap="round"/>
<line x1="565.1" y1="188.2" x2="553.2" y2="241.0" stroke="#ededed" stroke-width="0.78" stroke-linecap="round"/>
<line x1="543.6" y1="216.0" x2="553.5" y2="247.6" stroke="#8e8e8e" stroke-width="5.08" stroke-linecap="round"/>
<line x1="543.3" y1="216.1" x2="553.2" y2="247.7" stroke="#c6c6c6" stroke-width="3.76" stroke-linecap="round"/>
<line x1="543.0" y1="216.1" x2="552.9" y2="247.8" stroke="#ededed" stroke-width="1.83" stroke-linecap="round"/>
<line x1="523.1" y1="200.1" x2="537.6" y2="206.7" stroke="#8e8e8e" stroke-width="2.90" stroke-linecap="round"/>
<line x1="523.2" y1="200.0" x2="537.7" y2="206.6" stroke="#c6c6c6" stroke-width="2.15" stroke-linecap="round"/>
<line x1="523.3" y1="199.8" x2="537.8" y2="206.4" stroke="#ededed" stroke-width="1.04" stroke-linecap="round"/>
<line x1="531.0" y1="184.3" x2="540.3" y2="208.0" stroke="#8e8e8e" stroke-width="1.74" stroke-linecap="round"/>
<line x1="530.9" y1="184.3" x2="540.2" y2="208.1" stroke="#c6c6c6" stroke-width="1.29" stroke-linecap="round"/>
<line x1="530.8" y1="184.4" x2="540.1" y2="208.1" stroke="#ededed" stroke-width="0.63" stroke-linecap="round"/>
<line x1="537.6" y1="189.6" x2="549.5" y2="184.3" stroke="#8e8e8e" stroke-width="1.45" stroke-linecap="round"/>
<line x1="491.5" y1="201.5" x2="511.2" y2="209.4" stroke="#8e8e8e" stroke-width="2.61" stroke-linecap="round"/>
<line x1="491.5" y1="201.3" x2="511.3" y2="209.2" stroke="#c6c6c6" stroke-width="1.93" stroke-linecap="round"/>
<line x1="491.6" y1="201.2" x2="511.4" y2="209.1" stroke="#ededed" stroke-width="0.94" stroke-linecap="round"/>
<line x1="511.2" y1="209.4" x2="545.5" y2="242.3" stroke="#8e8e8e" stroke-width="2.61" stroke-linecap="round"/>
<line x1="511.3" y1="209.3" x2="545.6" y2="242.2" stroke="#c6c6c6" stroke-width="1.93" stroke-linecap="round"/>
<line x1="511.5" y1="209.1" x2="545.8" y2="242.1" stroke="#ededed" stroke-width="0.94" stroke-linecap="round"/>
<line x1="491.5" y1="201.5" x2="506.0" y2="176.4" stroke="#8e8e8e" stroke-width="1.45" stroke-linecap="round"/>
<line x1="482.2" y1="194.9" x2="491.5" y2="201.5" stroke="#8e8e8e" stroke-width="1.45" stroke-linecap="round"/>
<line x1="491.5" y1="201.5" x2="466.4" y2="213.3" stroke="#8e8e8e" stroke-width="2.18" stroke-linecap="round"/>
<line x1="491.4" y1="201.3" x2="466.3" y2="213.2" stroke="#c6c6c6" stroke-width="1.61" stroke-linecap="round"/>
<line x1="491.3" y1="201.2" x2="466.3" y2="213.1" stroke="#ededed" stroke-width="0.78" stroke-linecap="round"/>
<line x1="482.2" y1="176.4" x2="458.5" y2="239.7" stroke="#8e8e8e" stroke-width="2.90" stroke-linecap="round"/>
<line x1="482.1" y1="176.3" x2="458.3" y2="239.6" stroke="#c6c6c6" stroke-width="2.15" stroke-linecap="round"/>
<line x1="481.9" y1="176.3" x2="458.1" y2="239.6" stroke="#ededed" stroke-width="1.04" stroke-linecap="round"/>
<line x1="506.0" y1="235.8" x2="542.9" y2="239.7" stroke="#8e8e8e" stroke-width="4.35" stroke-linecap="round"/>
<line x1="506.0" y1="235.5" x2="542.9" y2="239.5" stroke="#c6c6c6" stroke-width="3.22" stroke-linecap="round"/>
<line x1="506.0" y1="235.2" x2="543.0" y2="239.2" stroke="#ededed" stroke-width="1.57" stroke-linecap="round"/>
<line x1="495.4" y1="241.0" x2="542.9" y2="246.3" stroke="#8e8e8e" stroke-width="3.63" stroke-linecap="round"/>
<line x1="495.4" y1="240.8" x2="542.9" y2="246.1" stroke="#c6c6c6" stroke-width="2.68" stroke-linecap="round"/>
<line x1="495.5" y1="240.6" x2="543.0" y2="245.9" stroke="#ededed" stroke-width="1.31" stroke-linecap="round"/>
<line x1="466.4" y1="242.3" x2="507.3" y2="245.0" stroke="#6a6a6a" stroke-width="7.26" stroke-linecap="round"/>
<line x1="466.4" y1="241.9" x2="507.3" y2="244.6" stroke="#9c9c9c" stroke-width="5.37" stroke-linecap="round"/>
<line x1="466.4" y1="241.5" x2="507.3" y2="244.1" stroke="#bdbdbd" stroke-width="2.61" stroke-linecap="round"/>
<line x1="490.1" y1="250.3" x2="508.6" y2="258.2" stroke="#6a6a6a" stroke-width="8.71" stroke-linecap="round"/>
<line x1="490.3" y1="249.8" x2="508.8" y2="257.7" stroke="#9c9c9c" stroke-width="6.44" stroke-linecap="round"/>
<line x1="490.5" y1="249.3" x2="509.0" y2="257.2" stroke="#bdbdbd" stroke-width="3.13" stroke-linecap="round"/>
<line x1="506.0" y1="252.9" x2="545.5" y2="245.0" stroke="#6a6a6a" stroke-width="8.71" stroke-linecap="round"/>
<line x1="505.9" y1="252.4" x2="545.4" y2="244.5" stroke="#9c9c9c" stroke-width="6.44" stroke-linecap="round"/>
<line x1="505.8" y1="251.9" x2="545.3" y2="244.0" stroke="#bdbdbd" stroke-width="3.13" stroke-linecap="round"/>
<line x1="466.4" y1="255.5" x2="511.2" y2="263.5" stroke="#8e8e8e" stroke-width="4.35" stroke-linecap="round"/>
<line x1="466.4" y1="255.3" x2="511.3" y2="263.2" stroke="#c6c6c6" stroke-width="3.22" stroke-linecap="round"/>
<line x1="466.5" y1="255.0" x2="511.3" y2="262.9" stroke="#ededed" stroke-width="1.57" stroke-linecap="round"/>
<line x1="489.5" y1="268.7" x2="511.2" y2="263.5" stroke="#6a6a6a" stroke-width="8.71" stroke-linecap="round"/>
<line x1="489.3" y1="268.2" x2="511.1" y2="262.9" stroke="#9c9c9c" stroke-width="6.44" stroke-linecap="round"/>
<line x1="489.2" y1="267.7" x2="511.0" y2="262.4" stroke="#bdbdbd" stroke-width="3.13" stroke-linecap="round"/>
<line x1="511.2" y1="264.8" x2="544.2" y2="247.6" stroke="#8e8e8e" stroke-width="3.63" stroke-linecap="round"/>
<line x1="511.1" y1="264.6" x2="544.1" y2="247.4" stroke="#c6c6c6" stroke-width="2.68" stroke-linecap="round"/>
<line x1="511.0" y1="264.4" x2="544.0" y2="247.2" stroke="#ededed" stroke-width="1.31" stroke-linecap="round"/>
<line x1="513.9" y1="290.0" x2="542.9" y2="247.6" stroke="#8e8e8e" stroke-width="4.35" stroke-linecap="round"/>
<line x1="513.7" y1="289.8" x2="542.7" y2="247.5" stroke="#c6c6c6" stroke-width="3.22" stroke-linecap="round"/>
<line x1="513.4" y1="289.7" x2="542.5" y2="247.3" stroke="#ededed" stroke-width="1.57" stroke-linecap="round"/>
<line x1="553.5" y1="247.6" x2="571.9" y2="266.1" stroke="#6a6a6a" stroke-width="7.26" stroke-linecap="round"/>
<line x1="553.8" y1="247.3" x2="572.2" y2="265.8" stroke="#9c9c9c" stroke-width="5.37" stroke-linecap="round"/>
<line x1="554.1" y1="247.0" x2="572.5" y2="265.5" stroke="#bdbdbd" stroke-width="2.61" stroke-linecap="round"/>
<line x1="553.5" y1="252.9" x2="560.1" y2="263.5" stroke="#6a6a6a" stroke-width="7.26" stroke-linecap="round"/>
<line x1="553.1" y1="253.1" x2="559.7" y2="263.7" stroke="#9c9c9c" stroke-width="5.37" stroke-linecap="round"/>
<line x1="552.7" y1="253.4" x2="559.3" y2="263.9" stroke="#bdbdbd" stroke-width="2.61" stroke-linecap="round"/>
<line x1="440.0" y1="259.5" x2="462.4" y2="267.4" stroke="#8e8e8e" stroke-width="3.63" stroke-linecap="round"/>
<line x1="440.1" y1="259.3" x2="462.5" y2="267.2" stroke="#c6c6c6" stroke-width="2.68" stroke-linecap="round"/>
<line x1="440.1" y1="259.1" x2="462.6" y2="267.0" stroke="#ededed" stroke-width="1.31" stroke-linecap="round"/>
<line x1="447.9" y1="290.0" x2="453.2" y2="262.1" stroke="#8e8e8e" stroke-width="4.35" stroke-linecap="round"/>
<line x1="447.7" y1="289.9" x2="452.9" y2="262.1" stroke="#c6c6c6" stroke-width="3.22" stroke-linecap="round"/>
<line x1="447.4" y1="289.9" x2="452.7" y2="262.0" stroke="#ededed" stroke-width="1.57" stroke-linecap="round"/>
<line x1="479.6" y1="290.0" x2="484.9" y2="273.4" stroke="#8e8e8e" stroke-width="3.63" stroke-linecap="round"/>
<line x1="479.4" y1="289.9" x2="484.6" y2="273.3" stroke="#c6c6c6" stroke-width="2.68" stroke-linecap="round"/>
<line x1="479.2" y1="289.8" x2="484.4" y2="273.2" stroke="#ededed" stroke-width="1.31" stroke-linecap="round"/>
<line x1="440.0" y1="208.0" x2="447.9" y2="202.8" stroke="#8e8e8e" stroke-width="2.18" stroke-linecap="round"/>
<line x1="439.9" y1="207.9" x2="447.8" y2="202.7" stroke="#c6c6c6" stroke-width="1.61" stroke-linecap="round"/>
<line x1="439.9" y1="207.8" x2="447.8" y2="202.6" stroke="#ededed" stroke-width="0.78" stroke-linecap="round"/>
<line x1="440.0" y1="212.0" x2="457.2" y2="219.9" stroke="#8e8e8e" stroke-width="2.90" stroke-linecap="round"/>
<line x1="440.1" y1="211.8" x2="457.2" y2="219.8" stroke="#c6c6c6" stroke-width="2.15" stroke-linecap="round"/>
<line x1="440.1" y1="211.7" x2="457.3" y2="219.6" stroke="#ededed" stroke-width="1.04" stroke-linecap="round"/>
<line x1="444.0" y1="226.5" x2="453.2" y2="252.9" stroke="#4e4e4e" stroke-width="7.26" stroke-linecap="round"/>
<line x1="443.5" y1="226.7" x2="452.8" y2="253.0" stroke="#767676" stroke-width="5.37" stroke-linecap="round"/>
<line x1="443.1" y1="226.8" x2="452.4" y2="253.2" stroke="#949494" stroke-width="2.61" stroke-linecap="round"/>
<line x1="532.3" y1="268.7" x2="558.7" y2="270.1" stroke="#8e8e8e" stroke-width="4.35" stroke-linecap="round"/>
<line x1="532.4" y1="268.5" x2="558.7" y2="269.8" stroke="#c6c6c6" stroke-width="3.22" stroke-linecap="round"/>
<line x1="532.4" y1="268.2" x2="558.8" y2="269.5" stroke="#ededed" stroke-width="1.57" stroke-linecap="round"/>
<line x1="490.1" y1="290.0" x2="486.2" y2="272.7" stroke="#8e8e8e" stroke-width="2.90" stroke-linecap="round"/>
<line x1="490.0" y1="290.0" x2="486.0" y2="272.7" stroke="#c6c6c6" stroke-width="2.15" stroke-linecap="round"/>
<line x1="489.8" y1="290.1" x2="485.8" y2="272.8" stroke="#ededed" stroke-width="1.04" stroke-linecap="round"/>
<line x1="519.2" y1="275.3" x2="532.3" y2="290.0" stroke="#8e8e8e" stroke-width="1.45" stroke-linecap="round"/>
<line x1="500.7" y1="252.9" x2="500.7" y2="290.0" stroke="#8e8e8e" stroke-width="1.45" stroke-linecap="round"/>
<line x1="556.1" y1="290.0" x2="548.2" y2="268.7" stroke="#8e8e8e" stroke-width="2.18" stroke-linecap="round"/>
<line x1="556.0" y1="290.0" x2="548.1" y2="268.8" stroke="#c6c6c6" stroke-width="1.61" stroke-linecap="round"/>
<line x1="555.9" y1="290.1" x2="547.9" y2="268.8" stroke="#ededed" stroke-width="0.78" stroke-linecap="round"/>
<line x1="571.9" y1="266.1" x2="577.2" y2="290.0" stroke="#8e8e8e" stroke-width="2.90" stroke-linecap="round"/>
<line x1="571.8" y1="266.1" x2="577.0" y2="290.0" stroke="#c6c6c6" stroke-width="2.15" stroke-linecap="round"/>
<line x1="571.6" y1="266.2" x2="576.9" y2="290.0" stroke="#ededed" stroke-width="1.04" stroke-linecap="round"/>
<line x1="440.0" y1="157.9" x2="459.8" y2="150.0" stroke="#8e8e8e" stroke-width="1.45" stroke-linecap="round"/>
<line x1="440.0" y1="176.4" x2="466.4" y2="163.2" stroke="#8e8e8e" stroke-width="1.45" stroke-linecap="round"/>
<line x1="453.2" y1="150.0" x2="455.8" y2="189.6" stroke="#8e8e8e" stroke-width="1.16" stroke-linecap="round"/>
<line x1="459.8" y1="189.6" x2="483.5" y2="229.2" stroke="#8e8e8e" stroke-width="1.45" stroke-linecap="round"/>
<line x1="466.4" y1="229.2" x2="483.5" y2="242.3" stroke="#8e8e8e" stroke-width="1.45" stroke-linecap="round"/>
<line x1="300.0" y1="210.0" x2="318.5" y2="231.1" stroke="#8e8e8e" stroke-width="7.26" stroke-linecap="round"/>
<line x1="299.7" y1="210.3" x2="318.1" y2="231.4" stroke="#c6c6c6" stroke-width="5.37" stroke-linecap="round"/>
<line x1="299.3" y1="210.6" x2="317.8" y2="231.7" stroke="#ededed" stroke-width="2.61" stroke-linecap="round"/>
<line x1="326.4" y1="210.0" x2="319.8" y2="236.4" stroke="#6a6a6a" stroke-width="4.35" stroke-linecap="round"/>
<line x1="326.1" y1="209.9" x2="319.5" y2="236.3" stroke="#9c9c9c" stroke-width="3.22" stroke-linecap="round"/>
<line x1="325.9" y1="209.9" x2="319.3" y2="236.3" stroke="#bdbdbd" stroke-width="1.57" stroke-linecap="round"/>
<line x1="339.6" y1="217.9" x2="355.4" y2="220.6" stroke="#6a6a6a" stroke-width="7.26" stroke-linecap="round"/>
<line x1="339.6" y1="217.5" x2="355.5" y2="220.1" stroke="#9c9c9c" stroke-width="5.37" stroke-linecap="round"/>
<line x1="339.7" y1="217.1" x2="355.6" y2="219.7" stroke="#bdbdbd" stroke-width="2.61" stroke-linecap="round"/>
<line x1="355.4" y1="223.2" x2="395.0" y2="246.9" stroke="#8e8e8e" stroke-width="7.26" stroke-linecap="round"/>
<line x1="355.6" y1="222.8" x2="395.2" y2="246.6" stroke="#c6c6c6" stroke-width="5.37" stroke-linecap="round"/>
<line x1="355.9" y1="222.4" x2="395.4" y2="246.2" stroke="#ededed" stroke-width="2.61" stroke-linecap="round"/>
<line x1="366.0" y1="227.2" x2="416.1" y2="235.1" stroke="#8e8e8e" stroke-width="4.35" stroke-linecap="round"/>
<line x1="366.0" y1="226.9" x2="416.1" y2="234.8" stroke="#c6c6c6" stroke-width="3.22" stroke-linecap="round"/>
<line x1="366.0" y1="226.6" x2="416.2" y2="234.5" stroke="#ededed" stroke-width="1.57" stroke-linecap="round"/>
<line x1="396.3" y1="246.9" x2="440.0" y2="253.5" stroke="#8e8e8e" stroke-width="5.08" stroke-linecap="round"/>
<line x1="396.4" y1="246.6" x2="440.0" y2="253.2" stroke="#c6c6c6" stroke-width="3.76" stroke-linecap="round"/>
<line x1="396.4" y1="246.3" x2="440.1" y2="252.9" stroke="#ededed" stroke-width="1.83" stroke-linecap="round"/>
<line x1="387.1" y1="254.9" x2="440.0" y2="253.5" stroke="#8e8e8e" stroke-width="4.35" stroke-linecap="round"/>
<line x1="387.1" y1="254.6" x2="440.0" y2="253.3" stroke="#c6c6c6" stroke-width="3.22" stroke-linecap="round"/>
<line x1="387.1" y1="254.3" x2="440.0" y2="253.0" stroke="#ededed" stroke-width="1.57" stroke-linecap="round"/>
<line x1="416.1" y1="235.1" x2="440.0" y2="216.6" stroke="#8e8e8e" stroke-width="5.08" stroke-linecap="round"/>
<line x1="415.9" y1="234.8" x2="439.8" y2="216.4" stroke="#c6c6c6" stroke-width="3.76" stroke-linecap="round"/>
<line x1="415.7" y1="234.6" x2="439.6" y2="216.1" stroke="#ededed" stroke-width="1.83" stroke-linecap="round"/>
<line x1="402.9" y1="210.0" x2="413.5" y2="229.8" stroke="#8e8e8e" stroke-width="5.80" stroke-linecap="round"/>
<line x1="402.6" y1="210.2" x2="413.1" y2="230.0" stroke="#c6c6c6" stroke-width="4.30" stroke-linecap="round"/>
<line x1="402.3" y1="210.3" x2="412.8" y2="230.1" stroke="#ededed" stroke-width="2.09" stroke-linecap="round"/>
<line x1="392.3" y1="210.0" x2="400.3" y2="229.8" stroke="#8e8e8e" stroke-width="3.63" stroke-linecap="round"/>
<line x1="392.1" y1="210.1" x2="400.1" y2="229.9" stroke="#c6c6c6" stroke-width="2.68" stroke-linecap="round"/>
<line x1="391.9" y1="210.2" x2="399.9" y2="230.0" stroke="#ededed" stroke-width="1.31" stroke-linecap="round"/>
<line x1="416.1" y1="279.9" x2="440.0" y2="262.8" stroke="#8e8e8e" stroke-width="7.26" stroke-linecap="round"/>
<line x1="415.8" y1="279.6" x2="439.7" y2="262.4" stroke="#c6c6c6" stroke-width="5.37" stroke-linecap="round"/>
<line x1="415.6" y1="279.2" x2="439.5" y2="262.1" stroke="#ededed" stroke-width="2.61" stroke-linecap="round"/>
<line x1="416.1" y1="279.9" x2="405.5" y2="291.8" stroke="#6a6a6a" stroke-width="5.80" stroke-linecap="round"/>
<line x1="415.8" y1="279.7" x2="405.3" y2="291.6" stroke="#9c9c9c" stroke-width="4.30" stroke-linecap="round"/>
<line x1="415.6" y1="279.5" x2="405.0" y2="291.3" stroke="#bdbdbd" stroke-width="2.09" stroke-linecap="round"/>
<line x1="366.0" y1="268.0" x2="400.3" y2="283.9" stroke="#8e8e8e" stroke-width="6.53" stroke-linecap="round"/>
<line x1="366.1" y1="267.7" x2="400.4" y2="283.5" stroke="#c6c6c6" stroke-width="4.83" stroke-linecap="round"/>
<line x1="366.3" y1="267.3" x2="400.6" y2="283.2" stroke="#ededed" stroke-width="2.35" stroke-linecap="round"/>
<line x1="362.0" y1="289.2" x2="405.5" y2="290.5" stroke="#8e8e8e" stroke-width="5.80" stroke-linecap="round"/>
<line x1="362.0" y1="288.8" x2="405.6" y2="290.1" stroke="#c6c6c6" stroke-width="4.30" stroke-linecap="round"/>
<line x1="362.0" y1="288.5" x2="405.6" y2="289.8" stroke="#ededed" stroke-width="2.09" stroke-linecap="round"/>
<line x1="347.5" y1="295.8" x2="405.5" y2="289.2" stroke="#8e8e8e" stroke-width="4.35" stroke-linecap="round"/>
<line x1="347.5" y1="295.5" x2="405.5" y2="288.9" stroke="#c6c6c6" stroke-width="3.22" stroke-linecap="round"/>
<line x1="347.4" y1="295.2" x2="405.5" y2="288.6" stroke="#ededed" stroke-width="1.57" stroke-linecap="round"/>
<line x1="355.4" y1="283.9" x2="348.8" y2="295.8" stroke="#6a6a6a" stroke-width="5.08" stroke-linecap="round"/>
<line x1="355.1" y1="283.7" x2="348.5" y2="295.6" stroke="#9c9c9c" stroke-width="3.76" stroke-linecap="round"/>
<line x1="354.9" y1="283.6" x2="348.3" y2="295.5" stroke="#bdbdbd" stroke-width="1.83" stroke-linecap="round"/>
<line x1="339.6" y1="308.9" x2="358.0" y2="310.3" stroke="#6a6a6a" stroke-width="5.80" stroke-linecap="round"/>
<line x1="339.6" y1="308.6" x2="358.1" y2="309.9" stroke="#9c9c9c" stroke-width="4.30" stroke-linecap="round"/>
<line x1="339.6" y1="308.2" x2="358.1" y2="309.6" stroke="#bdbdbd" stroke-width="2.09" stroke-linecap="round"/>
<line x1="329.0" y1="315.5" x2="355.4" y2="315.5" stroke="#8e8e8e" stroke-width="5.80" stroke-linecap="round"/>
<line x1="329.0" y1="315.2" x2="355.4" y2="315.2" stroke="#c6c6c6" stroke-width="4.30" stroke-linecap="round"/>
<line x1="329.0" y1="314.8" x2="355.4" y2="314.8" stroke="#ededed" stroke-width="2.09" stroke-linecap="round"/>
<line x1="363.3" y1="315.5" x2="401.6" y2="320.8" stroke="#8e8e8e" stroke-width="2.90" stroke-linecap="round"/>
<line x1="363.3" y1="315.4" x2="401.6" y2="320.6" stroke="#c6c6c6" stroke-width="2.15" stroke-linecap="round"/>
<line x1="363.4" y1="315.2" x2="401.6" y2="320.5" stroke="#ededed" stroke-width="1.04" stroke-linecap="round"/>
<line x1="352.8" y1="315.5" x2="355.4" y2="350.0" stroke="#8e8e8e" stroke-width="3.63" stroke-linecap="round"/>
<line x1="352.6" y1="315.6" x2="355.2" y2="350.0" stroke="#c6c6c6" stroke-width="2.68" stroke-linecap="round"/>
<line x1="352.3" y1="315.6" x2="355.0" y2="350.0" stroke="#ededed" stroke-width="1.31" stroke-linecap="round"/>
<line x1="358.0" y1="315.5" x2="373.9" y2="350.0" stroke="#8e8e8e" stroke-width="2.90" stroke-linecap="round"/>
<line x1="357.9" y1="315.6" x2="373.7" y2="350.0" stroke="#c6c6c6" stroke-width="2.15" stroke-linecap="round"/>
<line x1="357.7" y1="315.7" x2="373.6" y2="350.1" stroke="#ededed" stroke-width="1.04" stroke-linecap="round"/>
<line x1="323.7" y1="350.0" x2="335.6" y2="326.1" stroke="#8e8e8e" stroke-width="5.08" stroke-linecap="round"/>
<line x1="323.5" y1="349.8" x2="335.3" y2="326.0" stroke="#c6c6c6" stroke-width="3.76" stroke-linecap="round"/>
<line x1="323.2" y1="349.7" x2="335.1" y2="325.8" stroke="#ededed" stroke-width="1.83" stroke-linecap="round"/>
<line x1="401.6" y1="322.1" x2="392.3" y2="350.0" stroke="#8e8e8e" stroke-width="1.45" stroke-linecap="round"/>
<line x1="401.6" y1="322.1" x2="408.2" y2="350.0" stroke="#8e8e8e" stroke-width="1.45" stroke-linecap="round"/>
<line x1="418.7" y1="305.0" x2="418.7" y2="350.0" stroke="#8e8e8e" stroke-width="2.90" stroke-linecap="round"/>
<line x1="418.6" y1="305.0" x2="418.6" y2="350.0" stroke="#c6c6c6" stroke-width="2.15" stroke-linecap="round"/>
<line x1="418.4" y1="305.0" x2="418.4" y2="350.0" stroke="#ededed" stroke-width="1.04" stroke-linecap="round"/>
<line x1="426.6" y1="306.3" x2="418.7" y2="344.6" stroke="#8e8e8e" stroke-width="2.18" stroke-linecap="round"/>
<line x1="426.5" y1="306.3" x2="418.6" y2="344.5" stroke="#c6c6c6" stroke-width="1.61" stroke-linecap="round"/>
<line x1="426.4" y1="306.3" x2="418.5" y2="344.5" stroke="#ededed" stroke-width="0.78" stroke-linecap="round"/>
<line x1="300.0" y1="272.0" x2="307.9" y2="268.0" stroke="#6a6a6a" stroke-width="5.80" stroke-linecap="round"/>
<line x1="299.8" y1="271.7" x2="307.8" y2="267.7" stroke="#9c9c9c" stroke-width="4.30" stroke-linecap="round"/>
<line x1="299.7" y1="271.4" x2="307.6" y2="267.4" stroke="#bdbdbd" stroke-width="2.09" stroke-linecap="round"/>
<line x1="313.2" y1="281.2" x2="346.2" y2="274.6" stroke="#8e8e8e" stroke-width="3.63" stroke-linecap="round"/>
<line x1="313.1" y1="281.0" x2="346.1" y2="274.4" stroke="#c6c6c6" stroke-width="2.68" stroke-linecap="round"/>
<line x1="313.1" y1="280.8" x2="346.1" y2="274.2" stroke="#ededed" stroke-width="1.31" stroke-linecap="round"/>
<line x1="313.2" y1="281.2" x2="326.4" y2="260.1" stroke="#8e8e8e" stroke-width="3.63" stroke-linecap="round"/>
<line x1="313.0" y1="281.1" x2="326.2" y2="260.0" stroke="#c6c6c6" stroke-width="2.68" stroke-linecap="round"/>
<line x1="312.8" y1="281.0" x2="326.0" y2="259.9" stroke="#ededed" stroke-width="1.31" stroke-linecap="round"/>
<line x1="300.0" y1="243.0" x2="321.1" y2="253.5" stroke="#8e8e8e" stroke-width="2.90" stroke-linecap="round"/>
<line x1="300.1" y1="242.8" x2="321.2" y2="253.4" stroke="#c6c6c6" stroke-width="2.15" stroke-linecap="round"/>
<line x1="300.2" y1="242.7" x2="321.3" y2="253.2" stroke="#ededed" stroke-width="1.04" stroke-linecap="round"/>
<line x1="302.6" y1="257.5" x2="307.9" y2="249.6" stroke="#8e8e8e" stroke-width="2.18" stroke-linecap="round"/>
<line x1="302.5" y1="257.4" x2="307.8" y2="249.5" stroke="#c6c6c6" stroke-width="1.61" stroke-linecap="round"/>
<line x1="302.4" y1="257.3" x2="307.7" y2="249.4" stroke="#ededed" stroke-width="0.78" stroke-linecap="round"/>
<line x1="326.4" y1="276.0" x2="344.9" y2="276.0" stroke="#8e8e8e" stroke-width="4.35" stroke-linecap="round"/>
<line x1="326.4" y1="275.7" x2="344.9" y2="275.7" stroke="#c6c6c6" stroke-width="3.22" stroke-linecap="round"/>
<line x1="326.4" y1="275.4" x2="344.9" y2="275.4" stroke="#ededed" stroke-width="1.57" stroke-linecap="round"/>
<line x1="319.8" y1="235.1" x2="355.4" y2="229.8" stroke="#8e8e8e" stroke-width="3.63" stroke-linecap="round"/>
<line x1="319.8" y1="234.9" x2="355.4" y2="229.6" stroke="#c6c6c6" stroke-width="2.68" stroke-linecap="round"/>
<line x1="319.7" y1="234.6" x2="355.3" y2="229.4" stroke="#ededed" stroke-width="1.31" stroke-linecap="round"/>
<line x1="330.3" y1="245.6" x2="339.6" y2="223.2" stroke="#8e8e8e" stroke-width="2.18" stroke-linecap="round"/>
<line x1="330.2" y1="245.6" x2="339.5" y2="223.1" stroke="#c6c6c6" stroke-width="1.61" stroke-linecap="round"/>
<line x1="330.1" y1="245.5" x2="339.3" y2="223.1" stroke="#ededed" stroke-width="0.78" stroke-linecap="round"/>
<line x1="335.6" y1="229.8" x2="339.6" y2="252.2" stroke="#8e8e8e" stroke-width="2.18" stroke-linecap="round"/>
<line x1="335.5" y1="229.8" x2="339.4" y2="252.2" stroke="#c6c6c6" stroke-width="1.61" stroke-linecap="round"/>
<line x1="335.4" y1="229.8" x2="339.3" y2="252.3" stroke="#ededed" stroke-width="0.78" stroke-linecap="round"/>
<line x1="343.5" y1="243.0" x2="363.3" y2="249.6" stroke="#8e8e8e" stroke-width="2.90" stroke-linecap="round"/>
<line x1="343.6" y1="242.8" x2="363.4" y2="249.4" stroke="#c6c6c6" stroke-width="2.15" stroke-linecap="round"/>
<line x1="343.6" y1="242.7" x2="363.4" y2="249.2" stroke="#ededed" stroke-width="1.04" stroke-linecap="round"/>
<line x1="363.3" y1="249.6" x2="379.2" y2="231.1" stroke="#8e8e8e" stroke-width="2.18" stroke-linecap="round"/>
<line x1="363.2" y1="249.5" x2="379.1" y2="231.0" stroke="#c6c6c6" stroke-width="1.61" stroke-linecap="round"/>
<line x1="363.1" y1="249.4" x2="379.0" y2="230.9" stroke="#ededed" stroke-width="0.78" stroke-linecap="round"/>
<line x1="379.2" y1="253.5" x2="431.9" y2="260.1" stroke="#8e8e8e" stroke-width="3.63" stroke-linecap="round"/>
<line x1="379.2" y1="253.3" x2="432.0" y2="259.9" stroke="#c6c6c6" stroke-width="2.68" stroke-linecap="round"/>
<line x1="379.2" y1="253.1" x2="432.0" y2="259.7" stroke="#ededed" stroke-width="1.31" stroke-linecap="round"/>
<line x1="424.0" y1="261.5" x2="440.0" y2="260.1" stroke="#8e8e8e" stroke-width="4.35" stroke-linecap="round"/>
<line x1="424.0" y1="261.2" x2="440.0" y2="259.9" stroke="#c6c6c6" stroke-width="3.22" stroke-linecap="round"/>
<line x1="424.0" y1="260.9" x2="439.9" y2="259.6" stroke="#ededed" stroke-width="1.57" stroke-linecap="round"/>
<line x1="409.5" y1="299.7" x2="401.6" y2="322.1" stroke="#8e8e8e" stroke-width="1.45" stroke-linecap="round"/>
<line x1="430.6" y1="295.8" x2="440.0" y2="289.2" stroke="#8e8e8e" stroke-width="2.90" stroke-linecap="round"/>
<line x1="430.5" y1="295.6" x2="439.9" y2="289.0" stroke="#c6c6c6" stroke-width="2.15" stroke-linecap="round"/>
<line x1="430.4" y1="295.5" x2="439.8" y2="288.9" stroke="#ededed" stroke-width="1.04" stroke-linecap="round"/>
<line x1="300.0" y1="334.0" x2="310.6" y2="350.0" stroke="#8e8e8e" stroke-width="0.58" stroke-linecap="round"/>
<line x1="300.0" y1="260.1" x2="321.1" y2="260.1" stroke="#8e8e8e" stroke-width="1.45" stroke-linecap="round"/>
<line x1="379.2" y1="302.3" x2="418.7" y2="302.3" stroke="#8e8e8e" stroke-width="1.45" stroke-linecap="round"/>
<line x1="366.0" y1="302.3" x2="401.6" y2="320.8" stroke="#8e8e8e" stroke-width="1.16" stroke-linecap="round"/>
<line x1="327.7" y1="289.2" x2="339.6" y2="308.9" stroke="#8e8e8e" stroke-width="1.45" stroke-linecap="round"/>
<line x1="325.1" y1="286.5" x2="355.4" y2="283.9" stroke="#8e8e8e" stroke-width="1.45" stroke-linecap="round"/>
<line x1="417.7" y1="35.4" x2="434.3" y2="33.1" stroke="#8e8e8e" stroke-width="5.66" stroke-linecap="round"/>
<line x1="417.7" y1="35.1" x2="434.2" y2="32.8" stroke="#c6c6c6" stroke-width="4.19" stroke-linecap="round"/>
<line x1="417.6" y1="34.8" x2="434.2" y2="32.5" stroke="#ededed" stroke-width="2.04" stroke-linecap="round"/>
<line x1="434.3" y1="33.1" x2="434.3" y2="53.1" stroke="#8e8e8e" stroke-width="5.03" stroke-linecap="round"/>
<line x1="434.0" y1="33.1" x2="434.0" y2="53.1" stroke="#c6c6c6" stroke-width="3.72" stroke-linecap="round"/>
<line x1="433.7" y1="33.1" x2="433.7" y2="53.1" stroke="#ededed" stroke-width="1.81" stroke-linecap="round"/>
<line x1="408.6" y1="54.3" x2="425.7" y2="56.6" stroke="#8e8e8e" stroke-width="5.66" stroke-linecap="round"/>
<line x1="408.6" y1="53.9" x2="425.8" y2="56.2" stroke="#c6c6c6" stroke-width="4.19" stroke-linecap="round"/>
<line x1="408.7" y1="53.6" x2="425.8" y2="55.9" stroke="#ededed" stroke-width="2.04" stroke-linecap="round"/>
<line x1="409.1" y1="38.3" x2="409.1" y2="54.3" stroke="#8e8e8e" stroke-width="3.14" stroke-linecap="round"/>
<line x1="409.0" y1="38.3" x2="409.0" y2="54.3" stroke="#c6c6c6" stroke-width="2.33" stroke-linecap="round"/>
<line x1="408.8" y1="38.3" x2="408.8" y2="54.3" stroke="#ededed" stroke-width="1.13" stroke-linecap="round"/>
<line x1="394.9" y1="49.1" x2="417.7" y2="37.1" stroke="#8e8e8e" stroke-width="1.51" stroke-linecap="round"/>
<line x1="417.7" y1="37.1" x2="425.7" y2="56.6" stroke="#8e8e8e" stroke-width="1.01" stroke-linecap="round"/>
<line x1="410.3" y1="74.9" x2="423.4" y2="65.7" stroke="#8e8e8e" stroke-width="4.40" stroke-linecap="round"/>
<line x1="410.1" y1="74.6" x2="423.3" y2="65.5" stroke="#c6c6c6" stroke-width="3.26" stroke-linecap="round"/>
<line x1="410.0" y1="74.4" x2="423.1" y2="65.3" stroke="#ededed" stroke-width="1.58" stroke-linecap="round"/>
<line x1="407.4" y1="76.0" x2="409.1" y2="79.4" stroke="#4e4e4e" stroke-width="3.77" stroke-linecap="round"/>
<line x1="407.2" y1="76.1" x2="408.9" y2="79.5" stroke="#767676" stroke-width="2.79" stroke-linecap="round"/>
<line x1="407.0" y1="76.2" x2="408.7" y2="79.6" stroke="#949494" stroke-width="1.36" stroke-linecap="round"/>
<line x1="410.3" y1="83.4" x2="380.0" y2="128.6" stroke="#8e8e8e" stroke-width="6.29" stroke-linecap="round"/>
<line x1="410.0" y1="83.2" x2="379.7" y2="128.4" stroke="#c6c6c6" stroke-width="4.65" stroke-linecap="round"/>
<line x1="409.7" y1="83.0" x2="379.4" y2="128.2" stroke="#ededed" stroke-width="2.26" stroke-linecap="round"/>
<line x1="433.1" y1="77.1" x2="445.1" y2="70.3" stroke="#8e8e8e" stroke-width="5.03" stroke-linecap="round"/>
<line x1="433.0" y1="76.9" x2="445.0" y2="70.0" stroke="#c6c6c6" stroke-width="3.72" stroke-linecap="round"/>
<line x1="432.8" y1="76.6" x2="444.8" y2="69.8" stroke="#ededed" stroke-width="1.81" stroke-linecap="round"/>
<line x1="432.0" y1="61.1" x2="449.7" y2="78.3" stroke="#8e8e8e" stroke-width="1.26" stroke-linecap="round"/>
<line x1="452.0" y1="68.0" x2="453.1" y2="86.3" stroke="#8e8e8e" stroke-width="3.77" stroke-linecap="round"/>
<line x1="451.8" y1="68.0" x2="452.9" y2="86.3" stroke="#c6c6c6" stroke-width="2.79" stroke-linecap="round"/>
<line x1="451.5" y1="68.0" x2="452.7" y2="86.3" stroke="#ededed" stroke-width="1.36" stroke-linecap="round"/>
<line x1="473.7" y1="68.6" x2="494.3" y2="84.0" stroke="#8e8e8e" stroke-width="6.91" stroke-linecap="round"/>
<line x1="474.0" y1="68.2" x2="494.5" y2="83.7" stroke="#c6c6c6" stroke-width="5.12" stroke-linecap="round"/>
<line x1="474.2" y1="67.9" x2="494.8" y2="83.3" stroke="#ededed" stroke-width="2.49" stroke-linecap="round"/>
<line x1="494.3" y1="84.0" x2="508.0" y2="88.6" stroke="#8e8e8e" stroke-width="5.66" stroke-linecap="round"/>
<line x1="494.4" y1="83.7" x2="508.1" y2="88.2" stroke="#c6c6c6" stroke-width="4.19" stroke-linecap="round"/>
<line x1="494.5" y1="83.4" x2="508.2" y2="87.9" stroke="#ededed" stroke-width="2.04" stroke-linecap="round"/>
<line x1="405.1" y1="100.0" x2="451.4" y2="94.9" stroke="#8e8e8e" stroke-width="4.40" stroke-linecap="round"/>
<line x1="405.1" y1="99.7" x2="451.4" y2="94.6" stroke="#c6c6c6" stroke-width="3.26" stroke-linecap="round"/>
<line x1="405.1" y1="99.5" x2="451.4" y2="94.3" stroke="#ededed" stroke-width="1.58" stroke-linecap="round"/>
<line x1="451.4" y1="94.9" x2="501.1" y2="104.6" stroke="#8e8e8e" stroke-width="5.66" stroke-linecap="round"/>
<line x1="451.5" y1="94.5" x2="501.2" y2="104.2" stroke="#c6c6c6" stroke-width="4.19" stroke-linecap="round"/>
<line x1="451.6" y1="94.2" x2="501.3" y2="103.9" stroke="#ededed" stroke-width="2.04" stroke-linecap="round"/>
<line x1="501.1" y1="104.6" x2="522.9" y2="113.7" stroke="#8e8e8e" stroke-width="5.03" stroke-linecap="round"/>
<line x1="501.3" y1="104.3" x2="523.0" y2="113.4" stroke="#c6c6c6" stroke-width="3.72" stroke-linecap="round"/>
<line x1="501.4" y1="104.0" x2="523.1" y2="113.2" stroke="#ededed" stroke-width="1.81" stroke-linecap="round"/>
<line x1="444.0" y1="126.3" x2="496.6" y2="106.9" stroke="#8e8e8e" stroke-width="3.77" stroke-linecap="round"/>
<line x1="443.9" y1="126.1" x2="496.5" y2="106.6" stroke="#c6c6c6" stroke-width="2.79" stroke-linecap="round"/>
<line x1="443.8" y1="125.9" x2="496.4" y2="106.4" stroke="#ededed" stroke-width="1.36" stroke-linecap="round"/>
<line x1="444.0" y1="126.3" x2="463.4" y2="104.6" stroke="#8e8e8e" stroke-width="3.14" stroke-linecap="round"/>
<line x1="443.9" y1="126.2" x2="463.3" y2="104.4" stroke="#c6c6c6" stroke-width="2.33" stroke-linecap="round"/>
<line x1="443.7" y1="126.0" x2="463.1" y2="104.3" stroke="#ededed" stroke-width="1.13" stroke-linecap="round"/>
<line x1="460.0" y1="125.1" x2="477.1" y2="105.7" stroke="#8e8e8e" stroke-width="5.03" stroke-linecap="round"/>
<line x1="459.8" y1="124.9" x2="476.9" y2="105.5" stroke="#c6c6c6" stroke-width="3.72" stroke-linecap="round"/>
<line x1="459.5" y1="124.7" x2="476.7" y2="105.3" stroke="#ededed" stroke-width="1.81" stroke-linecap="round"/>
<line x1="509.1" y1="114.9" x2="517.1" y2="129.9" stroke="#8e8e8e" stroke-width="5.66" stroke-linecap="round"/>
<line x1="508.8" y1="115.0" x2="516.8" y2="130.1" stroke="#c6c6c6" stroke-width="4.19" stroke-linecap="round"/>
<line x1="508.5" y1="115.2" x2="516.5" y2="130.3" stroke="#ededed" stroke-width="2.04" stroke-linecap="round"/>
<line x1="514.9" y1="114.9" x2="521.7" y2="114.9" stroke="#4e4e4e" stroke-width="3.77" stroke-linecap="round"/>
<line x1="514.9" y1="114.6" x2="521.7" y2="114.6" stroke="#767676" stroke-width="2.79" stroke-linecap="round"/>
<line x1="514.9" y1="114.4" x2="521.7" y2="114.4" stroke="#949494" stroke-width="1.36" stroke-linecap="round"/>
<line x1="448.6" y1="95.4" x2="439.4" y2="122.9" stroke="#8e8e8e" stroke-width="2.51" stroke-linecap="round"/>
<line x1="448.4" y1="95.4" x2="439.3" y2="122.8" stroke="#c6c6c6" stroke-width="1.86" stroke-linecap="round"/>
<line x1="448.3" y1="95.3" x2="439.1" y2="122.8" stroke="#ededed" stroke-width="0.91" stroke-linecap="round"/>
<line x1="450.9" y1="97.7" x2="444.0" y2="126.3" stroke="#8e8e8e" stroke-width="1.26" stroke-linecap="round"/>
<line x1="454.3" y1="100.0" x2="453.1" y2="126.3" stroke="#8e8e8e" stroke-width="1.26" stroke-linecap="round"/>
<line x1="390.3" y1="90.9" x2="396.0" y2="88.6" stroke="#8e8e8e" stroke-width="3.14" stroke-linecap="round"/>
<line x1="390.2" y1="90.7" x2="395.9" y2="88.4" stroke="#c6c6c6" stroke-width="2.33" stroke-linecap="round"/>
<line x1="390.1" y1="90.5" x2="395.9" y2="88.2" stroke="#ededed" stroke-width="1.13" stroke-linecap="round"/>
<line x1="389.1" y1="98.9" x2="396.0" y2="102.3" stroke="#8e8e8e" stroke-width="1.89" stroke-linecap="round"/>
<line x1="389.2" y1="98.8" x2="396.1" y2="102.2" stroke="#c6c6c6" stroke-width="1.40" stroke-linecap="round"/>
<line x1="389.2" y1="98.7" x2="396.1" y2="102.1" stroke="#ededed" stroke-width="0.68" stroke-linecap="round"/>
<line x1="386.3" y1="80.6" x2="390.9" y2="71.4" stroke="#8e8e8e" stroke-width="0.63" stroke-linecap="round"/>
<line x1="406.3" y1="111.4" x2="417.7" y2="113.7" stroke="#8e8e8e" stroke-width="2.51" stroke-linecap="round"/>
<line x1="406.3" y1="111.3" x2="417.7" y2="113.6" stroke="#c6c6c6" stroke-width="1.86" stroke-linecap="round"/>
<line x1="406.3" y1="111.1" x2="417.8" y2="113.4" stroke="#ededed" stroke-width="0.91" stroke-linecap="round"/>
<line x1="501.1" y1="104.6" x2="501.1" y2="129.9" stroke="#8e8e8e" stroke-width="3.14" stroke-linecap="round"/>
<line x1="501.0" y1="104.6" x2="501.0" y2="129.9" stroke="#c6c6c6" stroke-width="2.33" stroke-linecap="round"/>
<line x1="500.8" y1="104.6" x2="500.8" y2="129.9" stroke="#ededed" stroke-width="1.13" stroke-linecap="round"/>
<line x1="505.7" y1="94.3" x2="508.0" y2="88.6" stroke="#8e8e8e" stroke-width="3.77" stroke-linecap="round"/>
<line x1="505.5" y1="94.2" x2="507.8" y2="88.5" stroke="#c6c6c6" stroke-width="2.79" stroke-linecap="round"/>
<line x1="505.3" y1="94.1" x2="507.6" y2="88.4" stroke="#ededed" stroke-width="1.36" stroke-linecap="round"/>
<line x1="496.6" y1="111.4" x2="488.6" y2="129.9" stroke="#8e8e8e" stroke-width="2.51" stroke-linecap="round"/>
<line x1="496.4" y1="111.4" x2="488.4" y2="129.9" stroke="#c6c6c6" stroke-width="1.86" stroke-linecap="round"/>
<line x1="496.3" y1="111.3" x2="488.3" y2="129.8" stroke="#ededed" stroke-width="0.91" stroke-linecap="round"/>
<line x1="408.6" y1="56.6" x2="407.4" y2="74.9" stroke="#8e8e8e" stroke-width="1.51" stroke-linecap="round"/>
<line x1="425.7" y1="57.7" x2="432.6" y2="77.1" stroke="#8e8e8e" stroke-width="0.75" stroke-linecap="round"/>
<circle cx="329.4" cy="109.1" r="11.37" fill="url(#sg)"/>
<circle cx="335.3" cy="134.0" r="11.37" fill="url(#sg)"/>
<circle cx="367.7" cy="145.4" r="5.88" fill="url(#sg)"/>
<circle cx="371.6" cy="156.2" r="5.49" fill="url(#sg)"/>
<circle cx="343.2" cy="152.2" r="5.88" fill="url(#sg)"/>
<circle cx="356.9" cy="92.4" r="3.53" fill="url(#sg)"/>
<circle cx="274.7" cy="94.4" r="3.92" fill="url(#sg)"/>
<circle cx="275.5" cy="110.1" r="4.31" fill="url(#sg)"/>
<circle cx="270.0" cy="125.4" r="4.31" fill="url(#sg)"/>
<circle cx="275.1" cy="149.3" r="5.49" fill="url(#sg)"/>
<circle cx="293.2" cy="100.3" r="3.53" fill="url(#sg)"/>
<circle cx="300.0" cy="136.0" r="2.94" fill="url(#sg)"/>
<circle cx="314.7" cy="140.5" r="2.35" fill="url(#sg)"/>
<circle cx="329.4" cy="167.9" r="4.90" fill="url(#sg)"/>
<circle cx="349.0" cy="173.8" r="4.90" fill="url(#sg)"/>
<circle cx="364.7" cy="183.6" r="5.49" fill="url(#sg)"/>
<circle cx="355.9" cy="186.5" r="3.92" fill="url(#sg)"/>
<circle cx="398.1" cy="172.8" r="4.90" fill="url(#sg)"/>
<circle cx="400.0" cy="189.5" r="4.31" fill="url(#sg)"/>
<circle cx="409.8" cy="83.6" r="2.94" fill="url(#sg)"/>
<circle cx="404.9" cy="100.3" r="2.94" fill="url(#sg)"/>
<circle cx="415.7" cy="106.2" r="2.94" fill="url(#sg)"/>
<circle cx="396.1" cy="87.5" r="2.75" fill="url(#sg)"/>
<circle cx="386.3" cy="80.7" r="2.75" fill="url(#sg)"/>
<circle cx="372.6" cy="101.3" r="3.14" fill="url(#sg)"/>
<circle cx="381.8" cy="110.1" r="2.35" fill="url(#sg)"/>
<circle cx="353.9" cy="74.4" r="2.35" fill="url(#sg)"/>
<circle cx="345.7" cy="50.7" r="3.33" fill="url(#sg)"/>
<circle cx="400.0" cy="59.5" r="2.94" fill="url(#sg)"/>
<circle cx="353.0" cy="110.1" r="2.35" fill="url(#sg)"/>
<circle cx="258.8" cy="99.3" r="2.75" fill="url(#sg)"/>
<circle cx="254.9" cy="67.9" r="2.35" fill="url(#sg)"/>
<circle cx="275.1" cy="67.9" r="2.75" fill="url(#sg)"/>
<circle cx="246.1" cy="75.8" r="2.35" fill="url(#sg)"/>
<circle cx="252.4" cy="81.6" r="2.35" fill="url(#sg)"/>
<circle cx="311.8" cy="102.8" r="1.96" fill="url(#sg)"/>
<circle cx="395.1" cy="135.6" r="3.53" fill="url(#sg)"/>
<circle cx="403.0" cy="157.1" r="2.94" fill="url(#sg)"/>
<circle cx="414.7" cy="140.5" r="2.94" fill="url(#sg)"/>
<circle cx="412.8" cy="130.7" r="2.94" fill="url(#sg)"/>
<circle cx="334.3" cy="198.3" r="3.92" fill="url(#sg)"/>
<circle cx="335.3" cy="216.0" r="4.31" fill="url(#sg)"/>
<circle cx="311.8" cy="188.5" r="2.94" fill="url(#sg)"/>
<circle cx="295.1" cy="207.1" r="2.94" fill="url(#sg)"/>
<circle cx="311.8" cy="209.1" r="2.94" fill="url(#sg)"/>
<circle cx="321.0" cy="207.1" r="2.35" fill="url(#sg)"/>
<circle cx="351.0" cy="207.1" r="2.94" fill="url(#sg)"/>
<circle cx="330.4" cy="209.1" r="2.35" fill="url(#sg)"/>
<circle cx="276.5" cy="173.8" r="1.96" fill="url(#sg)"/>
<circle cx="287.3" cy="207.1" r="2.35" fill="url(#sg)"/>
<circle cx="406.9" cy="76.7" r="2.94" fill="url(#sg)"/>
<circle cx="371.2" cy="66.5" r="1.37" fill="url(#sg)"/>
<circle cx="416.7" cy="88.5" r="1.57" fill="url(#sg)"/>
<circle cx="489.6" cy="164.0" r="12.75" fill="url(#sg)"/>
<circle cx="436.7" cy="155.2" r="11.76" fill="url(#sg)"/>
<circle cx="522.6" cy="114.4" r="8.82" fill="url(#sg)"/>
<circle cx="575.9" cy="178.7" r="8.82" fill="url(#sg)"/>
<circle cx="507.3" cy="88.5" r="6.27" fill="url(#sg)"/>
<circle cx="457.9" cy="66.5" r="6.27" fill="url(#sg)"/>
<circle cx="473.5" cy="69.3" r="4.31" fill="url(#sg)"/>
<circle cx="494.5" cy="84.6" r="4.31" fill="url(#sg)"/>
<circle cx="501.8" cy="104.2" r="5.49" fill="url(#sg)"/>
<circle cx="434.3" cy="33.6" r="3.53" fill="url(#sg)"/>
<circle cx="426.9" cy="60.1" r="3.53" fill="url(#sg)"/>
<circle cx="432.8" cy="77.1" r="2.94" fill="url(#sg)"/>
<circle cx="451.4" cy="87.5" r="4.31" fill="url(#sg)"/>
<circle cx="438.3" cy="105.2" r="4.90" fill="url(#sg)"/>
<circle cx="463.2" cy="105.2" r="2.94" fill="url(#sg)"/>
<circle cx="451.4" cy="94.4" r="2.35" fill="url(#sg)"/>
<circle cx="442.6" cy="126.7" r="2.35" fill="url(#sg)"/>
<circle cx="500.4" cy="121.5" r="3.92" fill="url(#sg)"/>
<circle cx="509.6" cy="115.6" r="3.53" fill="url(#sg)"/>
<circle cx="478.8" cy="139.1" r="3.53" fill="url(#sg)"/>
<circle cx="458.3" cy="138.5" r="3.92" fill="url(#sg)"/>
<circle cx="477.5" cy="148.9" r="2.35" fill="url(#sg)"/>
<circle cx="526.9" cy="146.9" r="4.31" fill="url(#sg)"/>
<circle cx="550.0" cy="152.2" r="4.90" fill="url(#sg)"/>
<circle cx="538.6" cy="150.9" r="2.94" fill="url(#sg)"/>
<circle cx="559.2" cy="137.9" r="3.53" fill="url(#sg)"/>
<circle cx="569.6" cy="150.3" r="2.35" fill="url(#sg)"/>
<circle cx="598.5" cy="149.7" r="3.53" fill="url(#sg)"/>
<circle cx="538.3" cy="86.2" r="2.94" fill="url(#sg)"/>
<circle cx="551.4" cy="98.7" r="2.35" fill="url(#sg)"/>
<circle cx="576.3" cy="127.3" r="2.35" fill="url(#sg)"/>
<circle cx="506.9" cy="176.4" r="2.35" fill="url(#sg)"/>
<circle cx="457.3" cy="188.1" r="4.31" fill="url(#sg)"/>
<circle cx="426.9" cy="170.9" r="3.53" fill="url(#sg)"/>
<circle cx="426.9" cy="191.5" r="2.35" fill="url(#sg)"/>
<circle cx="482.8" cy="195.4" r="2.94" fill="url(#sg)"/>
<circle cx="491.6" cy="201.8" r="2.35" fill="url(#sg)"/>
<circle cx="511.2" cy="209.1" r="2.94" fill="url(#sg)"/>
<circle cx="538.6" cy="190.5" r="2.35" fill="url(#sg)"/>
<circle cx="550.4" cy="184.6" r="2.94" fill="url(#sg)"/>
<circle cx="543.5" cy="215.0" r="7.84" fill="url(#sg)"/>
<circle cx="464.5" cy="190.1" r="5.88" fill="url(#sg)"/>
<circle cx="477.9" cy="217.9" r="7.84" fill="url(#sg)"/>
<circle cx="456.3" cy="217.9" r="6.86" fill="url(#sg)"/>
<circle cx="440.6" cy="217.9" r="3.92" fill="url(#sg)"/>
<circle cx="461.8" cy="51.6" r="1.57" fill="url(#sg)"/>
<circle cx="448.5" cy="44.4" r="1.18" fill="url(#sg)"/>
<circle cx="465.7" cy="43.8" r="1.18" fill="url(#sg)"/>
<circle cx="460.2" cy="73.8" r="2.35" fill="url(#sg)"/>
<circle cx="386.3" cy="366.9" r="7.59" fill="url(#sg)"/>
<circle cx="356.0" cy="283.4" r="6.50" fill="url(#sg)"/>
<circle cx="357.0" cy="309.4" r="5.42" fill="url(#sg)"/>
<circle cx="357.0" cy="352.8" r="5.42" fill="url(#sg)"/>
<circle cx="335.4" cy="357.1" r="4.33" fill="url(#sg)"/>
<circle cx="348.4" cy="374.5" r="4.33" fill="url(#sg)"/>
<circle cx="415.6" cy="280.2" r="6.07" fill="url(#sg)"/>
<circle cx="276.9" cy="276.9" r="4.33" fill="url(#sg)"/>
<circle cx="289.9" cy="292.1" r="4.33" fill="url(#sg)"/>
<circle cx="270.4" cy="270.4" r="3.25" fill="url(#sg)"/>
<circle cx="281.2" cy="223.8" r="3.90" fill="url(#sg)"/>
<circle cx="269.3" cy="227.7" r="3.25" fill="url(#sg)"/>
<circle cx="287.7" cy="226.0" r="2.60" fill="url(#sg)"/>
<circle cx="294.2" cy="206.5" r="3.25" fill="url(#sg)"/>
<circle cx="311.5" cy="209.1" r="3.90" fill="url(#sg)"/>
<circle cx="320.6" cy="207.6" r="2.60" fill="url(#sg)"/>
<circle cx="335.4" cy="217.3" r="4.77" fill="url(#sg)"/>
<circle cx="350.5" cy="206.9" r="3.25" fill="url(#sg)"/>
<circle cx="360.3" cy="208.2" r="3.25" fill="url(#sg)"/>
<circle cx="353.8" cy="220.6" r="3.25" fill="url(#sg)"/>
<circle cx="297.4" cy="242.3" r="3.25" fill="url(#sg)"/>
<circle cx="285.5" cy="240.1" r="2.17" fill="url(#sg)"/>
<circle cx="272.5" cy="238.6" r="1.73" fill="url(#sg)"/>
<circle cx="275.8" cy="240.1" r="1.73" fill="url(#sg)"/>
<circle cx="286.6" cy="257.4" r="3.25" fill="url(#sg)"/>
<circle cx="319.1" cy="245.5" r="3.25" fill="url(#sg)"/>
<circle cx="313.3" cy="244.4" r="2.17" fill="url(#sg)"/>
<circle cx="322.4" cy="255.3" r="3.25" fill="url(#sg)"/>
<circle cx="328.9" cy="263.9" r="3.90" fill="url(#sg)"/>
<circle cx="332.1" cy="258.1" r="2.17" fill="url(#sg)"/>
<circle cx="304.6" cy="271.5" r="3.25" fill="url(#sg)"/>
<circle cx="298.5" cy="265.5" r="2.60" fill="url(#sg)"/>
<circle cx="311.5" cy="282.4" r="2.60" fill="url(#sg)"/>
<circle cx="325.0" cy="285.6" r="2.60" fill="url(#sg)"/>
<circle cx="339.7" cy="308.4" r="3.90" fill="url(#sg)"/>
<circle cx="346.2" cy="297.5" r="2.60" fill="url(#sg)"/>
<circle cx="363.5" cy="249.8" r="4.33" fill="url(#sg)"/>
<circle cx="365.7" cy="265.0" r="2.60" fill="url(#sg)"/>
<circle cx="378.7" cy="274.8" r="2.60" fill="url(#sg)"/>
<circle cx="395.0" cy="268.3" r="3.90" fill="url(#sg)"/>
<circle cx="397.1" cy="246.6" r="4.77" fill="url(#sg)"/>
<circle cx="393.9" cy="274.8" r="2.60" fill="url(#sg)"/>
<circle cx="399.3" cy="272.6" r="2.60" fill="url(#sg)"/>
<circle cx="409.1" cy="297.5" r="2.60" fill="url(#sg)"/>
<circle cx="379.8" cy="230.3" r="4.33" fill="url(#sg)"/>
<circle cx="416.6" cy="231.4" r="3.25" fill="url(#sg)"/>
<circle cx="415.6" cy="237.9" r="4.33" fill="url(#sg)"/>
<circle cx="401.5" cy="321.4" r="2.17" fill="url(#sg)"/>
<circle cx="416.6" cy="365.8" r="4.33" fill="url(#sg)"/>
<circle cx="414.5" cy="351.7" r="4.33" fill="url(#sg)"/>
<circle cx="335.4" cy="326.8" r="2.17" fill="url(#sg)"/>
<circle cx="398.2" cy="397.2" r="2.60" fill="url(#sg)"/>
<circle cx="369.0" cy="416.7" r="2.60" fill="url(#sg)"/>
<circle cx="325.6" cy="327.4" r="2.17" fill="url(#sg)"/>
<circle cx="317.0" cy="219.5" r="2.60" fill="url(#sg)"/>
<circle cx="286.6" cy="207.6" r="2.17" fill="url(#sg)"/>
<circle cx="296.4" cy="213.0" r="2.17" fill="url(#sg)"/>
<circle cx="380.5" cy="262.9" r="2.60" fill="url(#sg)"/>
<circle cx="388.5" cy="281.3" r="2.60" fill="url(#sg)"/>
<circle cx="364.0" cy="279.1" r="2.17" fill="url(#sg)"/>
<circle cx="339.7" cy="287.8" r="2.17" fill="url(#sg)"/>
<circle cx="328.9" cy="286.7" r="2.17" fill="url(#sg)"/>
<circle cx="453.1" cy="253.1" r="11.93" fill="url(#sg)"/>
<circle cx="453.5" cy="359.4" r="11.93" fill="url(#sg)"/>
<circle cx="498.0" cy="308.4" r="9.11" fill="url(#sg)"/>
<circle cx="543.5" cy="216.3" r="8.24" fill="url(#sg)"/>
<circle cx="553.3" cy="247.7" r="6.94" fill="url(#sg)"/>
<circle cx="572.8" cy="266.1" r="8.24" fill="url(#sg)"/>
<circle cx="558.7" cy="262.9" r="5.42" fill="url(#sg)"/>
<circle cx="440.5" cy="222.8" r="6.51" fill="url(#sg)"/>
<circle cx="457.9" cy="219.5" r="5.42" fill="url(#sg)"/>
<circle cx="477.8" cy="219.5" r="7.59" fill="url(#sg)"/>
<circle cx="501.7" cy="233.0" r="4.77" fill="url(#sg)"/>
<circle cx="486.1" cy="273.7" r="5.42" fill="url(#sg)"/>
<circle cx="511.0" cy="209.1" r="3.25" fill="url(#sg)"/>
<circle cx="533.3" cy="269.4" r="3.90" fill="url(#sg)"/>
<circle cx="514.3" cy="291.1" r="3.25" fill="url(#sg)"/>
<circle cx="527.3" cy="306.3" r="3.25" fill="url(#sg)"/>
<circle cx="507.7" cy="330.1" r="4.34" fill="url(#sg)"/>
<circle cx="566.3" cy="322.5" r="2.60" fill="url(#sg)"/>
<circle cx="553.7" cy="323.6" r="2.17" fill="url(#sg)"/>
<circle cx="549.0" cy="304.1" r="2.17" fill="url(#sg)"/>
<circle cx="464.4" cy="317.1" r="3.25" fill="url(#sg)"/>
<circle cx="459.0" cy="330.1" r="4.34" fill="url(#sg)"/>
<circle cx="424.3" cy="245.5" r="2.60" fill="url(#sg)"/>
<circle cx="424.3" cy="300.8" r="3.90" fill="url(#sg)"/>
<circle cx="438.3" cy="341.0" r="2.17" fill="url(#sg)"/>
<circle cx="427.1" cy="373.5" r="2.17" fill="url(#sg)"/>
<circle cx="479.6" cy="252.0" r="5.42" fill="url(#sg)"/>
<circle cx="490.4" cy="250.3" r="2.60" fill="url(#sg)"/>
<circle cx="511.0" cy="263.3" r="3.25" fill="url(#sg)"/>
<circle cx="468.7" cy="243.4" r="3.25" fill="url(#sg)"/>
<circle cx="461.1" cy="269.4" r="4.34" fill="url(#sg)"/>
<circle cx="436.2" cy="215.2" r="2.60" fill="url(#sg)"/>
<circle cx="447.0" cy="203.3" r="2.17" fill="url(#sg)"/>
<circle cx="491.5" cy="201.7" r="2.17" fill="url(#sg)"/>
<circle cx="492.6" cy="238.0" r="2.17" fill="url(#sg)"/>
<circle cx="526.2" cy="233.0" r="2.17" fill="url(#sg)"/>
<circle cx="535.9" cy="273.7" r="2.60" fill="url(#sg)"/>
<circle cx="477.4" cy="304.1" r="1.73" fill="url(#sg)"/>
<circle cx="436.2" cy="305.2" r="3.25" fill="url(#sg)"/>
<circle cx="534.9" cy="319.3" r="2.17" fill="url(#sg)"/>
<circle cx="437.6" cy="156.5" r="11.87" fill="url(#sg)"/>
<circle cx="371.7" cy="155.9" r="5.28" fill="url(#sg)"/>
<circle cx="348.6" cy="174.3" r="5.28" fill="url(#sg)"/>
<circle cx="365.1" cy="183.6" r="5.28" fill="url(#sg)"/>
<circle cx="398.0" cy="172.3" r="4.62" fill="url(#sg)"/>
<circle cx="367.7" cy="144.6" r="5.28" fill="url(#sg)"/>
<circle cx="344.0" cy="152.6" r="5.28" fill="url(#sg)"/>
<circle cx="340.0" cy="127.5" r="3.96" fill="url(#sg)"/>
<circle cx="403.3" cy="157.2" r="3.30" fill="url(#sg)"/>
<circle cx="427.1" cy="171.0" r="3.96" fill="url(#sg)"/>
<circle cx="456.8" cy="187.5" r="3.96" fill="url(#sg)"/>
<circle cx="438.3" cy="105.1" r="5.28" fill="url(#sg)"/>
<circle cx="459.4" cy="138.7" r="4.62" fill="url(#sg)"/>
<circle cx="462.7" cy="105.1" r="3.30" fill="url(#sg)"/>
<circle cx="450.8" cy="95.2" r="2.64" fill="url(#sg)"/>
<circle cx="356.5" cy="91.2" r="3.30" fill="url(#sg)"/>
<circle cx="373.0" cy="101.1" r="3.30" fill="url(#sg)"/>
<circle cx="381.6" cy="111.0" r="2.64" fill="url(#sg)"/>
<circle cx="352.5" cy="111.0" r="2.64" fill="url(#sg)"/>
<circle cx="396.1" cy="135.4" r="3.30" fill="url(#sg)"/>
<circle cx="413.2" cy="131.5" r="3.96" fill="url(#sg)"/>
<circle cx="419.2" cy="119.6" r="3.96" fill="url(#sg)"/>
<circle cx="415.9" cy="106.4" r="3.30" fill="url(#sg)"/>
<circle cx="409.3" cy="83.3" r="2.64" fill="url(#sg)"/>
<circle cx="396.1" cy="87.9" r="2.64" fill="url(#sg)"/>
<circle cx="406.0" cy="99.8" r="2.64" fill="url(#sg)"/>
<circle cx="442.2" cy="126.2" r="2.64" fill="url(#sg)"/>
<circle cx="432.3" cy="160.5" r="2.64" fill="url(#sg)"/>
<circle cx="424.4" cy="152.6" r="2.64" fill="url(#sg)"/>
<circle cx="415.2" cy="141.3" r="2.64" fill="url(#sg)"/>
<circle cx="406.0" cy="143.3" r="2.37" fill="url(#sg)"/>
<circle cx="477.2" cy="138.7" r="2.64" fill="url(#sg)"/>
<circle cx="477.2" cy="149.3" r="2.64" fill="url(#sg)"/>
<circle cx="398.0" cy="189.5" r="3.96" fill="url(#sg)"/>
<circle cx="351.2" cy="206.6" r="3.30" fill="url(#sg)"/>
<circle cx="359.1" cy="208.0" r="2.64" fill="url(#sg)"/>
<circle cx="392.8" cy="198.7" r="2.64" fill="url(#sg)"/>
<circle cx="426.4" cy="192.1" r="2.64" fill="url(#sg)"/>
<circle cx="466.0" cy="211.9" r="3.30" fill="url(#sg)"/>
<circle cx="471.9" cy="189.5" r="3.96" fill="url(#sg)"/>
<circle cx="419.2" cy="217.2" r="2.64" fill="url(#sg)"/>
<circle cx="432.3" cy="182.9" r="1.98" fill="url(#sg)"/>
<circle cx="446.9" cy="203.4" r="1.98" fill="url(#sg)"/>
<circle cx="463.4" cy="172.3" r="1.98" fill="url(#sg)"/>
<circle cx="466.6" cy="165.8" r="1.98" fill="url(#sg)"/>
<circle cx="457.4" cy="160.5" r="1.58" fill="url(#sg)"/>
<circle cx="427.1" cy="119.6" r="1.98" fill="url(#sg)"/>
<circle cx="489.5" cy="164.5" r="12.53" fill="url(#sg)"/>
<circle cx="453.2" cy="252.9" r="11.87" fill="url(#sg)"/>
<circle cx="573.9" cy="178.4" r="7.26" fill="url(#sg)"/>
<circle cx="543.6" cy="216.0" r="7.92" fill="url(#sg)"/>
<circle cx="553.5" cy="247.6" r="7.26" fill="url(#sg)"/>
<circle cx="571.9" cy="266.1" r="7.92" fill="url(#sg)"/>
<circle cx="559.4" cy="263.5" r="5.28" fill="url(#sg)"/>
<circle cx="501.3" cy="233.1" r="5.01" fill="url(#sg)"/>
<circle cx="457.2" cy="219.9" r="5.94" fill="url(#sg)"/>
<circle cx="479.6" cy="218.6" r="6.60" fill="url(#sg)"/>
<circle cx="442.6" cy="221.2" r="4.62" fill="url(#sg)"/>
<circle cx="457.2" cy="187.6" r="3.96" fill="url(#sg)"/>
<circle cx="485.5" cy="273.4" r="5.28" fill="url(#sg)"/>
<circle cx="510.6" cy="263.5" r="3.96" fill="url(#sg)"/>
<circle cx="533.7" cy="269.4" r="4.62" fill="url(#sg)"/>
<circle cx="482.2" cy="194.9" r="3.30" fill="url(#sg)"/>
<circle cx="511.2" cy="209.4" r="3.30" fill="url(#sg)"/>
<circle cx="491.5" cy="201.5" r="2.37" fill="url(#sg)"/>
<circle cx="506.6" cy="176.4" r="2.37" fill="url(#sg)"/>
<circle cx="465.7" cy="212.0" r="2.90" fill="url(#sg)"/>
<circle cx="480.9" cy="225.2" r="3.30" fill="url(#sg)"/>
<circle cx="468.4" cy="243.7" r="3.30" fill="url(#sg)"/>
<circle cx="489.5" cy="250.3" r="3.30" fill="url(#sg)"/>
<circle cx="479.6" cy="252.2" r="3.96" fill="url(#sg)"/>
<circle cx="462.4" cy="267.4" r="4.62" fill="url(#sg)"/>
<circle cx="537.6" cy="189.6" r="2.64" fill="url(#sg)"/>
<circle cx="549.5" cy="183.6" r="3.30" fill="url(#sg)"/>
<circle cx="549.5" cy="152.6" r="4.62" fill="url(#sg)"/>
<circle cx="538.3" cy="151.3" r="2.64" fill="url(#sg)"/>
<circle cx="449.9" cy="231.1" r="2.64" fill="url(#sg)"/>
<circle cx="492.8" cy="237.7" r="2.37" fill="url(#sg)"/>
<circle cx="525.8" cy="233.1" r="1.98" fill="url(#sg)"/>
<circle cx="447.9" cy="202.8" r="1.98" fill="url(#sg)"/>
<circle cx="440.0" cy="165.8" r="3.96" fill="url(#sg)"/>
<circle cx="456.5" cy="159.9" r="1.98" fill="url(#sg)"/>
<circle cx="467.0" cy="165.8" r="1.98" fill="url(#sg)"/>
<circle cx="463.1" cy="173.1" r="1.98" fill="url(#sg)"/>
<circle cx="558.7" cy="205.4" r="1.58" fill="url(#sg)"/>
<circle cx="523.1" cy="200.1" r="1.58" fill="url(#sg)"/>
<circle cx="335.0" cy="217.3" r="5.28" fill="url(#sg)"/>
<circle cx="353.4" cy="220.6" r="3.96" fill="url(#sg)"/>
<circle cx="355.4" cy="283.9" r="5.94" fill="url(#sg)"/>
<circle cx="416.8" cy="279.9" r="5.94" fill="url(#sg)"/>
<circle cx="357.4" cy="310.3" r="5.28" fill="url(#sg)"/>
<circle cx="396.3" cy="246.9" r="3.96" fill="url(#sg)"/>
<circle cx="363.3" cy="249.6" r="3.96" fill="url(#sg)"/>
<circle cx="415.4" cy="235.7" r="5.94" fill="url(#sg)"/>
<circle cx="424.0" cy="245.6" r="3.30" fill="url(#sg)"/>
<circle cx="379.2" cy="231.1" r="4.62" fill="url(#sg)"/>
<circle cx="340.2" cy="252.9" r="2.64" fill="url(#sg)"/>
<circle cx="322.4" cy="256.2" r="3.30" fill="url(#sg)"/>
<circle cx="321.8" cy="260.8" r="2.64" fill="url(#sg)"/>
<circle cx="329.0" cy="263.4" r="3.30" fill="url(#sg)"/>
<circle cx="319.8" cy="245.0" r="2.64" fill="url(#sg)"/>
<circle cx="313.2" cy="244.3" r="1.98" fill="url(#sg)"/>
<circle cx="366.0" cy="266.1" r="2.64" fill="url(#sg)"/>
<circle cx="380.5" cy="262.1" r="2.64" fill="url(#sg)"/>
<circle cx="395.0" cy="268.7" r="3.30" fill="url(#sg)"/>
<circle cx="399.6" cy="274.0" r="2.64" fill="url(#sg)"/>
<circle cx="394.3" cy="275.3" r="2.64" fill="url(#sg)"/>
<circle cx="379.2" cy="275.3" r="2.37" fill="url(#sg)"/>
<circle cx="366.0" cy="274.0" r="2.37" fill="url(#sg)"/>
<circle cx="389.7" cy="281.2" r="2.37" fill="url(#sg)"/>
<circle cx="325.1" cy="285.9" r="2.64" fill="url(#sg)"/>
<circle cx="346.8" cy="297.7" r="2.64" fill="url(#sg)"/>
<circle cx="339.6" cy="308.9" r="3.30" fill="url(#sg)"/>
<circle cx="424.7" cy="301.0" r="4.62" fill="url(#sg)"/>
<circle cx="437.9" cy="224.5" r="5.28" fill="url(#sg)"/>
<circle cx="435.9" cy="215.3" r="1.98" fill="url(#sg)"/>
<circle cx="419.4" cy="215.9" r="2.64" fill="url(#sg)"/>
<circle cx="408.2" cy="289.2" r="3.96" fill="url(#sg)"/>
<circle cx="409.5" cy="299.7" r="1.98" fill="url(#sg)"/>
<circle cx="401.6" cy="321.5" r="1.98" fill="url(#sg)"/>
<circle cx="420.1" cy="345.2" r="3.30" fill="url(#sg)"/>
<circle cx="335.0" cy="326.1" r="1.98" fill="url(#sg)"/>
<circle cx="325.7" cy="326.8" r="1.98" fill="url(#sg)"/>
<circle cx="311.2" cy="282.6" r="1.98" fill="url(#sg)"/>
<circle cx="317.2" cy="219.2" r="2.64" fill="url(#sg)"/>
<circle cx="311.9" cy="210.0" r="2.64" fill="url(#sg)"/>
<circle cx="436.5" cy="341.9" r="1.98" fill="url(#sg)"/>
<circle cx="300.0" cy="278.6" r="3.30" fill="url(#sg)"/>
<circle cx="305.3" cy="270.0" r="3.30" fill="url(#sg)"/>
<circle cx="346.2" cy="261.5" r="1.58" fill="url(#sg)"/>
<circle cx="428.6" cy="305.6" r="2.37" fill="url(#sg)"/>
<circle cx="434.3" cy="33.1" r="3.43" fill="url(#sg)"/>
<circle cx="409.1" cy="37.7" r="1.71" fill="url(#sg)"/>
<circle cx="400.6" cy="59.4" r="2.86" fill="url(#sg)"/>
<circle cx="426.3" cy="59.4" r="3.20" fill="url(#sg)"/>
<circle cx="430.3" cy="56.6" r="2.51" fill="url(#sg)"/>
<circle cx="444.0" cy="56.6" r="1.14" fill="url(#sg)"/>
<circle cx="450.3" cy="64.6" r="2.29" fill="url(#sg)"/>
<circle cx="458.3" cy="66.9" r="6.29" fill="url(#sg)"/>
<circle cx="460.0" cy="73.7" r="2.29" fill="url(#sg)"/>
<circle cx="433.1" cy="77.1" r="3.43" fill="url(#sg)"/>
<circle cx="445.1" cy="70.3" r="2.06" fill="url(#sg)"/>
<circle cx="451.4" cy="78.3" r="2.29" fill="url(#sg)"/>
<circle cx="452.6" cy="87.4" r="4.00" fill="url(#sg)"/>
<circle cx="451.4" cy="94.9" r="2.51" fill="url(#sg)"/>
<circle cx="473.7" cy="68.6" r="4.34" fill="url(#sg)"/>
<circle cx="494.3" cy="84.0" r="4.34" fill="url(#sg)"/>
<circle cx="508.0" cy="88.6" r="6.29" fill="url(#sg)"/>
<circle cx="501.1" cy="104.6" r="5.14" fill="url(#sg)"/>
<circle cx="522.9" cy="113.7" r="8.57" fill="url(#sg)"/>
<circle cx="509.1" cy="114.9" r="3.43" fill="url(#sg)"/>
<circle cx="500.0" cy="121.1" r="3.43" fill="url(#sg)"/>
<circle cx="462.9" cy="105.1" r="2.86" fill="url(#sg)"/>
<circle cx="438.3" cy="104.6" r="5.14" fill="url(#sg)"/>
<circle cx="405.1" cy="100.0" r="2.86" fill="url(#sg)"/>
<circle cx="410.3" cy="83.4" r="2.86" fill="url(#sg)"/>
<circle cx="386.3" cy="80.6" r="2.86" fill="url(#sg)"/>
<circle cx="396.0" cy="87.4" r="2.29" fill="url(#sg)"/>
<circle cx="416.0" cy="106.3" r="2.86" fill="url(#sg)"/>
<circle cx="423.4" cy="87.4" r="2.06" fill="url(#sg)"/>
<circle cx="416.6" cy="88.3" r="1.37" fill="url(#sg)"/>
<circle cx="381.7" cy="91.4" r="2.06" fill="url(#sg)"/>
<circle cx="381.7" cy="110.3" r="2.06" fill="url(#sg)"/>
<circle cx="420.0" cy="119.4" r="5.71" fill="url(#sg)"/>
<circle cx="537.7" cy="85.7" r="3.43" fill="url(#sg)"/>
<circle cx="448.6" cy="44.0" r="1.14" fill="url(#sg)"/>
<circle cx="465.1" cy="43.4" r="1.14" fill="url(#sg)"/>
<circle cx="461.7" cy="51.4" r="1.71" fill="url(#sg)"/>
<circle cx="397.1" cy="64.6" r="1.14" fill="url(#sg)"/>
<circle cx="390.9" cy="71.4" r="0.91" fill="url(#sg)"/>
</g>
<g clip-path="url(#clipB)">
<line x1="1022.5" y1="185.0" x2="1058.3" y2="163.1" stroke="#8e8e8e" stroke-width="16.41" stroke-linecap="round"/>
<line x1="1022.0" y1="184.2" x2="1057.8" y2="162.3" stroke="#c6c6c6" stroke-width="12.14" stroke-linecap="round"/>
<line x1="1021.5" y1="183.3" x2="1057.3" y2="161.5" stroke="#ededed" stroke-width="5.91" stroke-linecap="round"/>
<line x1="1014.6" y1="219.0" x2="1022.5" y2="185.0" stroke="#8e8e8e" stroke-width="13.13" stroke-linecap="round"/>
<line x1="1013.8" y1="218.8" x2="1021.8" y2="184.8" stroke="#c6c6c6" stroke-width="9.71" stroke-linecap="round"/>
<line x1="1013.0" y1="218.7" x2="1021.0" y2="184.6" stroke="#ededed" stroke-width="4.73" stroke-linecap="round"/>
<line x1="1058.3" y1="163.1" x2="1130.9" y2="159.2" stroke="#8e8e8e" stroke-width="13.13" stroke-linecap="round"/>
<line x1="1058.3" y1="162.3" x2="1130.9" y2="158.4" stroke="#c6c6c6" stroke-width="9.71" stroke-linecap="round"/>
<line x1="1058.2" y1="161.6" x2="1130.8" y2="157.6" stroke="#ededed" stroke-width="4.73" stroke-linecap="round"/>
<line x1="1068.3" y1="153.2" x2="1114.0" y2="123.4" stroke="#8e8e8e" stroke-width="10.94" stroke-linecap="round"/>
<line x1="1067.9" y1="152.6" x2="1113.7" y2="122.8" stroke="#c6c6c6" stroke-width="8.09" stroke-linecap="round"/>
<line x1="1067.6" y1="152.1" x2="1113.3" y2="122.3" stroke="#ededed" stroke-width="3.94" stroke-linecap="round"/>
<line x1="1018.6" y1="112.4" x2="1070.3" y2="107.4" stroke="#8e8e8e" stroke-width="8.75" stroke-linecap="round"/>
<line x1="1018.5" y1="111.9" x2="1070.2" y2="106.9" stroke="#c6c6c6" stroke-width="6.48" stroke-linecap="round"/>
<line x1="1018.5" y1="111.4" x2="1070.2" y2="106.4" stroke="#ededed" stroke-width="3.15" stroke-linecap="round"/>
<line x1="1070.3" y1="107.4" x2="1114.0" y2="120.4" stroke="#6a6a6a" stroke-width="8.75" stroke-linecap="round"/>
<line x1="1070.4" y1="106.9" x2="1114.2" y2="119.9" stroke="#9c9c9c" stroke-width="6.48" stroke-linecap="round"/>
<line x1="1070.6" y1="106.4" x2="1114.3" y2="119.4" stroke="#bdbdbd" stroke-width="3.15" stroke-linecap="round"/>
<line x1="1042.4" y1="95.5" x2="1051.4" y2="81.6" stroke="#8e8e8e" stroke-width="6.56" stroke-linecap="round"/>
<line x1="1042.1" y1="95.3" x2="1051.0" y2="81.4" stroke="#c6c6c6" stroke-width="4.86" stroke-linecap="round"/>
<line x1="1041.8" y1="95.1" x2="1050.7" y2="81.2" stroke="#ededed" stroke-width="2.36" stroke-linecap="round"/>
<line x1="1029.5" y1="88.5" x2="1042.4" y2="99.5" stroke="#6a6a6a" stroke-width="5.47" stroke-linecap="round"/>
<line x1="1029.7" y1="88.3" x2="1042.6" y2="99.2" stroke="#9c9c9c" stroke-width="4.05" stroke-linecap="round"/>
<line x1="1029.9" y1="88.0" x2="1042.8" y2="99.0" stroke="#bdbdbd" stroke-width="1.97" stroke-linecap="round"/>
<line x1="1040.4" y1="103.5" x2="1070.3" y2="107.4" stroke="#6a6a6a" stroke-width="3.28" stroke-linecap="round"/>
<line x1="1040.5" y1="103.3" x2="1070.3" y2="107.2" stroke="#9c9c9c" stroke-width="2.43" stroke-linecap="round"/>
<line x1="1040.5" y1="103.1" x2="1070.3" y2="107.1" stroke="#bdbdbd" stroke-width="1.18" stroke-linecap="round"/>
<line x1="1062.3" y1="147.2" x2="1070.3" y2="113.4" stroke="#6a6a6a" stroke-width="3.28" stroke-linecap="round"/>
<line x1="1062.1" y1="147.2" x2="1070.1" y2="113.4" stroke="#9c9c9c" stroke-width="2.43" stroke-linecap="round"/>
<line x1="1061.9" y1="147.1" x2="1069.9" y2="113.3" stroke="#bdbdbd" stroke-width="1.18" stroke-linecap="round"/>
<line x1="1030.5" y1="133.7" x2="1070.3" y2="111.4" stroke="#8e8e8e" stroke-width="1.75" stroke-linecap="round"/>
<line x1="1030.4" y1="133.6" x2="1070.2" y2="111.3" stroke="#c6c6c6" stroke-width="1.30" stroke-linecap="round"/>
<line x1="1030.4" y1="133.5" x2="1070.2" y2="111.2" stroke="#ededed" stroke-width="0.63" stroke-linecap="round"/>
<line x1="1017.6" y1="113.4" x2="1015.6" y2="125.3" stroke="#8e8e8e" stroke-width="2.19" stroke-linecap="round"/>
<line x1="1017.4" y1="113.4" x2="1015.4" y2="125.3" stroke="#c6c6c6" stroke-width="1.62" stroke-linecap="round"/>
<line x1="1017.3" y1="113.4" x2="1015.3" y2="125.3" stroke="#ededed" stroke-width="0.79" stroke-linecap="round"/>
<line x1="997.7" y1="184.0" x2="1007.6" y2="185.0" stroke="#6a6a6a" stroke-width="2.63" stroke-linecap="round"/>
<line x1="997.7" y1="183.9" x2="1007.6" y2="184.9" stroke="#9c9c9c" stroke-width="1.94" stroke-linecap="round"/>
<line x1="997.7" y1="183.7" x2="1007.6" y2="184.7" stroke="#bdbdbd" stroke-width="0.95" stroke-linecap="round"/>
<line x1="1068.3" y1="191.0" x2="1054.4" y2="206.9" stroke="#6a6a6a" stroke-width="9.84" stroke-linecap="round"/>
<line x1="1067.8" y1="190.6" x2="1053.9" y2="206.5" stroke="#9c9c9c" stroke-width="7.29" stroke-linecap="round"/>
<line x1="1067.4" y1="190.2" x2="1053.5" y2="206.1" stroke="#bdbdbd" stroke-width="3.54" stroke-linecap="round"/>
<line x1="1050.4" y1="219.0" x2="1058.3" y2="206.9" stroke="#8e8e8e" stroke-width="6.56" stroke-linecap="round"/>
<line x1="1050.0" y1="218.8" x2="1058.0" y2="206.7" stroke="#c6c6c6" stroke-width="4.86" stroke-linecap="round"/>
<line x1="1049.7" y1="218.6" x2="1057.7" y2="206.5" stroke="#ededed" stroke-width="2.36" stroke-linecap="round"/>
<line x1="1058.3" y1="208.9" x2="1110.0" y2="212.9" stroke="#8e8e8e" stroke-width="8.75" stroke-linecap="round"/>
<line x1="1058.4" y1="208.4" x2="1110.1" y2="212.3" stroke="#c6c6c6" stroke-width="6.48" stroke-linecap="round"/>
<line x1="1058.4" y1="207.8" x2="1110.1" y2="211.8" stroke="#ededed" stroke-width="3.15" stroke-linecap="round"/>
<line x1="1074.2" y1="191.0" x2="1114.0" y2="198.9" stroke="#8e8e8e" stroke-width="6.56" stroke-linecap="round"/>
<line x1="1074.3" y1="190.6" x2="1114.1" y2="198.5" stroke="#c6c6c6" stroke-width="4.86" stroke-linecap="round"/>
<line x1="1074.4" y1="190.2" x2="1114.2" y2="198.2" stroke="#ededed" stroke-width="2.36" stroke-linecap="round"/>
<line x1="1070.3" y1="187.0" x2="1110.0" y2="167.1" stroke="#8e8e8e" stroke-width="5.47" stroke-linecap="round"/>
<line x1="1070.1" y1="186.7" x2="1109.9" y2="166.8" stroke="#c6c6c6" stroke-width="4.05" stroke-linecap="round"/>
<line x1="1070.0" y1="186.4" x2="1109.7" y2="166.5" stroke="#ededed" stroke-width="1.97" stroke-linecap="round"/>
<line x1="1114.0" y1="167.1" x2="1137.9" y2="159.2" stroke="#8e8e8e" stroke-width="2.19" stroke-linecap="round"/>
<line x1="1114.0" y1="167.0" x2="1137.8" y2="159.0" stroke="#c6c6c6" stroke-width="1.62" stroke-linecap="round"/>
<line x1="1113.9" y1="166.9" x2="1137.8" y2="158.9" stroke="#ededed" stroke-width="0.79" stroke-linecap="round"/>
<line x1="1118.0" y1="219.0" x2="1129.9" y2="163.1" stroke="#6a6a6a" stroke-width="9.84" stroke-linecap="round"/>
<line x1="1117.4" y1="218.9" x2="1129.4" y2="163.0" stroke="#9c9c9c" stroke-width="7.29" stroke-linecap="round"/>
<line x1="1116.8" y1="218.8" x2="1128.8" y2="162.9" stroke="#bdbdbd" stroke-width="3.54" stroke-linecap="round"/>
<line x1="1135.9" y1="167.1" x2="1154.0" y2="219.0" stroke="#8e8e8e" stroke-width="9.84" stroke-linecap="round"/>
<line x1="1135.3" y1="167.3" x2="1153.4" y2="219.2" stroke="#c6c6c6" stroke-width="7.29" stroke-linecap="round"/>
<line x1="1134.8" y1="167.5" x2="1152.9" y2="219.4" stroke="#ededed" stroke-width="3.54" stroke-linecap="round"/>
<line x1="1129.9" y1="206.9" x2="1154.0" y2="196.9" stroke="#8e8e8e" stroke-width="8.75" stroke-linecap="round"/>
<line x1="1129.7" y1="206.4" x2="1153.8" y2="196.5" stroke="#c6c6c6" stroke-width="6.48" stroke-linecap="round"/>
<line x1="1129.5" y1="205.9" x2="1153.6" y2="196.0" stroke="#ededed" stroke-width="3.15" stroke-linecap="round"/>
<line x1="1104.1" y1="95.5" x2="1129.9" y2="71.6" stroke="#8e8e8e" stroke-width="7.66" stroke-linecap="round"/>
<line x1="1103.8" y1="95.2" x2="1129.6" y2="71.3" stroke="#c6c6c6" stroke-width="5.67" stroke-linecap="round"/>
<line x1="1103.5" y1="94.8" x2="1129.3" y2="71.0" stroke="#ededed" stroke-width="2.76" stroke-linecap="round"/>
<line x1="1108.1" y1="83.6" x2="1137.9" y2="82.6" stroke="#8e8e8e" stroke-width="6.56" stroke-linecap="round"/>
<line x1="1108.0" y1="83.2" x2="1137.9" y2="82.2" stroke="#c6c6c6" stroke-width="4.86" stroke-linecap="round"/>
<line x1="1108.0" y1="82.8" x2="1137.9" y2="81.8" stroke="#ededed" stroke-width="2.36" stroke-linecap="round"/>
<line x1="1100.1" y1="86.6" x2="1094.1" y2="103.5" stroke="#8e8e8e" stroke-width="4.38" stroke-linecap="round"/>
<line x1="1099.9" y1="86.5" x2="1093.9" y2="103.4" stroke="#c6c6c6" stroke-width="3.24" stroke-linecap="round"/>
<line x1="1099.6" y1="86.4" x2="1093.6" y2="103.3" stroke="#ededed" stroke-width="1.58" stroke-linecap="round"/>
<line x1="1104.1" y1="87.6" x2="1104.1" y2="107.4" stroke="#8e8e8e" stroke-width="5.47" stroke-linecap="round"/>
<line x1="1103.7" y1="87.6" x2="1103.7" y2="107.4" stroke="#c6c6c6" stroke-width="4.05" stroke-linecap="round"/>
<line x1="1103.4" y1="87.6" x2="1103.4" y2="107.4" stroke="#ededed" stroke-width="1.97" stroke-linecap="round"/>
<line x1="1112.0" y1="87.6" x2="1129.9" y2="115.4" stroke="#8e8e8e" stroke-width="4.38" stroke-linecap="round"/>
<line x1="1111.8" y1="87.7" x2="1129.7" y2="115.5" stroke="#c6c6c6" stroke-width="3.24" stroke-linecap="round"/>
<line x1="1111.6" y1="87.8" x2="1129.5" y2="115.7" stroke="#ededed" stroke-width="1.58" stroke-linecap="round"/>
<line x1="1122.0" y1="87.6" x2="1110.0" y2="115.4" stroke="#8e8e8e" stroke-width="3.28" stroke-linecap="round"/>
<line x1="1121.8" y1="87.5" x2="1109.9" y2="115.3" stroke="#c6c6c6" stroke-width="2.43" stroke-linecap="round"/>
<line x1="1121.6" y1="87.4" x2="1109.7" y2="115.2" stroke="#ededed" stroke-width="1.18" stroke-linecap="round"/>
<line x1="1137.9" y1="65.7" x2="1154.0" y2="71.6" stroke="#8e8e8e" stroke-width="6.56" stroke-linecap="round"/>
<line x1="1138.0" y1="65.3" x2="1154.1" y2="71.3" stroke="#c6c6c6" stroke-width="4.86" stroke-linecap="round"/>
<line x1="1138.2" y1="64.9" x2="1154.3" y2="70.9" stroke="#ededed" stroke-width="2.36" stroke-linecap="round"/>
<line x1="1141.9" y1="81.6" x2="1154.0" y2="95.5" stroke="#8e8e8e" stroke-width="4.38" stroke-linecap="round"/>
<line x1="1141.7" y1="81.8" x2="1153.8" y2="95.7" stroke="#c6c6c6" stroke-width="3.24" stroke-linecap="round"/>
<line x1="1141.5" y1="81.9" x2="1153.6" y2="95.9" stroke="#ededed" stroke-width="1.58" stroke-linecap="round"/>
<line x1="1129.9" y1="87.6" x2="1126.0" y2="107.4" stroke="#6a6a6a" stroke-width="2.19" stroke-linecap="round"/>
<line x1="1129.8" y1="87.5" x2="1125.8" y2="107.4" stroke="#9c9c9c" stroke-width="1.62" stroke-linecap="round"/>
<line x1="1129.7" y1="87.5" x2="1125.7" y2="107.4" stroke="#bdbdbd" stroke-width="0.79" stroke-linecap="round"/>
<line x1="1126.0" y1="119.4" x2="1154.0" y2="127.3" stroke="#8e8e8e" stroke-width="6.56" stroke-linecap="round"/>
<line x1="1126.1" y1="119.0" x2="1154.1" y2="127.0" stroke="#c6c6c6" stroke-width="4.86" stroke-linecap="round"/>
<line x1="1126.2" y1="118.6" x2="1154.2" y2="126.6" stroke="#ededed" stroke-width="2.36" stroke-linecap="round"/>
<line x1="1110.0" y1="131.3" x2="1131.9" y2="159.2" stroke="#8e8e8e" stroke-width="5.47" stroke-linecap="round"/>
<line x1="1109.8" y1="131.5" x2="1131.7" y2="159.4" stroke="#c6c6c6" stroke-width="4.05" stroke-linecap="round"/>
<line x1="1109.5" y1="131.7" x2="1131.4" y2="159.6" stroke="#ededed" stroke-width="1.97" stroke-linecap="round"/>
<line x1="1118.0" y1="135.3" x2="1133.9" y2="159.2" stroke="#8e8e8e" stroke-width="4.38" stroke-linecap="round"/>
<line x1="1117.8" y1="135.4" x2="1133.7" y2="159.3" stroke="#c6c6c6" stroke-width="3.24" stroke-linecap="round"/>
<line x1="1117.6" y1="135.6" x2="1133.5" y2="159.4" stroke="#ededed" stroke-width="1.58" stroke-linecap="round"/>
<line x1="1141.9" y1="147.2" x2="1154.0" y2="155.2" stroke="#8e8e8e" stroke-width="4.38" stroke-linecap="round"/>
<line x1="1142.0" y1="147.0" x2="1154.1" y2="155.0" stroke="#c6c6c6" stroke-width="3.24" stroke-linecap="round"/>
<line x1="1142.2" y1="146.8" x2="1154.3" y2="154.7" stroke="#ededed" stroke-width="1.58" stroke-linecap="round"/>
<line x1="1122.0" y1="196.9" x2="1154.0" y2="206.9" stroke="#8e8e8e" stroke-width="3.28" stroke-linecap="round"/>
<line x1="1122.0" y1="196.8" x2="1154.1" y2="206.7" stroke="#c6c6c6" stroke-width="2.43" stroke-linecap="round"/>
<line x1="1122.1" y1="196.6" x2="1154.1" y2="206.5" stroke="#ededed" stroke-width="1.18" stroke-linecap="round"/>
<line x1="1078.2" y1="181.0" x2="1090.2" y2="163.1" stroke="#8e8e8e" stroke-width="1.75" stroke-linecap="round"/>
<line x1="1078.1" y1="181.0" x2="1090.1" y2="163.1" stroke="#c6c6c6" stroke-width="1.30" stroke-linecap="round"/>
<line x1="1078.0" y1="180.9" x2="1090.0" y2="163.0" stroke="#ededed" stroke-width="0.63" stroke-linecap="round"/>
<line x1="1054.4" y1="81.6" x2="1070.3" y2="85.6" stroke="#8e8e8e" stroke-width="1.75" stroke-linecap="round"/>
<line x1="1054.4" y1="81.5" x2="1070.3" y2="85.5" stroke="#c6c6c6" stroke-width="1.30" stroke-linecap="round"/>
<line x1="1054.4" y1="81.4" x2="1070.3" y2="85.4" stroke="#ededed" stroke-width="0.63" stroke-linecap="round"/>
<line x1="1110.0" y1="99.5" x2="1154.0" y2="115.4" stroke="#8e8e8e" stroke-width="3.28" stroke-linecap="round"/>
<line x1="1110.1" y1="99.3" x2="1154.1" y2="115.2" stroke="#c6c6c6" stroke-width="2.43" stroke-linecap="round"/>
<line x1="1110.2" y1="99.1" x2="1154.1" y2="115.0" stroke="#ededed" stroke-width="1.18" stroke-linecap="round"/>
<line x1="1237.5" y1="131.3" x2="1281.3" y2="97.5" stroke="#8e8e8e" stroke-width="15.31" stroke-linecap="round"/>
<line x1="1237.0" y1="130.6" x2="1280.7" y2="96.8" stroke="#c6c6c6" stroke-width="11.33" stroke-linecap="round"/>
<line x1="1236.4" y1="129.9" x2="1280.2" y2="96.0" stroke="#ededed" stroke-width="5.51" stroke-linecap="round"/>
<line x1="1253.4" y1="87.6" x2="1281.3" y2="95.5" stroke="#6a6a6a" stroke-width="13.13" stroke-linecap="round"/>
<line x1="1253.7" y1="86.8" x2="1281.5" y2="94.8" stroke="#9c9c9c" stroke-width="9.71" stroke-linecap="round"/>
<line x1="1253.9" y1="86.0" x2="1281.7" y2="94.0" stroke="#bdbdbd" stroke-width="4.73" stroke-linecap="round"/>
<line x1="1279.3" y1="67.7" x2="1297.2" y2="94.5" stroke="#6a6a6a" stroke-width="9.84" stroke-linecap="round"/>
<line x1="1278.8" y1="68.0" x2="1296.7" y2="94.8" stroke="#9c9c9c" stroke-width="7.29" stroke-linecap="round"/>
<line x1="1278.3" y1="68.3" x2="1296.2" y2="95.2" stroke="#bdbdbd" stroke-width="3.54" stroke-linecap="round"/>
<line x1="1297.2" y1="94.5" x2="1307.1" y2="118.4" stroke="#6a6a6a" stroke-width="7.66" stroke-linecap="round"/>
<line x1="1296.8" y1="94.7" x2="1306.7" y2="118.6" stroke="#9c9c9c" stroke-width="5.67" stroke-linecap="round"/>
<line x1="1296.3" y1="94.9" x2="1306.3" y2="118.7" stroke="#bdbdbd" stroke-width="2.76" stroke-linecap="round"/>
<line x1="1261.4" y1="73.6" x2="1281.3" y2="83.6" stroke="#8e8e8e" stroke-width="4.38" stroke-linecap="round"/>
<line x1="1261.5" y1="73.4" x2="1281.4" y2="83.3" stroke="#c6c6c6" stroke-width="3.24" stroke-linecap="round"/>
<line x1="1261.6" y1="73.2" x2="1281.5" y2="83.1" stroke="#ededed" stroke-width="1.58" stroke-linecap="round"/>
<line x1="1271.3" y1="69.7" x2="1261.4" y2="75.6" stroke="#8e8e8e" stroke-width="3.28" stroke-linecap="round"/>
<line x1="1271.2" y1="69.5" x2="1261.3" y2="75.5" stroke="#c6c6c6" stroke-width="2.43" stroke-linecap="round"/>
<line x1="1271.1" y1="69.3" x2="1261.2" y2="75.3" stroke="#ededed" stroke-width="1.18" stroke-linecap="round"/>
<line x1="1209.7" y1="105.5" x2="1253.4" y2="95.5" stroke="#8e8e8e" stroke-width="9.84" stroke-linecap="round"/>
<line x1="1209.6" y1="104.9" x2="1253.3" y2="94.9" stroke="#c6c6c6" stroke-width="7.29" stroke-linecap="round"/>
<line x1="1209.4" y1="104.3" x2="1253.2" y2="94.4" stroke="#ededed" stroke-width="3.54" stroke-linecap="round"/>
<line x1="1209.7" y1="105.5" x2="1233.6" y2="135.3" stroke="#6a6a6a" stroke-width="9.84" stroke-linecap="round"/>
<line x1="1209.2" y1="105.8" x2="1233.1" y2="135.7" stroke="#9c9c9c" stroke-width="7.29" stroke-linecap="round"/>
<line x1="1208.8" y1="106.2" x2="1232.6" y2="136.0" stroke="#bdbdbd" stroke-width="3.54" stroke-linecap="round"/>
<line x1="1233.6" y1="137.3" x2="1265.4" y2="189.0" stroke="#8e8e8e" stroke-width="6.56" stroke-linecap="round"/>
<line x1="1233.2" y1="137.5" x2="1265.0" y2="189.2" stroke="#c6c6c6" stroke-width="4.86" stroke-linecap="round"/>
<line x1="1232.9" y1="137.7" x2="1264.7" y2="189.4" stroke="#ededed" stroke-width="2.36" stroke-linecap="round"/>
<line x1="1266.4" y1="189.0" x2="1300.2" y2="175.1" stroke="#8e8e8e" stroke-width="6.56" stroke-linecap="round"/>
<line x1="1266.2" y1="188.6" x2="1300.0" y2="174.7" stroke="#c6c6c6" stroke-width="4.86" stroke-linecap="round"/>
<line x1="1266.1" y1="188.3" x2="1299.9" y2="174.3" stroke="#ededed" stroke-width="2.36" stroke-linecap="round"/>
<line x1="1289.2" y1="116.4" x2="1300.2" y2="175.1" stroke="#8e8e8e" stroke-width="5.47" stroke-linecap="round"/>
<line x1="1288.9" y1="116.5" x2="1299.9" y2="175.1" stroke="#c6c6c6" stroke-width="4.05" stroke-linecap="round"/>
<line x1="1288.6" y1="116.5" x2="1299.5" y2="175.2" stroke="#ededed" stroke-width="1.97" stroke-linecap="round"/>
<line x1="1282.3" y1="111.4" x2="1282.3" y2="165.1" stroke="#8e8e8e" stroke-width="2.19" stroke-linecap="round"/>
<line x1="1282.2" y1="111.4" x2="1282.2" y2="165.1" stroke="#c6c6c6" stroke-width="1.62" stroke-linecap="round"/>
<line x1="1282.0" y1="111.4" x2="1282.0" y2="165.1" stroke="#ededed" stroke-width="0.79" stroke-linecap="round"/>
<line x1="1266.4" y1="189.0" x2="1273.3" y2="219.0" stroke="#8e8e8e" stroke-width="6.56" stroke-linecap="round"/>
<line x1="1266.0" y1="189.1" x2="1272.9" y2="219.1" stroke="#c6c6c6" stroke-width="4.86" stroke-linecap="round"/>
<line x1="1265.6" y1="189.2" x2="1272.6" y2="219.2" stroke="#ededed" stroke-width="2.36" stroke-linecap="round"/>
<line x1="1223.6" y1="171.1" x2="1254.4" y2="203.9" stroke="#8e8e8e" stroke-width="8.75" stroke-linecap="round"/>
<line x1="1223.2" y1="171.4" x2="1254.1" y2="204.3" stroke="#c6c6c6" stroke-width="6.48" stroke-linecap="round"/>
<line x1="1222.8" y1="171.8" x2="1253.7" y2="204.6" stroke="#ededed" stroke-width="3.15" stroke-linecap="round"/>
<line x1="1181.8" y1="137.3" x2="1181.8" y2="161.1" stroke="#8e8e8e" stroke-width="5.47" stroke-linecap="round"/>
<line x1="1181.5" y1="137.3" x2="1181.5" y2="161.1" stroke="#c6c6c6" stroke-width="4.05" stroke-linecap="round"/>
<line x1="1181.2" y1="137.3" x2="1181.2" y2="161.1" stroke="#ededed" stroke-width="1.97" stroke-linecap="round"/>
<line x1="1181.8" y1="161.1" x2="1189.8" y2="204.9" stroke="#8e8e8e" stroke-width="6.56" stroke-linecap="round"/>
<line x1="1181.5" y1="161.2" x2="1189.4" y2="205.0" stroke="#c6c6c6" stroke-width="4.86" stroke-linecap="round"/>
<line x1="1181.1" y1="161.3" x2="1189.0" y2="205.0" stroke="#ededed" stroke-width="2.36" stroke-linecap="round"/>
<line x1="1154.0" y1="155.2" x2="1181.8" y2="161.1" stroke="#8e8e8e" stroke-width="8.75" stroke-linecap="round"/>
<line x1="1154.1" y1="154.7" x2="1182.0" y2="160.6" stroke="#c6c6c6" stroke-width="6.48" stroke-linecap="round"/>
<line x1="1154.2" y1="154.1" x2="1182.1" y2="160.1" stroke="#ededed" stroke-width="3.15" stroke-linecap="round"/>
<line x1="1154.0" y1="173.1" x2="1189.8" y2="204.9" stroke="#8e8e8e" stroke-width="5.47" stroke-linecap="round"/>
<line x1="1154.2" y1="172.8" x2="1190.0" y2="204.7" stroke="#c6c6c6" stroke-width="4.05" stroke-linecap="round"/>
<line x1="1154.4" y1="172.6" x2="1190.2" y2="204.4" stroke="#ededed" stroke-width="1.97" stroke-linecap="round"/>
<line x1="1189.8" y1="204.9" x2="1230.6" y2="216.8" stroke="#8e8e8e" stroke-width="6.56" stroke-linecap="round"/>
<line x1="1189.9" y1="204.5" x2="1230.7" y2="216.5" stroke="#c6c6c6" stroke-width="4.86" stroke-linecap="round"/>
<line x1="1190.0" y1="204.1" x2="1230.8" y2="216.1" stroke="#ededed" stroke-width="2.36" stroke-linecap="round"/>
<line x1="1189.8" y1="153.2" x2="1223.6" y2="139.3" stroke="#8e8e8e" stroke-width="5.47" stroke-linecap="round"/>
<line x1="1189.7" y1="152.9" x2="1223.5" y2="139.0" stroke="#c6c6c6" stroke-width="4.05" stroke-linecap="round"/>
<line x1="1189.5" y1="152.6" x2="1223.4" y2="138.7" stroke="#ededed" stroke-width="1.97" stroke-linecap="round"/>
<line x1="1193.8" y1="137.3" x2="1233.6" y2="139.3" stroke="#8e8e8e" stroke-width="6.56" stroke-linecap="round"/>
<line x1="1193.8" y1="136.9" x2="1233.6" y2="138.9" stroke="#c6c6c6" stroke-width="4.86" stroke-linecap="round"/>
<line x1="1193.8" y1="136.5" x2="1233.6" y2="138.5" stroke="#ededed" stroke-width="2.36" stroke-linecap="round"/>
<line x1="1154.0" y1="97.5" x2="1175.9" y2="101.5" stroke="#8e8e8e" stroke-width="5.47" stroke-linecap="round"/>
<line x1="1154.1" y1="97.2" x2="1175.9" y2="101.2" stroke="#c6c6c6" stroke-width="4.05" stroke-linecap="round"/>
<line x1="1154.1" y1="96.9" x2="1176.0" y2="100.8" stroke="#ededed" stroke-width="1.97" stroke-linecap="round"/>
<line x1="1175.9" y1="101.5" x2="1203.7" y2="99.5" stroke="#8e8e8e" stroke-width="4.38" stroke-linecap="round"/>
<line x1="1175.9" y1="101.2" x2="1203.7" y2="99.2" stroke="#c6c6c6" stroke-width="3.24" stroke-linecap="round"/>
<line x1="1175.8" y1="101.0" x2="1203.7" y2="99.0" stroke="#ededed" stroke-width="1.58" stroke-linecap="round"/>
<line x1="1169.9" y1="113.4" x2="1193.8" y2="127.3" stroke="#6a6a6a" stroke-width="6.56" stroke-linecap="round"/>
<line x1="1170.1" y1="113.1" x2="1194.0" y2="127.0" stroke="#9c9c9c" stroke-width="4.86" stroke-linecap="round"/>
<line x1="1170.3" y1="112.7" x2="1194.2" y2="126.7" stroke="#bdbdbd" stroke-width="2.36" stroke-linecap="round"/>
<line x1="1154.0" y1="119.4" x2="1169.9" y2="113.4" stroke="#8e8e8e" stroke-width="4.38" stroke-linecap="round"/>
<line x1="1153.9" y1="119.1" x2="1169.8" y2="113.2" stroke="#c6c6c6" stroke-width="3.24" stroke-linecap="round"/>
<line x1="1153.8" y1="118.9" x2="1169.7" y2="112.9" stroke="#ededed" stroke-width="1.58" stroke-linecap="round"/>
<line x1="1160.0" y1="72.6" x2="1160.0" y2="91.5" stroke="#8e8e8e" stroke-width="5.47" stroke-linecap="round"/>
<line x1="1159.6" y1="72.6" x2="1159.6" y2="91.5" stroke="#c6c6c6" stroke-width="4.05" stroke-linecap="round"/>
<line x1="1159.3" y1="72.6" x2="1159.3" y2="91.5" stroke="#ededed" stroke-width="1.97" stroke-linecap="round"/>
<line x1="1183.8" y1="93.5" x2="1189.8" y2="89.5" stroke="#6a6a6a" stroke-width="6.56" stroke-linecap="round"/>
<line x1="1183.6" y1="93.2" x2="1189.6" y2="89.2" stroke="#9c9c9c" stroke-width="4.86" stroke-linecap="round"/>
<line x1="1183.4" y1="92.9" x2="1189.4" y2="88.9" stroke="#bdbdbd" stroke-width="2.36" stroke-linecap="round"/>
<line x1="1173.9" y1="123.4" x2="1181.8" y2="135.3" stroke="#8e8e8e" stroke-width="3.28" stroke-linecap="round"/>
<line x1="1173.7" y1="123.5" x2="1181.7" y2="135.4" stroke="#c6c6c6" stroke-width="2.43" stroke-linecap="round"/>
<line x1="1173.6" y1="123.6" x2="1181.5" y2="135.5" stroke="#ededed" stroke-width="1.18" stroke-linecap="round"/>
<line x1="1217.6" y1="53.7" x2="1233.6" y2="63.7" stroke="#8e8e8e" stroke-width="1.09" stroke-linecap="round"/>
<line x1="1203.7" y1="143.2" x2="1201.7" y2="219.0" stroke="#8e8e8e" stroke-width="3.28" stroke-linecap="round"/>
<line x1="1203.5" y1="143.2" x2="1201.5" y2="219.0" stroke="#c6c6c6" stroke-width="2.43" stroke-linecap="round"/>
<line x1="1203.3" y1="143.2" x2="1201.3" y2="219.0" stroke="#ededed" stroke-width="1.18" stroke-linecap="round"/>
<line x1="1154.0" y1="187.0" x2="1193.8" y2="219.0" stroke="#8e8e8e" stroke-width="4.38" stroke-linecap="round"/>
<line x1="1154.2" y1="186.8" x2="1193.9" y2="218.8" stroke="#c6c6c6" stroke-width="3.24" stroke-linecap="round"/>
<line x1="1154.3" y1="186.6" x2="1194.1" y2="218.6" stroke="#ededed" stroke-width="1.58" stroke-linecap="round"/>
<line x1="1213.7" y1="147.2" x2="1193.8" y2="206.9" stroke="#8e8e8e" stroke-width="3.28" stroke-linecap="round"/>
<line x1="1213.5" y1="147.2" x2="1193.6" y2="206.8" stroke="#c6c6c6" stroke-width="2.43" stroke-linecap="round"/>
<line x1="1213.3" y1="147.1" x2="1193.4" y2="206.8" stroke="#ededed" stroke-width="1.18" stroke-linecap="round"/>
<line x1="1227.6" y1="147.2" x2="1213.7" y2="206.9" stroke="#8e8e8e" stroke-width="3.28" stroke-linecap="round"/>
<line x1="1227.4" y1="147.2" x2="1213.5" y2="206.8" stroke="#c6c6c6" stroke-width="2.43" stroke-linecap="round"/>
<line x1="1227.2" y1="147.1" x2="1213.3" y2="206.8" stroke="#ededed" stroke-width="1.18" stroke-linecap="round"/>
<line x1="1243.5" y1="147.2" x2="1249.5" y2="167.1" stroke="#8e8e8e" stroke-width="2.19" stroke-linecap="round"/>
<line x1="1243.4" y1="147.3" x2="1249.3" y2="167.1" stroke="#c6c6c6" stroke-width="1.62" stroke-linecap="round"/>
<line x1="1243.2" y1="147.3" x2="1249.2" y2="167.2" stroke="#ededed" stroke-width="0.79" stroke-linecap="round"/>
<line x1="1157.0" y1="141.3" x2="1157.0" y2="163.1" stroke="#6a6a6a" stroke-width="2.19" stroke-linecap="round"/>
<line x1="1156.9" y1="141.3" x2="1156.9" y2="163.1" stroke="#9c9c9c" stroke-width="1.62" stroke-linecap="round"/>
<line x1="1156.7" y1="141.3" x2="1156.7" y2="163.1" stroke="#bdbdbd" stroke-width="0.79" stroke-linecap="round"/>
<line x1="1281.3" y1="210.9" x2="1303.2" y2="204.9" stroke="#6a6a6a" stroke-width="6.56" stroke-linecap="round"/>
<line x1="1281.2" y1="210.5" x2="1303.1" y2="204.5" stroke="#9c9c9c" stroke-width="4.86" stroke-linecap="round"/>
<line x1="1281.1" y1="210.1" x2="1303.0" y2="204.1" stroke="#bdbdbd" stroke-width="2.36" stroke-linecap="round"/>
<line x1="1154.0" y1="167.1" x2="1203.7" y2="177.1" stroke="#8e8e8e" stroke-width="2.19" stroke-linecap="round"/>
<line x1="1154.0" y1="167.0" x2="1203.7" y2="176.9" stroke="#c6c6c6" stroke-width="1.62" stroke-linecap="round"/>
<line x1="1154.1" y1="166.9" x2="1203.8" y2="176.8" stroke="#ededed" stroke-width="0.79" stroke-linecap="round"/>
<line x1="1154.0" y1="183.0" x2="1181.8" y2="179.0" stroke="#8e8e8e" stroke-width="2.19" stroke-linecap="round"/>
<line x1="1154.0" y1="182.9" x2="1181.8" y2="178.9" stroke="#c6c6c6" stroke-width="1.62" stroke-linecap="round"/>
<line x1="1154.0" y1="182.8" x2="1181.8" y2="178.8" stroke="#ededed" stroke-width="0.79" stroke-linecap="round"/>
<line x1="1165.9" y1="147.2" x2="1193.8" y2="187.0" stroke="#8e8e8e" stroke-width="1.75" stroke-linecap="round"/>
<line x1="1165.8" y1="147.3" x2="1193.7" y2="187.1" stroke="#c6c6c6" stroke-width="1.30" stroke-linecap="round"/>
<line x1="1165.8" y1="147.3" x2="1193.6" y2="187.1" stroke="#ededed" stroke-width="0.63" stroke-linecap="round"/>
<line x1="1015.0" y1="219.0" x2="1006.6" y2="252.8" stroke="#8e8e8e" stroke-width="10.94" stroke-linecap="round"/>
<line x1="1014.3" y1="218.8" x2="1006.0" y2="252.7" stroke="#c6c6c6" stroke-width="8.09" stroke-linecap="round"/>
<line x1="1013.7" y1="218.7" x2="1005.3" y2="252.5" stroke="#ededed" stroke-width="3.94" stroke-linecap="round"/>
<line x1="1006.6" y1="252.8" x2="1059.3" y2="252.8" stroke="#8e8e8e" stroke-width="10.94" stroke-linecap="round"/>
<line x1="1006.6" y1="252.2" x2="1059.3" y2="252.2" stroke="#c6c6c6" stroke-width="8.09" stroke-linecap="round"/>
<line x1="1006.6" y1="251.5" x2="1059.3" y2="251.5" stroke="#ededed" stroke-width="3.94" stroke-linecap="round"/>
<line x1="1059.3" y1="252.8" x2="1107.1" y2="244.9" stroke="#8e8e8e" stroke-width="13.13" stroke-linecap="round"/>
<line x1="1059.2" y1="252.0" x2="1106.9" y2="244.1" stroke="#c6c6c6" stroke-width="9.71" stroke-linecap="round"/>
<line x1="1059.1" y1="251.3" x2="1106.8" y2="243.3" stroke="#ededed" stroke-width="4.73" stroke-linecap="round"/>
<line x1="1006.6" y1="252.8" x2="1006.6" y2="273.7" stroke="#6a6a6a" stroke-width="9.84" stroke-linecap="round"/>
<line x1="1006.0" y1="252.8" x2="1006.0" y2="273.7" stroke="#9c9c9c" stroke-width="7.29" stroke-linecap="round"/>
<line x1="1005.4" y1="252.8" x2="1005.4" y2="273.7" stroke="#bdbdbd" stroke-width="3.54" stroke-linecap="round"/>
<line x1="1006.6" y1="273.7" x2="1041.4" y2="300.5" stroke="#8e8e8e" stroke-width="7.66" stroke-linecap="round"/>
<line x1="1006.9" y1="273.3" x2="1041.7" y2="300.2" stroke="#c6c6c6" stroke-width="5.67" stroke-linecap="round"/>
<line x1="1007.2" y1="273.0" x2="1042.0" y2="299.8" stroke="#ededed" stroke-width="2.76" stroke-linecap="round"/>
<line x1="1041.4" y1="300.5" x2="1025.5" y2="334.4" stroke="#8e8e8e" stroke-width="12.03" stroke-linecap="round"/>
<line x1="1040.8" y1="300.2" x2="1024.9" y2="334.0" stroke="#c6c6c6" stroke-width="8.90" stroke-linecap="round"/>
<line x1="1040.1" y1="299.9" x2="1024.2" y2="333.7" stroke="#ededed" stroke-width="4.33" stroke-linecap="round"/>
<line x1="1024.5" y1="334.4" x2="1004.6" y2="320.4" stroke="#8e8e8e" stroke-width="2.63" stroke-linecap="round"/>
<line x1="1024.6" y1="334.2" x2="1004.7" y2="320.3" stroke="#c6c6c6" stroke-width="1.94" stroke-linecap="round"/>
<line x1="1024.7" y1="334.1" x2="1004.8" y2="320.2" stroke="#ededed" stroke-width="0.95" stroke-linecap="round"/>
<line x1="1059.3" y1="252.8" x2="1098.1" y2="287.6" stroke="#8e8e8e" stroke-width="13.13" stroke-linecap="round"/>
<line x1="1059.9" y1="252.2" x2="1098.6" y2="287.0" stroke="#c6c6c6" stroke-width="9.71" stroke-linecap="round"/>
<line x1="1060.4" y1="251.6" x2="1099.2" y2="286.4" stroke="#ededed" stroke-width="4.73" stroke-linecap="round"/>
<line x1="1014.6" y1="268.7" x2="1050.4" y2="258.8" stroke="#8e8e8e" stroke-width="5.47" stroke-linecap="round"/>
<line x1="1014.5" y1="268.4" x2="1050.3" y2="258.5" stroke="#c6c6c6" stroke-width="4.05" stroke-linecap="round"/>
<line x1="1014.4" y1="268.1" x2="1050.2" y2="258.1" stroke="#ededed" stroke-width="1.97" stroke-linecap="round"/>
<line x1="1050.4" y1="298.6" x2="1090.2" y2="290.6" stroke="#8e8e8e" stroke-width="5.47" stroke-linecap="round"/>
<line x1="1050.3" y1="298.2" x2="1090.1" y2="290.3" stroke="#c6c6c6" stroke-width="4.05" stroke-linecap="round"/>
<line x1="1050.2" y1="297.9" x2="1090.0" y2="290.0" stroke="#ededed" stroke-width="1.97" stroke-linecap="round"/>
<line x1="1048.4" y1="304.5" x2="1086.2" y2="318.4" stroke="#8e8e8e" stroke-width="4.38" stroke-linecap="round"/>
<line x1="1048.5" y1="304.3" x2="1086.3" y2="318.2" stroke="#c6c6c6" stroke-width="3.24" stroke-linecap="round"/>
<line x1="1048.6" y1="304.0" x2="1086.4" y2="318.0" stroke="#ededed" stroke-width="1.58" stroke-linecap="round"/>
<line x1="1034.5" y1="351.3" x2="1082.2" y2="334.4" stroke="#8e8e8e" stroke-width="6.56" stroke-linecap="round"/>
<line x1="1034.3" y1="350.9" x2="1082.1" y2="334.0" stroke="#c6c6c6" stroke-width="4.86" stroke-linecap="round"/>
<line x1="1034.2" y1="350.5" x2="1081.9" y2="333.6" stroke="#ededed" stroke-width="2.36" stroke-linecap="round"/>
<line x1="1034.5" y1="351.3" x2="1054.4" y2="330.4" stroke="#8e8e8e" stroke-width="4.38" stroke-linecap="round"/>
<line x1="1034.3" y1="351.1" x2="1054.2" y2="330.2" stroke="#c6c6c6" stroke-width="3.24" stroke-linecap="round"/>
<line x1="1034.1" y1="350.9" x2="1054.0" y2="330.0" stroke="#ededed" stroke-width="1.58" stroke-linecap="round"/>
<line x1="1056.3" y1="330.4" x2="1082.2" y2="332.4" stroke="#8e8e8e" stroke-width="5.47" stroke-linecap="round"/>
<line x1="1056.4" y1="330.0" x2="1082.2" y2="332.0" stroke="#c6c6c6" stroke-width="4.05" stroke-linecap="round"/>
<line x1="1056.4" y1="329.7" x2="1082.2" y2="331.7" stroke="#ededed" stroke-width="1.97" stroke-linecap="round"/>
<line x1="1030.5" y1="238.9" x2="1050.4" y2="219.0" stroke="#8e8e8e" stroke-width="10.94" stroke-linecap="round"/>
<line x1="1030.0" y1="238.4" x2="1049.9" y2="218.5" stroke="#c6c6c6" stroke-width="8.09" stroke-linecap="round"/>
<line x1="1029.6" y1="238.0" x2="1049.4" y2="218.1" stroke="#ededed" stroke-width="3.94" stroke-linecap="round"/>
<line x1="1056.3" y1="219.0" x2="1066.3" y2="244.9" stroke="#8e8e8e" stroke-width="4.38" stroke-linecap="round"/>
<line x1="1056.1" y1="219.1" x2="1066.0" y2="244.9" stroke="#c6c6c6" stroke-width="3.24" stroke-linecap="round"/>
<line x1="1055.9" y1="219.2" x2="1065.8" y2="245.0" stroke="#ededed" stroke-width="1.58" stroke-linecap="round"/>
<line x1="1102.1" y1="258.8" x2="1098.1" y2="287.6" stroke="#8e8e8e" stroke-width="8.75" stroke-linecap="round"/>
<line x1="1101.6" y1="258.7" x2="1097.6" y2="287.5" stroke="#c6c6c6" stroke-width="6.48" stroke-linecap="round"/>
<line x1="1101.0" y1="258.6" x2="1097.1" y2="287.5" stroke="#ededed" stroke-width="3.15" stroke-linecap="round"/>
<line x1="1107.1" y1="256.8" x2="1120.0" y2="334.4" stroke="#8e8e8e" stroke-width="7.66" stroke-linecap="round"/>
<line x1="1106.6" y1="256.9" x2="1119.5" y2="334.4" stroke="#c6c6c6" stroke-width="5.67" stroke-linecap="round"/>
<line x1="1106.2" y1="256.9" x2="1119.1" y2="334.5" stroke="#ededed" stroke-width="2.76" stroke-linecap="round"/>
<line x1="1098.1" y1="290.6" x2="1114.0" y2="334.4" stroke="#8e8e8e" stroke-width="5.47" stroke-linecap="round"/>
<line x1="1097.8" y1="290.7" x2="1113.7" y2="334.5" stroke="#c6c6c6" stroke-width="4.05" stroke-linecap="round"/>
<line x1="1097.5" y1="290.8" x2="1113.4" y2="334.6" stroke="#ededed" stroke-width="1.97" stroke-linecap="round"/>
<line x1="1143.9" y1="258.8" x2="1124.0" y2="328.4" stroke="#8e8e8e" stroke-width="4.38" stroke-linecap="round"/>
<line x1="1143.6" y1="258.7" x2="1123.7" y2="328.3" stroke="#c6c6c6" stroke-width="3.24" stroke-linecap="round"/>
<line x1="1143.3" y1="258.6" x2="1123.5" y2="328.2" stroke="#ededed" stroke-width="1.58" stroke-linecap="round"/>
<line x1="1122.0" y1="342.3" x2="1130.9" y2="356.2" stroke="#4e4e4e" stroke-width="8.75" stroke-linecap="round"/>
<line x1="1121.5" y1="342.6" x2="1130.5" y2="356.5" stroke="#767676" stroke-width="6.48" stroke-linecap="round"/>
<line x1="1121.1" y1="342.9" x2="1130.0" y2="356.8" stroke="#949494" stroke-width="3.15" stroke-linecap="round"/>
<line x1="1114.0" y1="238.9" x2="1154.0" y2="219.0" stroke="#8e8e8e" stroke-width="15.31" stroke-linecap="round"/>
<line x1="1113.6" y1="238.1" x2="1153.6" y2="218.2" stroke="#c6c6c6" stroke-width="11.33" stroke-linecap="round"/>
<line x1="1113.2" y1="237.2" x2="1153.2" y2="217.4" stroke="#ededed" stroke-width="5.51" stroke-linecap="round"/>
<line x1="1124.0" y1="254.8" x2="1141.9" y2="255.8" stroke="#4e4e4e" stroke-width="10.94" stroke-linecap="round"/>
<line x1="1124.0" y1="254.1" x2="1141.9" y2="255.1" stroke="#767676" stroke-width="8.09" stroke-linecap="round"/>
<line x1="1124.0" y1="253.5" x2="1141.9" y2="254.5" stroke="#949494" stroke-width="3.94" stroke-linecap="round"/>
<line x1="1084.2" y1="310.5" x2="1082.2" y2="345.3" stroke="#6a6a6a" stroke-width="2.19" stroke-linecap="round"/>
<line x1="1084.1" y1="310.5" x2="1082.1" y2="345.3" stroke="#9c9c9c" stroke-width="1.62" stroke-linecap="round"/>
<line x1="1083.9" y1="310.5" x2="1081.9" y2="345.3" stroke="#bdbdbd" stroke-width="0.79" stroke-linecap="round"/>
<line x1="1108.1" y1="268.7" x2="1154.0" y2="268.7" stroke="#8e8e8e" stroke-width="2.19" stroke-linecap="round"/>
<line x1="1108.1" y1="268.6" x2="1154.0" y2="268.6" stroke="#c6c6c6" stroke-width="1.62" stroke-linecap="round"/>
<line x1="1108.1" y1="268.5" x2="1154.0" y2="268.5" stroke="#ededed" stroke-width="0.79" stroke-linecap="round"/>
<line x1="1118.0" y1="278.7" x2="1154.0" y2="282.6" stroke="#8e8e8e" stroke-width="3.28" stroke-linecap="round"/>
<line x1="1118.0" y1="278.5" x2="1154.0" y2="282.4" stroke="#c6c6c6" stroke-width="2.43" stroke-linecap="round"/>
<line x1="1118.0" y1="278.3" x2="1154.0" y2="282.3" stroke="#ededed" stroke-width="1.18" stroke-linecap="round"/>
<line x1="1126.0" y1="288.6" x2="1154.0" y2="272.7" stroke="#8e8e8e" stroke-width="3.28" stroke-linecap="round"/>
<line x1="1125.9" y1="288.4" x2="1153.9" y2="272.5" stroke="#c6c6c6" stroke-width="2.43" stroke-linecap="round"/>
<line x1="1125.8" y1="288.3" x2="1153.8" y2="272.4" stroke="#ededed" stroke-width="1.18" stroke-linecap="round"/>
<line x1="1042.4" y1="306.5" x2="1054.4" y2="330.4" stroke="#8e8e8e" stroke-width="2.63" stroke-linecap="round"/>
<line x1="1042.3" y1="306.6" x2="1054.2" y2="330.4" stroke="#c6c6c6" stroke-width="1.94" stroke-linecap="round"/>
<line x1="1042.1" y1="306.7" x2="1054.1" y2="330.5" stroke="#ededed" stroke-width="0.95" stroke-linecap="round"/>
<line x1="1066.3" y1="274.7" x2="1090.2" y2="278.7" stroke="#8e8e8e" stroke-width="1.75" stroke-linecap="round"/>
<line x1="1066.3" y1="274.6" x2="1090.2" y2="278.6" stroke="#c6c6c6" stroke-width="1.30" stroke-linecap="round"/>
<line x1="1066.3" y1="274.5" x2="1090.2" y2="278.5" stroke="#ededed" stroke-width="0.63" stroke-linecap="round"/>
<line x1="1050.4" y1="278.7" x2="1078.2" y2="284.6" stroke="#8e8e8e" stroke-width="1.75" stroke-linecap="round"/>
<line x1="1050.4" y1="278.6" x2="1078.2" y2="284.5" stroke="#c6c6c6" stroke-width="1.30" stroke-linecap="round"/>
<line x1="1050.4" y1="278.5" x2="1078.3" y2="284.4" stroke="#ededed" stroke-width="0.63" stroke-linecap="round"/>
<line x1="1190.8" y1="230.9" x2="1230.6" y2="228.9" stroke="#6a6a6a" stroke-width="15.31" stroke-linecap="round"/>
<line x1="1190.7" y1="230.0" x2="1230.5" y2="228.0" stroke="#9c9c9c" stroke-width="11.33" stroke-linecap="round"/>
<line x1="1190.7" y1="229.1" x2="1230.5" y2="227.1" stroke="#bdbdbd" stroke-width="5.51" stroke-linecap="round"/>
<line x1="1230.6" y1="234.9" x2="1230.6" y2="274.7" stroke="#6a6a6a" stroke-width="16.41" stroke-linecap="round"/>
<line x1="1229.6" y1="234.9" x2="1229.6" y2="274.7" stroke="#9c9c9c" stroke-width="12.14" stroke-linecap="round"/>
<line x1="1228.6" y1="234.9" x2="1228.6" y2="274.7" stroke="#bdbdbd" stroke-width="5.91" stroke-linecap="round"/>
<line x1="1230.6" y1="276.7" x2="1244.5" y2="336.3" stroke="#8e8e8e" stroke-width="8.75" stroke-linecap="round"/>
<line x1="1230.1" y1="276.8" x2="1244.0" y2="336.5" stroke="#c6c6c6" stroke-width="6.48" stroke-linecap="round"/>
<line x1="1229.5" y1="276.9" x2="1243.5" y2="336.6" stroke="#ededed" stroke-width="3.15" stroke-linecap="round"/>
<line x1="1245.5" y1="234.9" x2="1261.4" y2="256.8" stroke="#6a6a6a" stroke-width="13.13" stroke-linecap="round"/>
<line x1="1244.9" y1="235.4" x2="1260.8" y2="257.3" stroke="#9c9c9c" stroke-width="9.71" stroke-linecap="round"/>
<line x1="1244.2" y1="235.8" x2="1260.1" y2="257.7" stroke="#bdbdbd" stroke-width="4.73" stroke-linecap="round"/>
<line x1="1170.9" y1="324.4" x2="1244.5" y2="336.3" stroke="#8e8e8e" stroke-width="9.84" stroke-linecap="round"/>
<line x1="1171.0" y1="323.8" x2="1244.6" y2="335.8" stroke="#c6c6c6" stroke-width="7.29" stroke-linecap="round"/>
<line x1="1171.1" y1="323.2" x2="1244.7" y2="335.2" stroke="#ededed" stroke-width="3.54" stroke-linecap="round"/>
<line x1="1170.9" y1="324.4" x2="1173.9" y2="291.6" stroke="#8e8e8e" stroke-width="8.75" stroke-linecap="round"/>
<line x1="1170.4" y1="324.4" x2="1173.4" y2="291.5" stroke="#c6c6c6" stroke-width="6.48" stroke-linecap="round"/>
<line x1="1169.9" y1="324.3" x2="1172.8" y2="291.5" stroke="#ededed" stroke-width="3.15" stroke-linecap="round"/>
<line x1="1170.9" y1="324.4" x2="1154.0" y2="338.3" stroke="#8e8e8e" stroke-width="6.56" stroke-linecap="round"/>
<line x1="1170.7" y1="324.1" x2="1153.7" y2="338.0" stroke="#c6c6c6" stroke-width="4.86" stroke-linecap="round"/>
<line x1="1170.4" y1="323.8" x2="1153.5" y2="337.7" stroke="#ededed" stroke-width="2.36" stroke-linecap="round"/>
<line x1="1154.0" y1="290.6" x2="1173.9" y2="291.6" stroke="#8e8e8e" stroke-width="8.75" stroke-linecap="round"/>
<line x1="1154.0" y1="290.1" x2="1173.9" y2="291.1" stroke="#c6c6c6" stroke-width="6.48" stroke-linecap="round"/>
<line x1="1154.1" y1="289.6" x2="1173.9" y2="290.5" stroke="#ededed" stroke-width="3.15" stroke-linecap="round"/>
<line x1="1173.9" y1="291.6" x2="1219.6" y2="244.9" stroke="#8e8e8e" stroke-width="8.75" stroke-linecap="round"/>
<line x1="1173.5" y1="291.2" x2="1219.3" y2="244.5" stroke="#c6c6c6" stroke-width="6.48" stroke-linecap="round"/>
<line x1="1173.1" y1="290.9" x2="1218.9" y2="244.1" stroke="#ededed" stroke-width="3.15" stroke-linecap="round"/>
<line x1="1173.9" y1="291.6" x2="1171.9" y2="268.7" stroke="#8e8e8e" stroke-width="3.28" stroke-linecap="round"/>
<line x1="1173.7" y1="291.6" x2="1171.7" y2="268.7" stroke="#c6c6c6" stroke-width="2.43" stroke-linecap="round"/>
<line x1="1173.5" y1="291.6" x2="1171.5" y2="268.8" stroke="#ededed" stroke-width="1.18" stroke-linecap="round"/>
<line x1="1189.8" y1="244.9" x2="1197.8" y2="278.7" stroke="#8e8e8e" stroke-width="6.56" stroke-linecap="round"/>
<line x1="1189.4" y1="244.9" x2="1197.4" y2="278.8" stroke="#c6c6c6" stroke-width="4.86" stroke-linecap="round"/>
<line x1="1189.0" y1="245.0" x2="1197.0" y2="278.8" stroke="#ededed" stroke-width="2.36" stroke-linecap="round"/>
<line x1="1193.8" y1="272.7" x2="1223.6" y2="270.7" stroke="#8e8e8e" stroke-width="6.56" stroke-linecap="round"/>
<line x1="1193.8" y1="272.3" x2="1223.6" y2="270.3" stroke="#c6c6c6" stroke-width="4.86" stroke-linecap="round"/>
<line x1="1193.7" y1="271.9" x2="1223.6" y2="269.9" stroke="#ededed" stroke-width="2.36" stroke-linecap="round"/>
<line x1="1244.5" y1="336.3" x2="1275.3" y2="312.5" stroke="#6a6a6a" stroke-width="8.75" stroke-linecap="round"/>
<line x1="1244.2" y1="335.9" x2="1275.0" y2="312.1" stroke="#9c9c9c" stroke-width="6.48" stroke-linecap="round"/>
<line x1="1243.9" y1="335.5" x2="1274.7" y2="311.6" stroke="#bdbdbd" stroke-width="3.15" stroke-linecap="round"/>
<line x1="1251.5" y1="306.5" x2="1269.4" y2="306.5" stroke="#8e8e8e" stroke-width="2.63" stroke-linecap="round"/>
<line x1="1251.5" y1="306.4" x2="1269.4" y2="306.4" stroke="#c6c6c6" stroke-width="1.94" stroke-linecap="round"/>
<line x1="1251.5" y1="306.2" x2="1269.4" y2="306.2" stroke="#ededed" stroke-width="0.95" stroke-linecap="round"/>
<line x1="1277.3" y1="290.6" x2="1277.3" y2="262.8" stroke="#8e8e8e" stroke-width="6.56" stroke-linecap="round"/>
<line x1="1276.9" y1="290.6" x2="1276.9" y2="262.8" stroke="#c6c6c6" stroke-width="4.86" stroke-linecap="round"/>
<line x1="1276.5" y1="290.6" x2="1276.5" y2="262.8" stroke="#ededed" stroke-width="2.36" stroke-linecap="round"/>
<line x1="1249.5" y1="258.8" x2="1249.5" y2="330.4" stroke="#8e8e8e" stroke-width="4.38" stroke-linecap="round"/>
<line x1="1249.2" y1="258.8" x2="1249.2" y2="330.4" stroke="#c6c6c6" stroke-width="3.24" stroke-linecap="round"/>
<line x1="1248.9" y1="258.8" x2="1248.9" y2="330.4" stroke="#ededed" stroke-width="1.58" stroke-linecap="round"/>
<line x1="1253.4" y1="288.6" x2="1273.3" y2="264.7" stroke="#8e8e8e" stroke-width="5.47" stroke-linecap="round"/>
<line x1="1253.2" y1="288.4" x2="1273.1" y2="264.5" stroke="#c6c6c6" stroke-width="4.05" stroke-linecap="round"/>
<line x1="1252.9" y1="288.2" x2="1272.8" y2="264.3" stroke="#ededed" stroke-width="1.97" stroke-linecap="round"/>
<line x1="1255.4" y1="227.0" x2="1273.3" y2="231.9" stroke="#8e8e8e" stroke-width="6.56" stroke-linecap="round"/>
<line x1="1255.5" y1="226.6" x2="1273.4" y2="231.5" stroke="#c6c6c6" stroke-width="4.86" stroke-linecap="round"/>
<line x1="1255.6" y1="226.2" x2="1273.5" y2="231.2" stroke="#ededed" stroke-width="2.36" stroke-linecap="round"/>
<line x1="1273.3" y1="231.9" x2="1279.3" y2="260.8" stroke="#8e8e8e" stroke-width="4.38" stroke-linecap="round"/>
<line x1="1273.1" y1="232.0" x2="1279.0" y2="260.8" stroke="#c6c6c6" stroke-width="3.24" stroke-linecap="round"/>
<line x1="1272.8" y1="232.0" x2="1278.8" y2="260.9" stroke="#ededed" stroke-width="1.58" stroke-linecap="round"/>
<line x1="1281.3" y1="254.8" x2="1309.1" y2="234.9" stroke="#8e8e8e" stroke-width="4.38" stroke-linecap="round"/>
<line x1="1281.1" y1="254.6" x2="1309.0" y2="234.7" stroke="#c6c6c6" stroke-width="3.24" stroke-linecap="round"/>
<line x1="1281.0" y1="254.4" x2="1308.8" y2="234.5" stroke="#ededed" stroke-width="1.58" stroke-linecap="round"/>
<line x1="1303.2" y1="219.0" x2="1313.1" y2="232.9" stroke="#8e8e8e" stroke-width="6.56" stroke-linecap="round"/>
<line x1="1302.8" y1="219.2" x2="1312.8" y2="233.2" stroke="#c6c6c6" stroke-width="4.86" stroke-linecap="round"/>
<line x1="1302.5" y1="219.5" x2="1312.5" y2="233.4" stroke="#ededed" stroke-width="2.36" stroke-linecap="round"/>
<line x1="1265.4" y1="219.0" x2="1275.3" y2="230.9" stroke="#8e8e8e" stroke-width="6.56" stroke-linecap="round"/>
<line x1="1265.1" y1="219.3" x2="1275.0" y2="231.2" stroke="#c6c6c6" stroke-width="4.86" stroke-linecap="round"/>
<line x1="1264.8" y1="219.5" x2="1274.7" y2="231.4" stroke="#ededed" stroke-width="2.36" stroke-linecap="round"/>
<line x1="1177.9" y1="332.4" x2="1205.7" y2="356.2" stroke="#8e8e8e" stroke-width="5.47" stroke-linecap="round"/>
<line x1="1178.1" y1="332.1" x2="1205.9" y2="356.0" stroke="#c6c6c6" stroke-width="4.05" stroke-linecap="round"/>
<line x1="1178.3" y1="331.9" x2="1206.1" y2="355.7" stroke="#ededed" stroke-width="1.97" stroke-linecap="round"/>
<line x1="1205.7" y1="356.2" x2="1239.5" y2="359.2" stroke="#8e8e8e" stroke-width="5.47" stroke-linecap="round"/>
<line x1="1205.7" y1="355.9" x2="1239.5" y2="358.9" stroke="#c6c6c6" stroke-width="4.05" stroke-linecap="round"/>
<line x1="1205.8" y1="355.6" x2="1239.6" y2="358.6" stroke="#ededed" stroke-width="1.97" stroke-linecap="round"/>
<line x1="1207.7" y1="348.3" x2="1239.5" y2="344.3" stroke="#6a6a6a" stroke-width="5.47" stroke-linecap="round"/>
<line x1="1207.7" y1="348.0" x2="1239.5" y2="344.0" stroke="#9c9c9c" stroke-width="4.05" stroke-linecap="round"/>
<line x1="1207.6" y1="347.6" x2="1239.4" y2="343.6" stroke="#bdbdbd" stroke-width="1.97" stroke-linecap="round"/>
<line x1="1239.5" y1="359.2" x2="1244.5" y2="372.1" stroke="#8e8e8e" stroke-width="1.75" stroke-linecap="round"/>
<line x1="1239.4" y1="359.3" x2="1244.4" y2="372.2" stroke="#c6c6c6" stroke-width="1.30" stroke-linecap="round"/>
<line x1="1239.3" y1="359.3" x2="1244.3" y2="372.2" stroke="#ededed" stroke-width="0.63" stroke-linecap="round"/>
<line x1="1154.0" y1="246.8" x2="1167.9" y2="243.9" stroke="#8e8e8e" stroke-width="6.56" stroke-linecap="round"/>
<line x1="1153.9" y1="246.5" x2="1167.8" y2="243.5" stroke="#c6c6c6" stroke-width="4.86" stroke-linecap="round"/>
<line x1="1153.8" y1="246.1" x2="1167.8" y2="243.1" stroke="#ededed" stroke-width="2.36" stroke-linecap="round"/>
<line x1="1154.0" y1="300.5" x2="1165.9" y2="320.4" stroke="#8e8e8e" stroke-width="6.56" stroke-linecap="round"/>
<line x1="1153.7" y1="300.7" x2="1165.6" y2="320.6" stroke="#c6c6c6" stroke-width="4.86" stroke-linecap="round"/>
<line x1="1153.3" y1="300.9" x2="1165.3" y2="320.8" stroke="#ededed" stroke-width="2.36" stroke-linecap="round"/>
<line x1="1154.0" y1="264.7" x2="1171.9" y2="268.7" stroke="#8e8e8e" stroke-width="3.28" stroke-linecap="round"/>
<line x1="1154.0" y1="264.6" x2="1171.9" y2="268.5" stroke="#c6c6c6" stroke-width="2.43" stroke-linecap="round"/>
<line x1="1154.1" y1="264.4" x2="1172.0" y2="268.3" stroke="#ededed" stroke-width="1.18" stroke-linecap="round"/>
<line x1="1179.9" y1="272.7" x2="1189.8" y2="238.9" stroke="#8e8e8e" stroke-width="5.47" stroke-linecap="round"/>
<line x1="1179.5" y1="272.6" x2="1189.5" y2="238.8" stroke="#c6c6c6" stroke-width="4.05" stroke-linecap="round"/>
<line x1="1179.2" y1="272.5" x2="1189.2" y2="238.7" stroke="#ededed" stroke-width="1.97" stroke-linecap="round"/>
<line x1="1154.0" y1="230.9" x2="1189.8" y2="230.9" stroke="#8e8e8e" stroke-width="6.56" stroke-linecap="round"/>
<line x1="1154.0" y1="230.5" x2="1189.8" y2="230.5" stroke="#c6c6c6" stroke-width="4.86" stroke-linecap="round"/>
<line x1="1154.0" y1="230.1" x2="1189.8" y2="230.1" stroke="#ededed" stroke-width="2.36" stroke-linecap="round"/>
<line x1="1199.7" y1="284.6" x2="1229.6" y2="284.6" stroke="#8e8e8e" stroke-width="3.28" stroke-linecap="round"/>
<line x1="1199.7" y1="284.4" x2="1229.6" y2="284.4" stroke="#c6c6c6" stroke-width="2.43" stroke-linecap="round"/>
<line x1="1199.7" y1="284.2" x2="1229.6" y2="284.2" stroke="#ededed" stroke-width="1.18" stroke-linecap="round"/>
<line x1="1185.8" y1="288.6" x2="1213.7" y2="284.6" stroke="#8e8e8e" stroke-width="3.28" stroke-linecap="round"/>
<line x1="1185.8" y1="288.4" x2="1213.6" y2="284.4" stroke="#c6c6c6" stroke-width="2.43" stroke-linecap="round"/>
<line x1="1185.8" y1="288.2" x2="1213.6" y2="284.2" stroke="#ededed" stroke-width="1.18" stroke-linecap="round"/>
<line x1="1277.3" y1="260.8" x2="1311.1" y2="275.7" stroke="#8e8e8e" stroke-width="1.75" stroke-linecap="round"/>
<line x1="1277.4" y1="260.7" x2="1311.2" y2="275.6" stroke="#c6c6c6" stroke-width="1.30" stroke-linecap="round"/>
<line x1="1277.4" y1="260.6" x2="1311.2" y2="275.5" stroke="#ededed" stroke-width="0.63" stroke-linecap="round"/>
<line x1="1277.3" y1="276.7" x2="1308.1" y2="280.7" stroke="#8e8e8e" stroke-width="1.75" stroke-linecap="round"/>
<line x1="1277.3" y1="276.6" x2="1308.2" y2="280.6" stroke="#c6c6c6" stroke-width="1.30" stroke-linecap="round"/>
<line x1="1277.3" y1="276.5" x2="1308.2" y2="280.4" stroke="#ededed" stroke-width="0.63" stroke-linecap="round"/>
<line x1="1199.7" y1="294.6" x2="1201.7" y2="334.4" stroke="#8e8e8e" stroke-width="2.19" stroke-linecap="round"/>
<line x1="1199.6" y1="294.6" x2="1201.6" y2="334.4" stroke="#c6c6c6" stroke-width="1.62" stroke-linecap="round"/>
<line x1="1199.5" y1="294.6" x2="1201.5" y2="334.4" stroke="#ededed" stroke-width="0.79" stroke-linecap="round"/>
<line x1="1201.7" y1="306.5" x2="1219.6" y2="286.6" stroke="#8e8e8e" stroke-width="2.19" stroke-linecap="round"/>
<line x1="1201.6" y1="306.4" x2="1219.5" y2="286.5" stroke="#c6c6c6" stroke-width="1.62" stroke-linecap="round"/>
<line x1="1201.5" y1="306.3" x2="1219.4" y2="286.4" stroke="#ededed" stroke-width="0.79" stroke-linecap="round"/>
<line x1="1090.0" y1="158.3" x2="1130.7" y2="158.3" stroke="#8e8e8e" stroke-width="14.93" stroke-linecap="round"/>
<line x1="1090.0" y1="157.4" x2="1130.7" y2="157.4" stroke="#c6c6c6" stroke-width="11.05" stroke-linecap="round"/>
<line x1="1090.0" y1="156.5" x2="1130.7" y2="156.5" stroke="#ededed" stroke-width="5.38" stroke-linecap="round"/>
<line x1="1130.7" y1="155.2" x2="1182.0" y2="155.2" stroke="#8e8e8e" stroke-width="8.30" stroke-linecap="round"/>
<line x1="1130.7" y1="154.8" x2="1182.0" y2="154.8" stroke="#c6c6c6" stroke-width="6.14" stroke-linecap="round"/>
<line x1="1130.7" y1="154.3" x2="1182.0" y2="154.3" stroke="#ededed" stroke-width="2.99" stroke-linecap="round"/>
<line x1="1090.0" y1="140.2" x2="1114.1" y2="128.1" stroke="#8e8e8e" stroke-width="9.95" stroke-linecap="round"/>
<line x1="1089.7" y1="139.6" x2="1113.9" y2="127.6" stroke="#c6c6c6" stroke-width="7.37" stroke-linecap="round"/>
<line x1="1089.5" y1="139.1" x2="1113.6" y2="127.0" stroke="#ededed" stroke-width="3.58" stroke-linecap="round"/>
<line x1="1114.1" y1="121.3" x2="1156.4" y2="127.3" stroke="#8e8e8e" stroke-width="5.81" stroke-linecap="round"/>
<line x1="1114.2" y1="121.0" x2="1156.4" y2="127.0" stroke="#c6c6c6" stroke-width="4.30" stroke-linecap="round"/>
<line x1="1114.2" y1="120.6" x2="1156.5" y2="126.7" stroke="#ededed" stroke-width="2.09" stroke-linecap="round"/>
<line x1="1090.0" y1="114.5" x2="1114.1" y2="121.3" stroke="#6a6a6a" stroke-width="6.64" stroke-linecap="round"/>
<line x1="1090.1" y1="114.1" x2="1114.2" y2="120.9" stroke="#9c9c9c" stroke-width="4.91" stroke-linecap="round"/>
<line x1="1090.2" y1="113.8" x2="1114.3" y2="120.5" stroke="#bdbdbd" stroke-width="2.39" stroke-linecap="round"/>
<line x1="1120.2" y1="230.7" x2="1162.4" y2="208.8" stroke="#6a6a6a" stroke-width="18.25" stroke-linecap="round"/>
<line x1="1119.7" y1="229.7" x2="1161.9" y2="207.8" stroke="#9c9c9c" stroke-width="13.51" stroke-linecap="round"/>
<line x1="1119.2" y1="228.7" x2="1161.4" y2="206.8" stroke="#bdbdbd" stroke-width="6.57" stroke-linecap="round"/>
<line x1="1109.6" y1="233.7" x2="1129.2" y2="167.3" stroke="#6a6a6a" stroke-width="8.30" stroke-linecap="round"/>
<line x1="1109.1" y1="233.5" x2="1128.7" y2="167.2" stroke="#9c9c9c" stroke-width="6.14" stroke-linecap="round"/>
<line x1="1108.7" y1="233.4" x2="1128.3" y2="167.0" stroke="#bdbdbd" stroke-width="2.99" stroke-linecap="round"/>
<line x1="1150.3" y1="173.3" x2="1162.4" y2="208.0" stroke="#6a6a6a" stroke-width="9.95" stroke-linecap="round"/>
<line x1="1149.8" y1="173.5" x2="1161.8" y2="208.2" stroke="#9c9c9c" stroke-width="7.37" stroke-linecap="round"/>
<line x1="1149.2" y1="173.7" x2="1161.3" y2="208.4" stroke="#bdbdbd" stroke-width="3.58" stroke-linecap="round"/>
<line x1="1188.0" y1="230.7" x2="1230.3" y2="224.6" stroke="#6a6a6a" stroke-width="18.25" stroke-linecap="round"/>
<line x1="1187.9" y1="229.6" x2="1230.1" y2="223.5" stroke="#9c9c9c" stroke-width="13.51" stroke-linecap="round"/>
<line x1="1187.7" y1="228.5" x2="1230.0" y2="222.5" stroke="#bdbdbd" stroke-width="6.57" stroke-linecap="round"/>
<line x1="1230.3" y1="230.7" x2="1231.8" y2="270.0" stroke="#6a6a6a" stroke-width="14.93" stroke-linecap="round"/>
<line x1="1229.4" y1="230.7" x2="1230.9" y2="270.1" stroke="#9c9c9c" stroke-width="11.05" stroke-linecap="round"/>
<line x1="1228.5" y1="230.7" x2="1230.0" y2="270.1" stroke="#bdbdbd" stroke-width="5.38" stroke-linecap="round"/>
<line x1="1156.4" y1="176.4" x2="1189.5" y2="205.0" stroke="#8e8e8e" stroke-width="9.95" stroke-linecap="round"/>
<line x1="1156.8" y1="175.9" x2="1189.9" y2="204.6" stroke="#c6c6c6" stroke-width="7.37" stroke-linecap="round"/>
<line x1="1157.1" y1="175.5" x2="1190.3" y2="204.1" stroke="#ededed" stroke-width="3.58" stroke-linecap="round"/>
<line x1="1156.4" y1="176.4" x2="1204.6" y2="177.9" stroke="#8e8e8e" stroke-width="8.30" stroke-linecap="round"/>
<line x1="1156.4" y1="175.9" x2="1204.6" y2="177.4" stroke="#c6c6c6" stroke-width="6.14" stroke-linecap="round"/>
<line x1="1156.4" y1="175.4" x2="1204.7" y2="176.9" stroke="#ededed" stroke-width="2.99" stroke-linecap="round"/>
<line x1="1182.0" y1="138.7" x2="1182.0" y2="203.5" stroke="#8e8e8e" stroke-width="4.98" stroke-linecap="round"/>
<line x1="1181.7" y1="138.7" x2="1181.7" y2="203.5" stroke="#c6c6c6" stroke-width="3.68" stroke-linecap="round"/>
<line x1="1181.4" y1="138.7" x2="1181.4" y2="203.5" stroke="#ededed" stroke-width="1.79" stroke-linecap="round"/>
<line x1="1182.0" y1="203.5" x2="1189.5" y2="270.0" stroke="#8e8e8e" stroke-width="6.64" stroke-linecap="round"/>
<line x1="1181.6" y1="203.6" x2="1189.2" y2="270.1" stroke="#c6c6c6" stroke-width="4.91" stroke-linecap="round"/>
<line x1="1181.2" y1="203.6" x2="1188.8" y2="270.1" stroke="#ededed" stroke-width="2.39" stroke-linecap="round"/>
<line x1="1188.0" y1="155.2" x2="1225.7" y2="144.7" stroke="#8e8e8e" stroke-width="6.64" stroke-linecap="round"/>
<line x1="1187.9" y1="154.9" x2="1225.6" y2="144.3" stroke="#c6c6c6" stroke-width="4.91" stroke-linecap="round"/>
<line x1="1187.8" y1="154.5" x2="1225.5" y2="143.9" stroke="#ededed" stroke-width="2.39" stroke-linecap="round"/>
<line x1="1195.6" y1="174.9" x2="1225.7" y2="149.2" stroke="#8e8e8e" stroke-width="6.64" stroke-linecap="round"/>
<line x1="1195.3" y1="174.6" x2="1225.5" y2="148.9" stroke="#c6c6c6" stroke-width="4.91" stroke-linecap="round"/>
<line x1="1195.1" y1="174.2" x2="1225.2" y2="148.6" stroke="#ededed" stroke-width="2.39" stroke-linecap="round"/>
<line x1="1207.6" y1="110.0" x2="1231.8" y2="134.1" stroke="#6a6a6a" stroke-width="9.95" stroke-linecap="round"/>
<line x1="1207.2" y1="110.4" x2="1231.4" y2="134.6" stroke="#9c9c9c" stroke-width="7.37" stroke-linecap="round"/>
<line x1="1206.8" y1="110.8" x2="1230.9" y2="135.0" stroke="#bdbdbd" stroke-width="3.58" stroke-linecap="round"/>
<line x1="1231.8" y1="134.1" x2="1250.0" y2="119.0" stroke="#8e8e8e" stroke-width="8.30" stroke-linecap="round"/>
<line x1="1231.5" y1="133.7" x2="1249.7" y2="118.7" stroke="#c6c6c6" stroke-width="6.14" stroke-linecap="round"/>
<line x1="1231.1" y1="133.4" x2="1249.4" y2="118.3" stroke="#ededed" stroke-width="2.99" stroke-linecap="round"/>
<line x1="1222.7" y1="170.3" x2="1250.0" y2="194.5" stroke="#8e8e8e" stroke-width="8.30" stroke-linecap="round"/>
<line x1="1223.1" y1="170.0" x2="1250.4" y2="194.1" stroke="#c6c6c6" stroke-width="6.14" stroke-linecap="round"/>
<line x1="1223.4" y1="169.6" x2="1250.7" y2="193.7" stroke="#ededed" stroke-width="2.99" stroke-linecap="round"/>
<line x1="1198.6" y1="193.0" x2="1222.7" y2="208.0" stroke="#8e8e8e" stroke-width="6.64" stroke-linecap="round"/>
<line x1="1198.8" y1="192.6" x2="1222.9" y2="207.7" stroke="#c6c6c6" stroke-width="4.91" stroke-linecap="round"/>
<line x1="1199.0" y1="192.3" x2="1223.2" y2="207.4" stroke="#ededed" stroke-width="2.39" stroke-linecap="round"/>
<line x1="1124.7" y1="212.6" x2="1150.3" y2="196.0" stroke="#8e8e8e" stroke-width="9.95" stroke-linecap="round"/>
<line x1="1124.4" y1="212.1" x2="1150.0" y2="195.5" stroke="#c6c6c6" stroke-width="7.37" stroke-linecap="round"/>
<line x1="1124.0" y1="211.6" x2="1149.7" y2="195.0" stroke="#ededed" stroke-width="3.58" stroke-linecap="round"/>
<line x1="1090.0" y1="208.0" x2="1111.1" y2="214.1" stroke="#8e8e8e" stroke-width="8.30" stroke-linecap="round"/>
<line x1="1090.1" y1="207.6" x2="1111.3" y2="213.6" stroke="#c6c6c6" stroke-width="6.14" stroke-linecap="round"/>
<line x1="1090.3" y1="207.1" x2="1111.4" y2="213.1" stroke="#ededed" stroke-width="2.99" stroke-linecap="round"/>
<line x1="1090.0" y1="177.9" x2="1111.1" y2="167.3" stroke="#8e8e8e" stroke-width="6.64" stroke-linecap="round"/>
<line x1="1089.8" y1="177.5" x2="1110.9" y2="167.0" stroke="#c6c6c6" stroke-width="4.91" stroke-linecap="round"/>
<line x1="1089.6" y1="177.2" x2="1110.8" y2="166.6" stroke="#ededed" stroke-width="2.39" stroke-linecap="round"/>
<line x1="1126.2" y1="173.3" x2="1126.2" y2="215.6" stroke="#8e8e8e" stroke-width="6.64" stroke-linecap="round"/>
<line x1="1125.8" y1="173.3" x2="1125.8" y2="215.6" stroke="#c6c6c6" stroke-width="4.91" stroke-linecap="round"/>
<line x1="1125.4" y1="173.3" x2="1125.4" y2="215.6" stroke="#ededed" stroke-width="2.39" stroke-linecap="round"/>
<line x1="1130.7" y1="230.7" x2="1139.8" y2="270.0" stroke="#8e8e8e" stroke-width="4.98" stroke-linecap="round"/>
<line x1="1130.4" y1="230.7" x2="1139.5" y2="270.1" stroke="#c6c6c6" stroke-width="3.68" stroke-linecap="round"/>
<line x1="1130.1" y1="230.8" x2="1139.2" y2="270.2" stroke="#ededed" stroke-width="1.79" stroke-linecap="round"/>
<line x1="1157.9" y1="245.7" x2="1180.5" y2="270.0" stroke="#8e8e8e" stroke-width="4.98" stroke-linecap="round"/>
<line x1="1157.7" y1="246.0" x2="1180.3" y2="270.2" stroke="#c6c6c6" stroke-width="3.68" stroke-linecap="round"/>
<line x1="1157.4" y1="246.2" x2="1180.1" y2="270.4" stroke="#ededed" stroke-width="1.79" stroke-linecap="round"/>
<line x1="1195.6" y1="245.7" x2="1225.7" y2="270.0" stroke="#8e8e8e" stroke-width="9.95" stroke-linecap="round"/>
<line x1="1196.0" y1="245.3" x2="1226.1" y2="269.6" stroke="#c6c6c6" stroke-width="7.37" stroke-linecap="round"/>
<line x1="1196.3" y1="244.8" x2="1226.5" y2="269.1" stroke="#ededed" stroke-width="3.58" stroke-linecap="round"/>
<line x1="1165.4" y1="110.0" x2="1188.0" y2="125.1" stroke="#8e8e8e" stroke-width="6.64" stroke-linecap="round"/>
<line x1="1165.6" y1="109.7" x2="1188.3" y2="124.8" stroke="#c6c6c6" stroke-width="4.91" stroke-linecap="round"/>
<line x1="1165.9" y1="109.3" x2="1188.5" y2="124.4" stroke="#ededed" stroke-width="2.39" stroke-linecap="round"/>
<line x1="1195.6" y1="134.1" x2="1225.7" y2="138.7" stroke="#8e8e8e" stroke-width="9.95" stroke-linecap="round"/>
<line x1="1195.7" y1="133.5" x2="1225.8" y2="138.1" stroke="#c6c6c6" stroke-width="7.37" stroke-linecap="round"/>
<line x1="1195.8" y1="133.0" x2="1225.9" y2="137.5" stroke="#ededed" stroke-width="3.58" stroke-linecap="round"/>
<line x1="1240.8" y1="230.7" x2="1250.0" y2="238.2" stroke="#8e8e8e" stroke-width="9.95" stroke-linecap="round"/>
<line x1="1241.2" y1="230.2" x2="1250.4" y2="237.7" stroke="#c6c6c6" stroke-width="7.37" stroke-linecap="round"/>
<line x1="1241.6" y1="229.7" x2="1250.8" y2="237.3" stroke="#ededed" stroke-width="3.58" stroke-linecap="round"/>
<line x1="1124.7" y1="254.8" x2="1139.8" y2="254.8" stroke="#4e4e4e" stroke-width="9.95" stroke-linecap="round"/>
<line x1="1124.7" y1="254.2" x2="1139.8" y2="254.2" stroke="#767676" stroke-width="7.37" stroke-linecap="round"/>
<line x1="1124.7" y1="253.6" x2="1139.8" y2="253.6" stroke="#949494" stroke-width="3.58" stroke-linecap="round"/>
<line x1="1090.0" y1="125.1" x2="1105.1" y2="128.1" stroke="#8e8e8e" stroke-width="9.95" stroke-linecap="round"/>
<line x1="1090.1" y1="124.5" x2="1105.2" y2="127.5" stroke="#c6c6c6" stroke-width="7.37" stroke-linecap="round"/>
<line x1="1090.2" y1="123.9" x2="1105.3" y2="126.9" stroke="#ededed" stroke-width="3.58" stroke-linecap="round"/>
<line x1="1150.3" y1="120.6" x2="1165.4" y2="110.0" stroke="#8e8e8e" stroke-width="4.98" stroke-linecap="round"/>
<line x1="1150.2" y1="120.3" x2="1165.2" y2="109.8" stroke="#c6c6c6" stroke-width="3.68" stroke-linecap="round"/>
<line x1="1150.0" y1="120.1" x2="1165.1" y2="109.5" stroke="#ededed" stroke-width="1.79" stroke-linecap="round"/>
<line x1="1132.2" y1="125.1" x2="1132.2" y2="155.2" stroke="#8e8e8e" stroke-width="4.15" stroke-linecap="round"/>
<line x1="1132.0" y1="125.1" x2="1132.0" y2="155.2" stroke="#c6c6c6" stroke-width="3.07" stroke-linecap="round"/>
<line x1="1131.7" y1="125.1" x2="1131.7" y2="155.2" stroke="#ededed" stroke-width="1.49" stroke-linecap="round"/>
<line x1="1157.9" y1="141.7" x2="1157.9" y2="173.3" stroke="#8e8e8e" stroke-width="2.49" stroke-linecap="round"/>
<line x1="1157.7" y1="141.7" x2="1157.7" y2="173.3" stroke="#c6c6c6" stroke-width="1.84" stroke-linecap="round"/>
<line x1="1157.6" y1="141.7" x2="1157.6" y2="173.3" stroke="#ededed" stroke-width="0.90" stroke-linecap="round"/>
<line x1="1210.7" y1="155.2" x2="1225.7" y2="200.5" stroke="#8e8e8e" stroke-width="3.32" stroke-linecap="round"/>
<line x1="1210.5" y1="155.3" x2="1225.6" y2="200.6" stroke="#c6c6c6" stroke-width="2.46" stroke-linecap="round"/>
<line x1="1210.3" y1="155.4" x2="1225.4" y2="200.6" stroke="#ededed" stroke-width="1.19" stroke-linecap="round"/>
<line x1="1135.2" y1="185.4" x2="1150.3" y2="182.4" stroke="#8e8e8e" stroke-width="3.32" stroke-linecap="round"/>
<line x1="1135.2" y1="185.2" x2="1150.3" y2="182.2" stroke="#c6c6c6" stroke-width="2.46" stroke-linecap="round"/>
<line x1="1135.2" y1="185.0" x2="1150.3" y2="182.0" stroke="#ededed" stroke-width="1.19" stroke-linecap="round"/>
<line x1="1188.0" y1="162.8" x2="1218.2" y2="185.4" stroke="#8e8e8e" stroke-width="2.49" stroke-linecap="round"/>
<line x1="1188.1" y1="162.7" x2="1218.3" y2="185.3" stroke="#c6c6c6" stroke-width="1.84" stroke-linecap="round"/>
<line x1="1188.2" y1="162.6" x2="1218.4" y2="185.2" stroke="#ededed" stroke-width="0.90" stroke-linecap="round"/>
<line x1="1195.6" y1="185.4" x2="1225.7" y2="162.8" stroke="#8e8e8e" stroke-width="2.49" stroke-linecap="round"/>
<line x1="1195.5" y1="185.3" x2="1225.7" y2="162.7" stroke="#c6c6c6" stroke-width="1.84" stroke-linecap="round"/>
<line x1="1195.4" y1="185.2" x2="1225.6" y2="162.6" stroke="#ededed" stroke-width="0.90" stroke-linecap="round"/>
<line x1="1203.1" y1="155.2" x2="1210.7" y2="193.0" stroke="#8e8e8e" stroke-width="1.99" stroke-linecap="round"/>
<line x1="1203.0" y1="155.3" x2="1210.5" y2="193.0" stroke="#c6c6c6" stroke-width="1.47" stroke-linecap="round"/>
<line x1="1202.9" y1="155.3" x2="1210.4" y2="193.0" stroke="#ededed" stroke-width="0.72" stroke-linecap="round"/>
<line x1="1189.5" y1="173.3" x2="1225.7" y2="173.3" stroke="#8e8e8e" stroke-width="1.99" stroke-linecap="round"/>
<line x1="1189.5" y1="173.2" x2="1225.7" y2="173.2" stroke="#c6c6c6" stroke-width="1.47" stroke-linecap="round"/>
<line x1="1189.5" y1="173.1" x2="1225.7" y2="173.1" stroke="#ededed" stroke-width="0.72" stroke-linecap="round"/>
<line x1="1165.4" y1="215.6" x2="1180.5" y2="245.7" stroke="#8e8e8e" stroke-width="2.49" stroke-linecap="round"/>
<line x1="1165.3" y1="215.6" x2="1180.4" y2="245.8" stroke="#c6c6c6" stroke-width="1.84" stroke-linecap="round"/>
<line x1="1165.1" y1="215.7" x2="1180.2" y2="245.9" stroke="#ededed" stroke-width="0.90" stroke-linecap="round"/>
<line x1="1142.8" y1="215.6" x2="1142.8" y2="245.7" stroke="#8e8e8e" stroke-width="2.49" stroke-linecap="round"/>
<line x1="1142.6" y1="215.6" x2="1142.6" y2="245.7" stroke="#c6c6c6" stroke-width="1.84" stroke-linecap="round"/>
<line x1="1142.5" y1="215.6" x2="1142.5" y2="245.7" stroke="#ededed" stroke-width="0.90" stroke-linecap="round"/>
<line x1="1090.0" y1="194.5" x2="1108.1" y2="200.5" stroke="#8e8e8e" stroke-width="4.15" stroke-linecap="round"/>
<line x1="1090.1" y1="194.2" x2="1108.2" y2="200.3" stroke="#c6c6c6" stroke-width="3.07" stroke-linecap="round"/>
<line x1="1090.2" y1="194.0" x2="1108.3" y2="200.0" stroke="#ededed" stroke-width="1.49" stroke-linecap="round"/>
<line x1="1210.7" y1="208.0" x2="1240.8" y2="208.0" stroke="#8e8e8e" stroke-width="3.32" stroke-linecap="round"/>
<line x1="1210.7" y1="207.8" x2="1240.8" y2="207.8" stroke="#c6c6c6" stroke-width="2.46" stroke-linecap="round"/>
<line x1="1210.7" y1="207.6" x2="1240.8" y2="207.6" stroke="#ededed" stroke-width="1.19" stroke-linecap="round"/>
<circle cx="1022.5" cy="185.0" r="14.92" fill="url(#sg)"/>
<circle cx="1058.3" cy="163.1" r="13.92" fill="url(#sg)"/>
<circle cx="1114.0" cy="120.4" r="10.34" fill="url(#sg)"/>
<circle cx="1070.3" cy="107.4" r="8.35" fill="url(#sg)"/>
<circle cx="1051.4" cy="81.6" r="5.97" fill="url(#sg)"/>
<circle cx="1130.9" cy="158.2" r="6.96" fill="url(#sg)"/>
<circle cx="1147.8" cy="173.1" r="6.96" fill="url(#sg)"/>
<circle cx="1068.3" cy="191.0" r="5.97" fill="url(#sg)"/>
<circle cx="1054.4" cy="206.9" r="5.97" fill="url(#sg)"/>
<circle cx="1029.5" cy="88.5" r="2.98" fill="url(#sg)"/>
<circle cx="1015.6" cy="125.3" r="3.58" fill="url(#sg)"/>
<circle cx="1100.1" cy="86.6" r="4.38" fill="url(#sg)"/>
<circle cx="1106.1" cy="81.6" r="3.58" fill="url(#sg)"/>
<circle cx="1137.9" cy="82.6" r="5.57" fill="url(#sg)"/>
<circle cx="1102.1" cy="113.4" r="4.97" fill="url(#sg)"/>
<circle cx="1126.0" cy="119.4" r="3.98" fill="url(#sg)"/>
<circle cx="1088.2" cy="105.5" r="2.98" fill="url(#sg)"/>
<circle cx="1054.4" cy="92.5" r="2.39" fill="url(#sg)"/>
<circle cx="1030.5" cy="133.7" r="1.99" fill="url(#sg)"/>
<circle cx="997.7" cy="184.0" r="2.39" fill="url(#sg)"/>
<circle cx="966.8" cy="120.4" r="1.59" fill="url(#sg)"/>
<circle cx="1087.2" cy="195.9" r="3.98" fill="url(#sg)"/>
<circle cx="1114.0" cy="192.0" r="2.98" fill="url(#sg)"/>
<circle cx="1147.8" cy="145.2" r="2.39" fill="url(#sg)"/>
<circle cx="1129.9" cy="70.6" r="2.39" fill="url(#sg)"/>
<circle cx="1110.0" cy="212.9" r="5.97" fill="url(#sg)"/>
<circle cx="1151.8" cy="121.4" r="2.98" fill="url(#sg)"/>
<circle cx="1092.1" cy="127.3" r="2.98" fill="url(#sg)"/>
<circle cx="1139.9" cy="99.5" r="2.39" fill="url(#sg)"/>
<circle cx="1297.2" cy="94.5" r="9.94" fill="url(#sg)"/>
<circle cx="1281.3" cy="95.5" r="8.95" fill="url(#sg)"/>
<circle cx="1233.6" cy="135.3" r="8.95" fill="url(#sg)"/>
<circle cx="1278.3" cy="64.7" r="5.57" fill="url(#sg)"/>
<circle cx="1261.4" cy="73.6" r="4.97" fill="url(#sg)"/>
<circle cx="1252.4" cy="85.6" r="4.97" fill="url(#sg)"/>
<circle cx="1289.2" cy="116.4" r="6.36" fill="url(#sg)"/>
<circle cx="1307.1" cy="118.4" r="5.57" fill="url(#sg)"/>
<circle cx="1300.2" cy="175.1" r="6.36" fill="url(#sg)"/>
<circle cx="1266.4" cy="189.0" r="4.97" fill="url(#sg)"/>
<circle cx="1254.4" cy="203.9" r="6.96" fill="url(#sg)"/>
<circle cx="1250.5" cy="166.1" r="4.38" fill="url(#sg)"/>
<circle cx="1281.3" cy="210.9" r="6.96" fill="url(#sg)"/>
<circle cx="1237.5" cy="169.1" r="3.58" fill="url(#sg)"/>
<circle cx="1216.6" cy="52.7" r="4.38" fill="url(#sg)"/>
<circle cx="1218.6" cy="65.7" r="2.39" fill="url(#sg)"/>
<circle cx="1200.1" cy="72.6" r="2.78" fill="url(#sg)"/>
<circle cx="1175.9" cy="101.5" r="5.97" fill="url(#sg)"/>
<circle cx="1169.9" cy="113.4" r="4.97" fill="url(#sg)"/>
<circle cx="1208.7" cy="104.5" r="4.97" fill="url(#sg)"/>
<circle cx="1203.7" cy="98.5" r="3.98" fill="url(#sg)"/>
<circle cx="1188.8" cy="122.4" r="4.38" fill="url(#sg)"/>
<circle cx="1157.0" cy="127.3" r="4.38" fill="url(#sg)"/>
<circle cx="1195.8" cy="133.3" r="2.98" fill="url(#sg)"/>
<circle cx="1181.8" cy="138.3" r="3.58" fill="url(#sg)"/>
<circle cx="1181.8" cy="161.1" r="6.96" fill="url(#sg)"/>
<circle cx="1173.9" cy="131.3" r="2.39" fill="url(#sg)"/>
<circle cx="1167.9" cy="81.2" r="2.39" fill="url(#sg)"/>
<circle cx="1160.0" cy="72.6" r="2.39" fill="url(#sg)"/>
<circle cx="1189.8" cy="204.9" r="4.97" fill="url(#sg)"/>
<circle cx="1162.0" cy="208.9" r="6.96" fill="url(#sg)"/>
<circle cx="1221.6" cy="200.9" r="3.58" fill="url(#sg)"/>
<circle cx="1230.6" cy="216.8" r="7.96" fill="url(#sg)"/>
<circle cx="1282.3" cy="165.1" r="2.39" fill="url(#sg)"/>
<circle cx="1308.1" cy="89.5" r="1.99" fill="url(#sg)"/>
<circle cx="1107.1" cy="243.9" r="14.92" fill="url(#sg)"/>
<circle cx="1059.3" cy="252.8" r="9.94" fill="url(#sg)"/>
<circle cx="1041.4" cy="300.5" r="8.35" fill="url(#sg)"/>
<circle cx="1098.1" cy="287.6" r="7.56" fill="url(#sg)"/>
<circle cx="1025.5" cy="334.4" r="7.56" fill="url(#sg)"/>
<circle cx="1006.6" cy="252.8" r="5.97" fill="url(#sg)"/>
<circle cx="1006.6" cy="273.7" r="5.97" fill="url(#sg)"/>
<circle cx="1130.9" cy="356.2" r="7.56" fill="url(#sg)"/>
<circle cx="1120.0" cy="334.4" r="5.97" fill="url(#sg)"/>
<circle cx="1125.0" cy="339.3" r="4.38" fill="url(#sg)"/>
<circle cx="1055.3" cy="329.4" r="4.97" fill="url(#sg)"/>
<circle cx="1033.5" cy="351.3" r="3.58" fill="url(#sg)"/>
<circle cx="1091.1" cy="322.4" r="4.38" fill="url(#sg)"/>
<circle cx="1085.2" cy="309.5" r="3.98" fill="url(#sg)"/>
<circle cx="1109.0" cy="332.4" r="3.58" fill="url(#sg)"/>
<circle cx="1103.1" cy="323.4" r="2.98" fill="url(#sg)"/>
<circle cx="1082.2" cy="345.3" r="2.98" fill="url(#sg)"/>
<circle cx="1076.2" cy="287.6" r="3.58" fill="url(#sg)"/>
<circle cx="1064.3" cy="271.7" r="2.98" fill="url(#sg)"/>
<circle cx="1048.4" cy="277.7" r="2.39" fill="url(#sg)"/>
<circle cx="1093.1" cy="268.7" r="3.58" fill="url(#sg)"/>
<circle cx="1026.5" cy="243.9" r="3.98" fill="url(#sg)"/>
<circle cx="1137.9" cy="308.5" r="2.39" fill="url(#sg)"/>
<circle cx="1034.5" cy="223.0" r="2.39" fill="url(#sg)"/>
<circle cx="1150.8" cy="292.6" r="4.97" fill="url(#sg)"/>
<circle cx="1122.0" cy="280.7" r="2.98" fill="url(#sg)"/>
<circle cx="1137.9" cy="255.8" r="6.96" fill="url(#sg)"/>
<circle cx="1146.8" cy="237.9" r="3.98" fill="url(#sg)"/>
<circle cx="1230.6" cy="225.0" r="10.94" fill="url(#sg)"/>
<circle cx="1280.3" cy="306.5" r="14.92" fill="url(#sg)"/>
<circle cx="1244.5" cy="336.3" r="9.94" fill="url(#sg)"/>
<circle cx="1170.9" cy="324.4" r="8.95" fill="url(#sg)"/>
<circle cx="1173.9" cy="291.6" r="5.97" fill="url(#sg)"/>
<circle cx="1190.8" cy="231.9" r="7.96" fill="url(#sg)"/>
<circle cx="1273.3" cy="231.9" r="5.97" fill="url(#sg)"/>
<circle cx="1205.7" cy="356.2" r="6.96" fill="url(#sg)"/>
<circle cx="1254.4" cy="358.2" r="4.38" fill="url(#sg)"/>
<circle cx="1244.5" cy="372.1" r="3.58" fill="url(#sg)"/>
<circle cx="1239.5" cy="359.2" r="2.98" fill="url(#sg)"/>
<circle cx="1293.2" cy="249.8" r="3.98" fill="url(#sg)"/>
<circle cx="1268.4" cy="261.8" r="5.57" fill="url(#sg)"/>
<circle cx="1275.3" cy="260.8" r="2.98" fill="url(#sg)"/>
<circle cx="1171.9" cy="268.7" r="3.98" fill="url(#sg)"/>
<circle cx="1158.0" cy="250.8" r="2.98" fill="url(#sg)"/>
<circle cx="1167.9" cy="243.9" r="2.98" fill="url(#sg)"/>
<circle cx="1311.1" cy="275.7" r="2.39" fill="url(#sg)"/>
<circle cx="1310.1" cy="304.5" r="2.98" fill="url(#sg)"/>
<circle cx="1315.1" cy="293.6" r="1.99" fill="url(#sg)"/>
<circle cx="1299.2" cy="316.5" r="1.99" fill="url(#sg)"/>
<circle cx="1185.8" cy="288.6" r="3.98" fill="url(#sg)"/>
<circle cx="1199.7" cy="284.6" r="2.98" fill="url(#sg)"/>
<circle cx="1211.7" cy="285.6" r="2.98" fill="url(#sg)"/>
<circle cx="1216.6" cy="294.6" r="2.39" fill="url(#sg)"/>
<circle cx="1219.6" cy="340.3" r="3.58" fill="url(#sg)"/>
<circle cx="1255.4" cy="338.3" r="4.97" fill="url(#sg)"/>
<circle cx="1165.9" cy="383.1" r="1.99" fill="url(#sg)"/>
<circle cx="1271.3" cy="363.2" r="1.59" fill="url(#sg)"/>
<circle cx="1308.1" cy="280.7" r="1.59" fill="url(#sg)"/>
<circle cx="1284.3" cy="228.9" r="2.98" fill="url(#sg)"/>
<circle cx="1313.1" cy="232.9" r="2.98" fill="url(#sg)"/>
<circle cx="1114.1" cy="121.3" r="9.80" fill="url(#sg)"/>
<circle cx="1126.2" cy="118.3" r="4.52" fill="url(#sg)"/>
<circle cx="1155.6" cy="127.3" r="5.28" fill="url(#sg)"/>
<circle cx="1169.9" cy="113.8" r="4.52" fill="url(#sg)"/>
<circle cx="1189.5" cy="122.1" r="4.52" fill="url(#sg)"/>
<circle cx="1130.7" cy="158.3" r="6.79" fill="url(#sg)"/>
<circle cx="1149.6" cy="173.3" r="6.79" fill="url(#sg)"/>
<circle cx="1182.0" cy="159.8" r="6.79" fill="url(#sg)"/>
<circle cx="1231.8" cy="134.9" r="8.30" fill="url(#sg)"/>
<circle cx="1224.2" cy="136.4" r="3.77" fill="url(#sg)"/>
<circle cx="1195.6" cy="133.4" r="3.32" fill="url(#sg)"/>
<circle cx="1182.0" cy="138.7" r="3.02" fill="url(#sg)"/>
<circle cx="1148.1" cy="145.4" r="2.26" fill="url(#sg)"/>
<circle cx="1162.4" cy="208.8" r="6.03" fill="url(#sg)"/>
<circle cx="1189.5" cy="205.0" r="4.52" fill="url(#sg)"/>
<circle cx="1230.3" cy="223.1" r="10.56" fill="url(#sg)"/>
<circle cx="1188.8" cy="232.2" r="6.79" fill="url(#sg)"/>
<circle cx="1105.1" cy="245.7" r="12.82" fill="url(#sg)"/>
<circle cx="1111.1" cy="214.1" r="6.79" fill="url(#sg)"/>
<circle cx="1135.2" cy="238.2" r="3.77" fill="url(#sg)"/>
<circle cx="1168.4" cy="244.2" r="3.77" fill="url(#sg)"/>
<circle cx="1156.4" cy="251.8" r="3.77" fill="url(#sg)"/>
<circle cx="1222.7" cy="200.5" r="3.77" fill="url(#sg)"/>
<circle cx="1237.8" cy="168.8" r="3.02" fill="url(#sg)"/>
<circle cx="1114.9" cy="192.2" r="2.26" fill="url(#sg)"/>
<circle cx="1095.3" cy="189.9" r="1.81" fill="url(#sg)"/>
<circle cx="1173.7" cy="131.1" r="2.26" fill="url(#sg)"/>
<circle cx="1248.4" cy="202.0" r="3.77" fill="url(#sg)"/>
<circle cx="1246.9" cy="167.3" r="3.02" fill="url(#sg)"/>
<circle cx="1176.7" cy="183.9" r="2.26" fill="url(#sg)"/>
</g>
<line x1="354" y1="177.3" x2="235.5" y2="70.1" stroke="#e0e0e0" stroke-width="0.9" opacity="0.85"/>
<line x1="354" y1="177.3" x2="608.1" y2="105.1" stroke="#e0e0e0" stroke-width="0.9" opacity="0.85"/>
<line x1="354" y1="177.3" x2="369" y2="421" stroke="#e0e0e0" stroke-width="0.9" opacity="0.85"/>
<line x1="1237" y1="141.5" x2="962.1" y2="119.4" stroke="#e0e0e0" stroke-width="0.9" opacity="0.85"/>
<line x1="1237" y1="141.5" x2="1330.8" y2="51.8" stroke="#e0e0e0" stroke-width="0.9" opacity="0.85"/>
<line x1="1237" y1="141.5" x2="1249.3" y2="417.7" stroke="#e0e0e0" stroke-width="0.9" opacity="0.85"/>
<rect x="73" y="509" width="600" height="481" fill="none" stroke="#000" stroke-width="2.1"/>
<line x1="127.60" y1="990" x2="127.60" y2="999.5" stroke="#000" stroke-width="2.1"/>
<line x1="127.60" y1="509" x2="127.60" y2="518.5" stroke="#000" stroke-width="2.1"/>
<line x1="236.68" y1="990" x2="236.68" y2="999.5" stroke="#000" stroke-width="2.1"/>
<line x1="236.68" y1="509" x2="236.68" y2="518.5" stroke="#000" stroke-width="2.1"/>
<line x1="345.76" y1="990" x2="345.76" y2="999.5" stroke="#000" stroke-width="2.1"/>
<line x1="345.76" y1="509" x2="345.76" y2="518.5" stroke="#000" stroke-width="2.1"/>
<line x1="454.84" y1="990" x2="454.84" y2="999.5" stroke="#000" stroke-width="2.1"/>
<line x1="454.84" y1="509" x2="454.84" y2="518.5" stroke="#000" stroke-width="2.1"/>
<line x1="563.92" y1="990" x2="563.92" y2="999.5" stroke="#000" stroke-width="2.1"/>
<line x1="563.92" y1="509" x2="563.92" y2="518.5" stroke="#000" stroke-width="2.1"/>
<line x1="673.00" y1="990" x2="673.00" y2="999.5" stroke="#000" stroke-width="2.1"/>
<line x1="73.06" y1="990" x2="73.06" y2="995" stroke="#000" stroke-width="2.1"/>
<line x1="182.14" y1="990" x2="182.14" y2="995" stroke="#000" stroke-width="2.1"/>
<line x1="182.14" y1="509" x2="182.14" y2="514" stroke="#000" stroke-width="2.1"/>
<line x1="291.22" y1="990" x2="291.22" y2="995" stroke="#000" stroke-width="2.1"/>
<line x1="291.22" y1="509" x2="291.22" y2="514" stroke="#000" stroke-width="2.1"/>
<line x1="400.30" y1="990" x2="400.30" y2="995" stroke="#000" stroke-width="2.1"/>
<line x1="400.30" y1="509" x2="400.30" y2="514" stroke="#000" stroke-width="2.1"/>
<line x1="509.38" y1="990" x2="509.38" y2="995" stroke="#000" stroke-width="2.1"/>
<line x1="509.38" y1="509" x2="509.38" y2="514" stroke="#000" stroke-width="2.1"/>
<line x1="618.46" y1="990" x2="618.46" y2="995" stroke="#000" stroke-width="2.1"/>
<line x1="618.46" y1="509" x2="618.46" y2="514" stroke="#000" stroke-width="2.1"/>
<line x1="63.5" y1="950.30" x2="73" y2="950.30" stroke="#000" stroke-width="2.1"/>
<line x1="663.5" y1="950.30" x2="673" y2="950.30" stroke="#000" stroke-width="2.1"/>
<line x1="63.5" y1="870.00" x2="73" y2="870.00" stroke="#000" stroke-width="2.1"/>
<line x1="663.5" y1="870.00" x2="673" y2="870.00" stroke="#000" stroke-width="2.1"/>
<line x1="63.5" y1="789.70" x2="73" y2="789.70" stroke="#000" stroke-width="2.1"/>
<line x1="663.5" y1="789.70" x2="673" y2="789.70" stroke="#000" stroke-width="2.1"/>
<line x1="63.5" y1="709.40" x2="73" y2="709.40" stroke="#000" stroke-width="2.1"/>
<line x1="663.5" y1="709.40" x2="673" y2="709.40" stroke="#000" stroke-width="2.1"/>
<line x1="63.5" y1="629.10" x2="73" y2="629.10" stroke="#000" stroke-width="2.1"/>
<line x1="663.5" y1="629.10" x2="673" y2="629.10" stroke="#000" stroke-width="2.1"/>
<line x1="63.5" y1="548.80" x2="73" y2="548.80" stroke="#000" stroke-width="2.1"/>
<line x1="663.5" y1="548.80" x2="673" y2="548.80" stroke="#000" stroke-width="2.1"/>
<line x1="68" y1="990.45" x2="73" y2="990.45" stroke="#000" stroke-width="2.1"/>
<line x1="68" y1="910.15" x2="73" y2="910.15" stroke="#000" stroke-width="2.1"/>
<line x1="668" y1="910.15" x2="673" y2="910.15" stroke="#000" stroke-width="2.1"/>
<line x1="68" y1="829.85" x2="73" y2="829.85" stroke="#000" stroke-width="2.1"/>
<line x1="668" y1="829.85" x2="673" y2="829.85" stroke="#000" stroke-width="2.1"/>
<line x1="68" y1="749.55" x2="73" y2="749.55" stroke="#000" stroke-width="2.1"/>
<line x1="668" y1="749.55" x2="673" y2="749.55" stroke="#000" stroke-width="2.1"/>
<line x1="68" y1="669.25" x2="73" y2="669.25" stroke="#000" stroke-width="2.1"/>
<line x1="668" y1="669.25" x2="673" y2="669.25" stroke="#000" stroke-width="2.1"/>
<line x1="68" y1="588.95" x2="73" y2="588.95" stroke="#000" stroke-width="2.1"/>
<line x1="668" y1="588.95" x2="673" y2="588.95" stroke="#000" stroke-width="2.1"/>
<line x1="68" y1="508.65" x2="73" y2="508.65" stroke="#000" stroke-width="2.1"/>
<text x="127.60" y="1021.4" font-size="20.6" text-anchor="middle">0.0</text>
<text x="236.68" y="1021.4" font-size="20.6" text-anchor="middle">0.2</text>
<text x="345.76" y="1021.4" font-size="20.6" text-anchor="middle">0.4</text>
<text x="454.84" y="1021.4" font-size="20.6" text-anchor="middle">0.6</text>
<text x="563.92" y="1021.4" font-size="20.6" text-anchor="middle">0.8</text>
<text x="673.00" y="1021.4" font-size="20.6" text-anchor="middle">1.0</text>
<text x="56.5" y="956.25" font-size="20.6" text-anchor="end">0.0</text>
<text x="56.5" y="875.95" font-size="20.6" text-anchor="end">0.2</text>
<text x="56.5" y="795.65" font-size="20.6" text-anchor="end">0.4</text>
<text x="56.5" y="715.35" font-size="20.6" text-anchor="end">0.6</text>
<text x="56.5" y="635.05" font-size="20.6" text-anchor="end">0.8</text>
<text x="56.5" y="554.75" font-size="20.6" text-anchor="end">1.0</text>
<rect x="793" y="509" width="593.7" height="478.70000000000005" fill="none" stroke="#000" stroke-width="2.1"/>
<line x1="832.50" y1="987.7" x2="832.50" y2="997.2" stroke="#000" stroke-width="2.1"/>
<line x1="832.50" y1="509" x2="832.50" y2="518.5" stroke="#000" stroke-width="2.1"/>
<line x1="911.67" y1="987.7" x2="911.67" y2="997.2" stroke="#000" stroke-width="2.1"/>
<line x1="911.67" y1="509" x2="911.67" y2="518.5" stroke="#000" stroke-width="2.1"/>
<line x1="990.84" y1="987.7" x2="990.84" y2="997.2" stroke="#000" stroke-width="2.1"/>
<line x1="990.84" y1="509" x2="990.84" y2="518.5" stroke="#000" stroke-width="2.1"/>
<line x1="1070.01" y1="987.7" x2="1070.01" y2="997.2" stroke="#000" stroke-width="2.1"/>
<line x1="1070.01" y1="509" x2="1070.01" y2="518.5" stroke="#000" stroke-width="2.1"/>
<line x1="1149.18" y1="987.7" x2="1149.18" y2="997.2" stroke="#000" stroke-width="2.1"/>
<line x1="1149.18" y1="509" x2="1149.18" y2="518.5" stroke="#000" stroke-width="2.1"/>
<line x1="1228.35" y1="987.7" x2="1228.35" y2="997.2" stroke="#000" stroke-width="2.1"/>
<line x1="1228.35" y1="509" x2="1228.35" y2="518.5" stroke="#000" stroke-width="2.1"/>
<line x1="1307.52" y1="987.7" x2="1307.52" y2="997.2" stroke="#000" stroke-width="2.1"/>
<line x1="1307.52" y1="509" x2="1307.52" y2="518.5" stroke="#000" stroke-width="2.1"/>
<line x1="1386.69" y1="987.7" x2="1386.69" y2="997.2" stroke="#000" stroke-width="2.1"/>
<line x1="792.91" y1="987.7" x2="792.91" y2="992.7" stroke="#000" stroke-width="2.1"/>
<line x1="872.09" y1="987.7" x2="872.09" y2="992.7" stroke="#000" stroke-width="2.1"/>
<line x1="872.09" y1="509" x2="872.09" y2="514" stroke="#000" stroke-width="2.1"/>
<line x1="951.25" y1="987.7" x2="951.25" y2="992.7" stroke="#000" stroke-width="2.1"/>
<line x1="951.25" y1="509" x2="951.25" y2="514" stroke="#000" stroke-width="2.1"/>
<line x1="1030.42" y1="987.7" x2="1030.42" y2="992.7" stroke="#000" stroke-width="2.1"/>
<line x1="1030.42" y1="509" x2="1030.42" y2="514" stroke="#000" stroke-width="2.1"/>
<line x1="1109.60" y1="987.7" x2="1109.60" y2="992.7" stroke="#000" stroke-width="2.1"/>
<line x1="1109.60" y1="509" x2="1109.60" y2="514" stroke="#000" stroke-width="2.1"/>
<line x1="1188.77" y1="987.7" x2="1188.77" y2="992.7" stroke="#000" stroke-width="2.1"/>
<line x1="1188.77" y1="509" x2="1188.77" y2="514" stroke="#000" stroke-width="2.1"/>
<line x1="1267.93" y1="987.7" x2="1267.93" y2="992.7" stroke="#000" stroke-width="2.1"/>
<line x1="1267.93" y1="509" x2="1267.93" y2="514" stroke="#000" stroke-width="2.1"/>
<line x1="1347.11" y1="987.7" x2="1347.11" y2="992.7" stroke="#000" stroke-width="2.1"/>
<line x1="1347.11" y1="509" x2="1347.11" y2="514" stroke="#000" stroke-width="2.1"/>
<line x1="783.5" y1="947.50" x2="793" y2="947.50" stroke="#000" stroke-width="2.1"/>
<line x1="1377.2" y1="947.50" x2="1386.7" y2="947.50" stroke="#000" stroke-width="2.1"/>
<line x1="783.5" y1="867.78" x2="793" y2="867.78" stroke="#000" stroke-width="2.1"/>
<line x1="1377.2" y1="867.78" x2="1386.7" y2="867.78" stroke="#000" stroke-width="2.1"/>
<line x1="783.5" y1="788.06" x2="793" y2="788.06" stroke="#000" stroke-width="2.1"/>
<line x1="1377.2" y1="788.06" x2="1386.7" y2="788.06" stroke="#000" stroke-width="2.1"/>
<line x1="783.5" y1="708.34" x2="793" y2="708.34" stroke="#000" stroke-width="2.1"/>
<line x1="1377.2" y1="708.34" x2="1386.7" y2="708.34" stroke="#000" stroke-width="2.1"/>
<line x1="783.5" y1="628.62" x2="793" y2="628.62" stroke="#000" stroke-width="2.1"/>
<line x1="1377.2" y1="628.62" x2="1386.7" y2="628.62" stroke="#000" stroke-width="2.1"/>
<line x1="783.5" y1="548.90" x2="793" y2="548.90" stroke="#000" stroke-width="2.1"/>
<line x1="1377.2" y1="548.90" x2="1386.7" y2="548.90" stroke="#000" stroke-width="2.1"/>
<line x1="788" y1="987.36" x2="793" y2="987.36" stroke="#000" stroke-width="2.1"/>
<line x1="788" y1="907.64" x2="793" y2="907.64" stroke="#000" stroke-width="2.1"/>
<line x1="1381.7" y1="907.64" x2="1386.7" y2="907.64" stroke="#000" stroke-width="2.1"/>
<line x1="788" y1="827.92" x2="793" y2="827.92" stroke="#000" stroke-width="2.1"/>
<line x1="1381.7" y1="827.92" x2="1386.7" y2="827.92" stroke="#000" stroke-width="2.1"/>
<line x1="788" y1="748.20" x2="793" y2="748.20" stroke="#000" stroke-width="2.1"/>
<line x1="1381.7" y1="748.20" x2="1386.7" y2="748.20" stroke="#000" stroke-width="2.1"/>
<line x1="788" y1="668.48" x2="793" y2="668.48" stroke="#000" stroke-width="2.1"/>
<line x1="1381.7" y1="668.48" x2="1386.7" y2="668.48" stroke="#000" stroke-width="2.1"/>
<line x1="788" y1="588.76" x2="793" y2="588.76" stroke="#000" stroke-width="2.1"/>
<line x1="1381.7" y1="588.76" x2="1386.7" y2="588.76" stroke="#000" stroke-width="2.1"/>
<line x1="788" y1="509.04" x2="793" y2="509.04" stroke="#000" stroke-width="2.1"/>
<text x="832.50" y="1019.1" font-size="20.6" text-anchor="middle">0.0</text>
<text x="911.67" y="1019.1" font-size="20.6" text-anchor="middle">0.1</text>
<text x="990.84" y="1019.1" font-size="20.6" text-anchor="middle">0.2</text>
<text x="1070.01" y="1019.1" font-size="20.6" text-anchor="middle">0.3</text>
<text x="1149.18" y="1019.1" font-size="20.6" text-anchor="middle">0.4</text>
<text x="1228.35" y="1019.1" font-size="20.6" text-anchor="middle">0.5</text>
<text x="1307.52" y="1019.1" font-size="20.6" text-anchor="middle">0.6</text>
<text x="1386.69" y="1019.1" font-size="20.6" text-anchor="middle">0.7</text>
<text x="776.5" y="953.45" font-size="20.6" text-anchor="end">0.0</text>
<text x="776.5" y="873.73" font-size="20.6" text-anchor="end">0.2</text>
<text x="776.5" y="794.01" font-size="20.6" text-anchor="end">0.4</text>
<text x="776.5" y="714.29" font-size="20.6" text-anchor="end">0.6</text>
<text x="776.5" y="634.57" font-size="20.6" text-anchor="end">0.8</text>
<text x="776.5" y="554.85" font-size="20.6" text-anchor="end">1.0</text>
<polyline points="138.0,551.0 147.6,576.3 152.0,584.9 156.0,592.7 158.9,601.3 164.3,609.4 171.2,616.0 177.8,622.6 183.4,628.7 188.3,637.3 190.8,692.0 191.3,701.6 194.4,794.3 195.7,803.5 198.9,812.1 205.9,815.1 216.7,816.4 220.6,844.1 228.9,846.9 237.8,848.7 244.7,852.3 250.4,889.3 257.9,891.1 263.6,908.9 272.9,910.3 337.9,911.4 347.0,913.6 375.0,914.3 401.0,944.0" fill="none" stroke="#ec3a3c" stroke-width="4.3" stroke-linecap="round" stroke-linejoin="round" stroke-dasharray="0 9.3"/>
<polyline points="859.3,562.2 881.5,603.2 893.5,627.5 901.1,644.0 906.3,651.3 912.5,657.7 919.8,664.4 923.9,673.1 927.0,681.6 929.7,690.3 936.4,696.1 944.7,701.0 951.9,706.2 958.8,713.7 962.9,722.0 970.6,739.0 976.9,756.6 979.4,765.5 984.6,772.1 992.8,775.2 1018.3,786.6 1025.0,792.2 1032.2,798.4 1033.7,807.4 1035.8,835.3 1046.1,944.1 1046.3,947.5" fill="none" stroke="#ec3a3c" stroke-width="4.3" stroke-linecap="round" stroke-linejoin="round" stroke-dasharray="0 9.3"/>
<polyline points="159.3,951.2 243.0,946.6 271.0,943.5 290.0,942.1 327.0,941.7 336.0,940.3 374.0,939.7 392.0,938.0 401.0,936.5 410.6,932.7 449.0,892.0 456.0,889.0 473.0,882.7 478.0,875.0 490.9,861.1 526.3,829.4 533.0,814.3 574.9,711.4 583.0,684.3" fill="none" stroke="#ff0000" stroke-width="4.3" stroke-linecap="round" stroke-linejoin="round" stroke-dasharray="0 9.3"/>
<polyline points="857.0,947.4 905.7,945.1 924.0,943.2 941.7,939.4 959.4,935.4 977.5,930.3 995.2,924.3 1003.2,922.0 1011.5,917.2 1019.2,912.6 1023.5,904.8 1031.6,888.2 1039.1,881.3 1046.7,879.3 1051.9,872.2 1058.5,865.4 1066.8,861.2 1084.5,854.0 1093.4,851.9 1112.0,850.5 1213.3,850.1" fill="none" stroke="#ff0000" stroke-width="4.3" stroke-linecap="round" stroke-linejoin="round" stroke-dasharray="0 9.3"/>
<polyline points="137.4,549.8 149.6,563.3 155.7,576.8 161.9,600.0 166.8,640.5 172.9,657.6 180.2,669.9 186.4,694.4 192.5,714.0 199.9,755.7 203.5,779.0 210.4,781.4 216.7,842.8 227.2,842.4 235.1,844.4 252.3,846.4 268.6,846.4 277.1,896.4 313.6,897.1 325.0,905.0 345.0,905.7 377.1,950.0 624.5,950.0" fill="none" stroke="#000" stroke-width="4.2" stroke-linecap="round" stroke-linejoin="round"/>
<polyline points="137.0,950.0 156.7,950.0 167.9,948.7 197.8,945.3 203.8,944.0 210.7,941.9 217.6,941.0 227.0,941.4 233.8,938.4 251.4,935.4 277.1,934.0 312.9,932.1 324.3,920.0 345.7,917.1 377.1,915.7 401.1,908.9 412.4,903.8 473.5,888.2 512.7,833.5 549.5,613.6 624.5,589.7" fill="none" stroke="#000" stroke-width="4.2" stroke-linecap="round" stroke-linejoin="round"/>
<polyline points="850.0,561.1 875.2,606.3 892.8,632.2 906.3,666.4 916.7,687.2 925.0,694.4 935.3,701.7 946.7,725.5 954.5,764.5 963.8,769.4 974.8,789.7 998.4,801.1 1008.4,891.3 1022.9,947.3 1236.0,947.5" fill="none" stroke="#000" stroke-width="4.2" stroke-linecap="round" stroke-linejoin="round"/>
<polyline points="862.0,947.4 874.3,946.9 894.9,944.8 920.0,940.6 942.9,934.9 968.0,926.3 978.3,918.9 988.6,916.0 1004.2,906.8 1025.0,892.3 1037.4,887.6 1049.8,878.9 1080.9,861.2 1120.9,841.2 1153.4,829.2 1213.7,824.7 1328.8,822.8" fill="none" stroke="#000" stroke-width="4.2" stroke-linecap="round" stroke-linejoin="round"/>
<rect x="282.2" y="534.6" width="249.50000000000006" height="65.60000000000002" fill="#fff" stroke="#808080" stroke-width="1.1"/>
<line x1="285" y1="552" x2="342.6" y2="552" stroke="#ff0000" stroke-width="4.3" stroke-linecap="round" stroke-dasharray="0 9.6"/>
<line x1="285" y1="582.5" x2="342.6" y2="582.5" stroke="#000" stroke-width="4.2" stroke-linecap="round"/>
<text x="348.5" y="560.7" font-size="25.3">Target</text>
<text x="348.5" y="591.5" font-size="25.3">Reconstructions</text>
<rect x="1107.9" y="548.7" width="246.5" height="64.59999999999991" fill="#fff" stroke="#808080" stroke-width="1.1"/>
<line x1="1111" y1="565.7" x2="1168.6" y2="565.7" stroke="#ff0000" stroke-width="4.3" stroke-linecap="round" stroke-dasharray="0 9.6"/>
<line x1="1111" y1="596.3" x2="1168.6" y2="596.3" stroke="#000" stroke-width="4.2" stroke-linecap="round"/>
<text x="1173.5" y="574.7" font-size="25.3">Target</text>
<text x="1173.5" y="605" font-size="25.3">Reconstructions</text>
<text x="373" y="1061.8" font-size="25" text-anchor="middle">Water Saturation</text>
<text x="1090" y="1058.5" font-size="25" text-anchor="middle">Water Saturation</text>
<text transform="translate(18,749) rotate(-90)" font-size="25" text-anchor="middle">Relative Permeability</text>
<text transform="translate(739,748) rotate(-90)" font-size="25" text-anchor="middle">Relative Permeability</text>
<text x="154" y="30" font-size="44" font-weight="bold">A</text>
<text x="870" y="30" font-size="44" font-weight="bold">B</text>
<text x="-1" y="513" font-size="44" font-weight="bold">C</text>
<text x="707" y="508" font-size="44" font-weight="bold">D</text>
</svg></body></html>
